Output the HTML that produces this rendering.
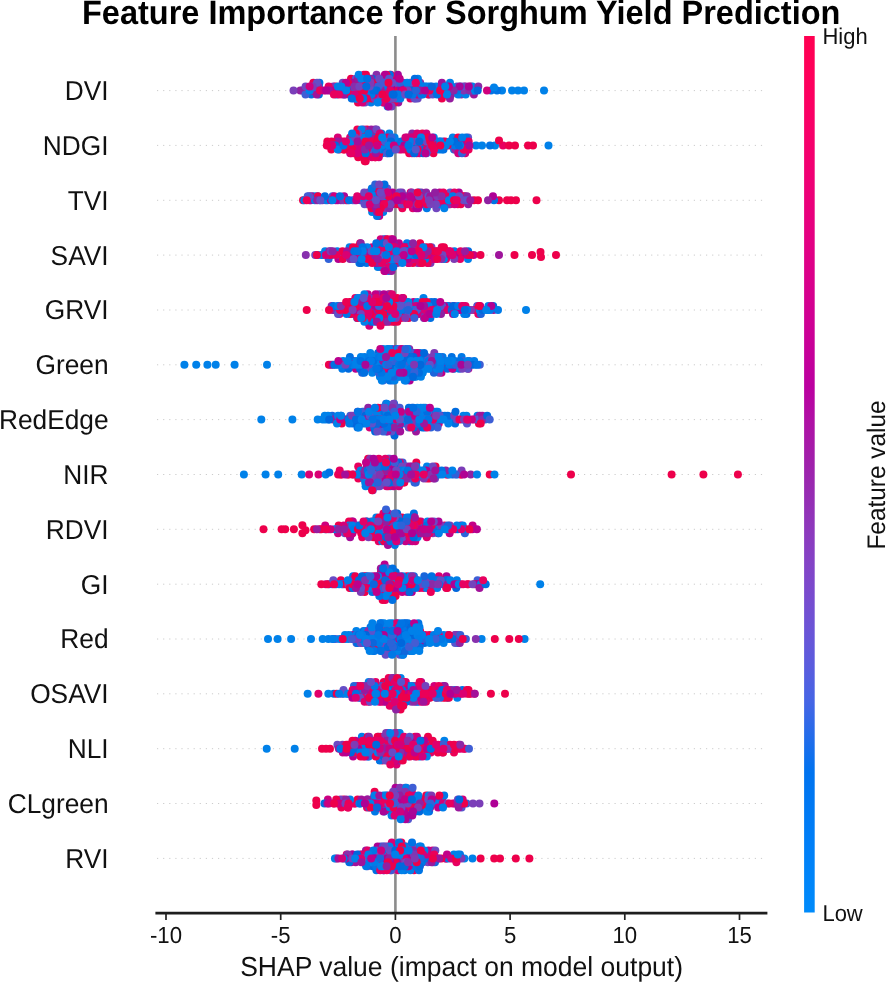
<!DOCTYPE html><html><head><meta charset="utf-8"><style>html,body{margin:0;padding:0;background:#fff;width:886px;height:982px;overflow:hidden}svg{display:block;will-change:transform}text{font-family:"Liberation Sans",sans-serif;text-rendering:geometricPrecision}</style></head><body>
<svg width="886" height="982" viewBox="0 0 886 982">
<defs><linearGradient id="cb" x1="0" y1="1" x2="0" y2="0">
<stop offset="0.00" stop-color="#008bfb"/>
<stop offset="0.04" stop-color="#0085f9"/>
<stop offset="0.08" stop-color="#007ff7"/>
<stop offset="0.12" stop-color="#0079f3"/>
<stop offset="0.16" stop-color="#0073ef"/>
<stop offset="0.20" stop-color="#236cea"/>
<stop offset="0.24" stop-color="#4565e5"/>
<stop offset="0.28" stop-color="#5a5dde"/>
<stop offset="0.32" stop-color="#6a55d7"/>
<stop offset="0.36" stop-color="#784ccf"/>
<stop offset="0.40" stop-color="#8443c6"/>
<stop offset="0.44" stop-color="#8e38bc"/>
<stop offset="0.48" stop-color="#972bb2"/>
<stop offset="0.52" stop-color="#a21eaa"/>
<stop offset="0.56" stop-color="#af11a5"/>
<stop offset="0.60" stop-color="#bb00a0"/>
<stop offset="0.64" stop-color="#c60099"/>
<stop offset="0.68" stop-color="#d00093"/>
<stop offset="0.72" stop-color="#d9008b"/>
<stop offset="0.76" stop-color="#e20084"/>
<stop offset="0.80" stop-color="#e9007c"/>
<stop offset="0.84" stop-color="#f00074"/>
<stop offset="0.88" stop-color="#f6006b"/>
<stop offset="0.92" stop-color="#fb0063"/>
<stop offset="0.96" stop-color="#ff005a"/>
<stop offset="1.00" stop-color="#ff0051"/>
</linearGradient></defs>
<line x1="157" y1="90.6" x2="763" y2="90.6" stroke="#cccccc" stroke-width="1" stroke-dasharray="1.2 4.9"/>
<line x1="157" y1="145.4" x2="763" y2="145.4" stroke="#cccccc" stroke-width="1" stroke-dasharray="1.2 4.9"/>
<line x1="157" y1="200.3" x2="763" y2="200.3" stroke="#cccccc" stroke-width="1" stroke-dasharray="1.2 4.9"/>
<line x1="157" y1="255.1" x2="763" y2="255.1" stroke="#cccccc" stroke-width="1" stroke-dasharray="1.2 4.9"/>
<line x1="157" y1="310.0" x2="763" y2="310.0" stroke="#cccccc" stroke-width="1" stroke-dasharray="1.2 4.9"/>
<line x1="157" y1="364.8" x2="763" y2="364.8" stroke="#cccccc" stroke-width="1" stroke-dasharray="1.2 4.9"/>
<line x1="157" y1="419.6" x2="763" y2="419.6" stroke="#cccccc" stroke-width="1" stroke-dasharray="1.2 4.9"/>
<line x1="157" y1="474.5" x2="763" y2="474.5" stroke="#cccccc" stroke-width="1" stroke-dasharray="1.2 4.9"/>
<line x1="157" y1="529.3" x2="763" y2="529.3" stroke="#cccccc" stroke-width="1" stroke-dasharray="1.2 4.9"/>
<line x1="157" y1="584.2" x2="763" y2="584.2" stroke="#cccccc" stroke-width="1" stroke-dasharray="1.2 4.9"/>
<line x1="157" y1="639.0" x2="763" y2="639.0" stroke="#cccccc" stroke-width="1" stroke-dasharray="1.2 4.9"/>
<line x1="157" y1="693.8" x2="763" y2="693.8" stroke="#cccccc" stroke-width="1" stroke-dasharray="1.2 4.9"/>
<line x1="157" y1="748.7" x2="763" y2="748.7" stroke="#cccccc" stroke-width="1" stroke-dasharray="1.2 4.9"/>
<line x1="157" y1="803.5" x2="763" y2="803.5" stroke="#cccccc" stroke-width="1" stroke-dasharray="1.2 4.9"/>
<line x1="157" y1="858.4" x2="763" y2="858.4" stroke="#cccccc" stroke-width="1" stroke-dasharray="1.2 4.9"/>
<line x1="395.4" y1="36" x2="395.4" y2="912" stroke="#8c8c8c" stroke-width="2.6"/>
<circle cx="456.9" cy="86.6" r="4" fill="#5855cd"/>
<circle cx="302.3" cy="90.6" r="4" fill="#1b65db"/>
<circle cx="473.9" cy="94.5" r="4" fill="#9c169c"/>
<circle cx="400.0" cy="94.5" r="4" fill="#ed004b"/>
<circle cx="436.1" cy="86.6" r="4" fill="#0080e9"/>
<circle cx="518.0" cy="90.6" r="4" fill="#0081e9"/>
<circle cx="379.7" cy="82.7" r="4" fill="#c40086"/>
<circle cx="381.1" cy="78.8" r="4" fill="#ed004b"/>
<circle cx="449.6" cy="94.5" r="4" fill="#006bde"/>
<circle cx="465.7" cy="90.6" r="4" fill="#0076e6"/>
<circle cx="370.8" cy="90.6" r="4" fill="#694bc4"/>
<circle cx="544.0" cy="90.6" r="4" fill="#0081e9"/>
<circle cx="335.4" cy="86.6" r="4" fill="#ed004b"/>
<circle cx="429.1" cy="94.5" r="4" fill="#654ec7"/>
<circle cx="362.0" cy="82.7" r="4" fill="#aa0496"/>
<circle cx="311.3" cy="94.5" r="4" fill="#006ee0"/>
<circle cx="304.6" cy="90.6" r="4" fill="#c40086"/>
<circle cx="470.5" cy="86.6" r="4" fill="#ed004b"/>
<circle cx="412.8" cy="86.6" r="4" fill="#674cc5"/>
<circle cx="410.4" cy="98.5" r="4" fill="#ea005a"/>
<circle cx="399.4" cy="82.7" r="4" fill="#006cdf"/>
<circle cx="428.4" cy="94.5" r="4" fill="#ec0057"/>
<circle cx="342.9" cy="86.6" r="4" fill="#8137b2"/>
<circle cx="502.0" cy="90.6" r="4" fill="#0081e9"/>
<circle cx="356.8" cy="86.6" r="4" fill="#7741bb"/>
<circle cx="360.5" cy="94.5" r="4" fill="#bd008c"/>
<circle cx="360.8" cy="82.7" r="4" fill="#df006c"/>
<circle cx="386.3" cy="90.6" r="4" fill="#db0071"/>
<circle cx="368.9" cy="98.5" r="4" fill="#ed004f"/>
<circle cx="357.0" cy="82.7" r="4" fill="#b30092"/>
<circle cx="368.6" cy="90.6" r="4" fill="#8f22a2"/>
<circle cx="394.3" cy="78.8" r="4" fill="#007ee8"/>
<circle cx="408.6" cy="86.6" r="4" fill="#8a2ca8"/>
<circle cx="369.4" cy="94.5" r="4" fill="#931fa0"/>
<circle cx="378.2" cy="98.5" r="4" fill="#0081e9"/>
<circle cx="336.4" cy="94.5" r="4" fill="#0071e3"/>
<circle cx="312.2" cy="90.6" r="4" fill="#e8005d"/>
<circle cx="472.3" cy="86.6" r="4" fill="#0081e9"/>
<circle cx="441.3" cy="94.5" r="4" fill="#0081e9"/>
<circle cx="371.0" cy="102.4" r="4" fill="#007de8"/>
<circle cx="349.9" cy="90.6" r="4" fill="#0074e4"/>
<circle cx="397.9" cy="74.8" r="4" fill="#a80798"/>
<circle cx="341.6" cy="90.6" r="4" fill="#991a9d"/>
<circle cx="378.3" cy="82.7" r="4" fill="#cf007d"/>
<circle cx="381.2" cy="90.6" r="4" fill="#3b60d6"/>
<circle cx="364.1" cy="78.8" r="4" fill="#d50078"/>
<circle cx="497.0" cy="90.6" r="4" fill="#0073e4"/>
<circle cx="383.0" cy="102.4" r="4" fill="#7841bb"/>
<circle cx="373.6" cy="82.7" r="4" fill="#007fe8"/>
<circle cx="347.7" cy="90.6" r="4" fill="#0081e9"/>
<circle cx="469.6" cy="90.6" r="4" fill="#435dd4"/>
<circle cx="383.4" cy="90.6" r="4" fill="#0081e9"/>
<circle cx="465.5" cy="86.6" r="4" fill="#9b189d"/>
<circle cx="422.7" cy="94.5" r="4" fill="#0075e5"/>
<circle cx="351.2" cy="86.6" r="4" fill="#ce007e"/>
<circle cx="333.3" cy="86.6" r="4" fill="#8236b1"/>
<circle cx="491.0" cy="90.6" r="4" fill="#0073e4"/>
<circle cx="381.3" cy="82.7" r="4" fill="#ec0056"/>
<circle cx="417.7" cy="90.6" r="4" fill="#d40078"/>
<circle cx="385.6" cy="78.8" r="4" fill="#ea0059"/>
<circle cx="366.0" cy="98.5" r="4" fill="#e8005d"/>
<circle cx="353.3" cy="90.6" r="4" fill="#e9005c"/>
<circle cx="314.8" cy="90.6" r="4" fill="#7d3cb6"/>
<circle cx="300.3" cy="90.6" r="4" fill="#9121a1"/>
<circle cx="363.6" cy="94.5" r="4" fill="#cc0080"/>
<circle cx="374.4" cy="90.6" r="4" fill="#ed004b"/>
<circle cx="308.1" cy="90.6" r="4" fill="#e0006b"/>
<circle cx="389.9" cy="102.4" r="4" fill="#0081e9"/>
<circle cx="321.1" cy="90.6" r="4" fill="#0081e9"/>
<circle cx="444.5" cy="90.6" r="4" fill="#7543bc"/>
<circle cx="414.4" cy="98.5" r="4" fill="#7c3db7"/>
<circle cx="377.2" cy="78.8" r="4" fill="#0070e1"/>
<circle cx="426.9" cy="86.6" r="4" fill="#006ddf"/>
<circle cx="387.6" cy="106.4" r="4" fill="#0081e9"/>
<circle cx="395.4" cy="90.6" r="4" fill="#a90497"/>
<circle cx="365.0" cy="102.4" r="4" fill="#674dc5"/>
<circle cx="402.6" cy="94.5" r="4" fill="#0081e9"/>
<circle cx="432.8" cy="90.6" r="4" fill="#8533ae"/>
<circle cx="359.3" cy="90.6" r="4" fill="#c10089"/>
<circle cx="487.0" cy="90.6" r="4" fill="#d0007d"/>
<circle cx="375.8" cy="86.6" r="4" fill="#007be8"/>
<circle cx="461.2" cy="94.5" r="4" fill="#8a2da9"/>
<circle cx="342.7" cy="82.7" r="4" fill="#7047c1"/>
<circle cx="344.5" cy="94.5" r="4" fill="#0081e9"/>
<circle cx="383.0" cy="98.5" r="4" fill="#ed004b"/>
<circle cx="413.3" cy="90.6" r="4" fill="#882eab"/>
<circle cx="376.5" cy="74.8" r="4" fill="#892ea9"/>
<circle cx="417.7" cy="98.5" r="4" fill="#6b4ac3"/>
<circle cx="354.7" cy="90.6" r="4" fill="#007de8"/>
<circle cx="451.2" cy="94.5" r="4" fill="#9121a1"/>
<circle cx="317.6" cy="90.6" r="4" fill="#0081e9"/>
<circle cx="368.4" cy="82.7" r="4" fill="#ed0053"/>
<circle cx="398.3" cy="102.4" r="4" fill="#a1139a"/>
<circle cx="358.0" cy="102.4" r="4" fill="#ed004b"/>
<circle cx="318.9" cy="94.5" r="4" fill="#006de0"/>
<circle cx="336.1" cy="90.6" r="4" fill="#0081e9"/>
<circle cx="389.1" cy="98.5" r="4" fill="#d2007b"/>
<circle cx="391.2" cy="102.4" r="4" fill="#0081e9"/>
<circle cx="441.9" cy="98.5" r="4" fill="#ed004b"/>
<circle cx="420.2" cy="82.7" r="4" fill="#882eab"/>
<circle cx="451.3" cy="86.6" r="4" fill="#007de8"/>
<circle cx="349.5" cy="94.5" r="4" fill="#df006c"/>
<circle cx="381.5" cy="86.6" r="4" fill="#5c53cb"/>
<circle cx="410.4" cy="94.5" r="4" fill="#0073e4"/>
<circle cx="405.2" cy="86.6" r="4" fill="#0072e3"/>
<circle cx="512.0" cy="90.6" r="4" fill="#0081e9"/>
<circle cx="367.3" cy="86.6" r="4" fill="#3461d7"/>
<circle cx="305.6" cy="86.6" r="4" fill="#7146bf"/>
<circle cx="393.0" cy="82.7" r="4" fill="#5c53cb"/>
<circle cx="392.8" cy="78.8" r="4" fill="#b8008e"/>
<circle cx="378.9" cy="94.5" r="4" fill="#9e159b"/>
<circle cx="418.6" cy="82.7" r="4" fill="#0081e9"/>
<circle cx="400.1" cy="86.6" r="4" fill="#7543bc"/>
<circle cx="347.7" cy="86.6" r="4" fill="#b00093"/>
<circle cx="394.1" cy="102.4" r="4" fill="#ed0054"/>
<circle cx="351.0" cy="78.8" r="4" fill="#ed004b"/>
<circle cx="461.4" cy="90.6" r="4" fill="#941e9f"/>
<circle cx="356.8" cy="98.5" r="4" fill="#7147c0"/>
<circle cx="414.9" cy="94.5" r="4" fill="#465cd3"/>
<circle cx="383.4" cy="98.5" r="4" fill="#0081e9"/>
<circle cx="473.3" cy="90.6" r="4" fill="#0081e9"/>
<circle cx="372.1" cy="78.8" r="4" fill="#0069dd"/>
<circle cx="441.3" cy="90.6" r="4" fill="#0081e9"/>
<circle cx="387.0" cy="102.4" r="4" fill="#5a54cc"/>
<circle cx="319.0" cy="86.6" r="4" fill="#3661d7"/>
<circle cx="305.5" cy="94.5" r="4" fill="#405ed5"/>
<circle cx="293.5" cy="90.6" r="4" fill="#7b3eb8"/>
<circle cx="315.6" cy="86.6" r="4" fill="#6f48c1"/>
<circle cx="366.6" cy="94.5" r="4" fill="#0081e9"/>
<circle cx="389.9" cy="94.5" r="4" fill="#e50064"/>
<circle cx="384.6" cy="86.6" r="4" fill="#961d9f"/>
<circle cx="458.8" cy="90.6" r="4" fill="#ea0059"/>
<circle cx="373.1" cy="82.7" r="4" fill="#ed004b"/>
<circle cx="446.1" cy="86.6" r="4" fill="#0e66db"/>
<circle cx="380.5" cy="98.5" r="4" fill="#007ee8"/>
<circle cx="349.6" cy="82.7" r="4" fill="#7147c0"/>
<circle cx="402.8" cy="86.6" r="4" fill="#0081e9"/>
<circle cx="415.6" cy="86.6" r="4" fill="#3761d7"/>
<circle cx="403.1" cy="82.7" r="4" fill="#8c2aa7"/>
<circle cx="316.7" cy="94.5" r="4" fill="#9d159b"/>
<circle cx="397.9" cy="98.5" r="4" fill="#d80074"/>
<circle cx="458.1" cy="94.5" r="4" fill="#0080e9"/>
<circle cx="386.1" cy="78.8" r="4" fill="#644ec7"/>
<circle cx="465.7" cy="94.5" r="4" fill="#0081e9"/>
<circle cx="393.5" cy="86.6" r="4" fill="#6d49c2"/>
<circle cx="377.9" cy="94.5" r="4" fill="#5e52cb"/>
<circle cx="399.7" cy="86.6" r="4" fill="#b40091"/>
<circle cx="384.2" cy="94.5" r="4" fill="#ed004b"/>
<circle cx="339.0" cy="90.6" r="4" fill="#0076e5"/>
<circle cx="355.9" cy="78.8" r="4" fill="#6350c8"/>
<circle cx="450.0" cy="82.7" r="4" fill="#0081e9"/>
<circle cx="371.9" cy="98.5" r="4" fill="#ed004b"/>
<circle cx="406.7" cy="90.6" r="4" fill="#e50064"/>
<circle cx="363.9" cy="74.8" r="4" fill="#eb0058"/>
<circle cx="347.0" cy="86.6" r="4" fill="#0071e2"/>
<circle cx="463.7" cy="90.6" r="4" fill="#8434b0"/>
<circle cx="384.0" cy="102.4" r="4" fill="#db0071"/>
<circle cx="385.6" cy="82.7" r="4" fill="#0076e5"/>
<circle cx="438.3" cy="90.6" r="4" fill="#0081e9"/>
<circle cx="356.4" cy="82.7" r="4" fill="#9121a1"/>
<circle cx="389.6" cy="86.6" r="4" fill="#961d9f"/>
<circle cx="390.8" cy="74.8" r="4" fill="#ed0055"/>
<circle cx="378.8" cy="86.6" r="4" fill="#6c49c2"/>
<circle cx="374.8" cy="98.5" r="4" fill="#7e3cb5"/>
<circle cx="357.4" cy="90.6" r="4" fill="#7146c0"/>
<circle cx="353.1" cy="82.7" r="4" fill="#a50e99"/>
<circle cx="396.5" cy="82.7" r="4" fill="#b7008f"/>
<circle cx="348.0" cy="82.7" r="4" fill="#ed004b"/>
<circle cx="415.4" cy="98.5" r="4" fill="#6151c9"/>
<circle cx="411.3" cy="86.6" r="4" fill="#0079e7"/>
<circle cx="379.0" cy="90.6" r="4" fill="#8f22a2"/>
<circle cx="451.3" cy="90.6" r="4" fill="#0067dc"/>
<circle cx="447.0" cy="90.6" r="4" fill="#db0071"/>
<circle cx="463.8" cy="86.6" r="4" fill="#7d3cb6"/>
<circle cx="343.4" cy="90.6" r="4" fill="#006fe1"/>
<circle cx="330.7" cy="90.6" r="4" fill="#ed004b"/>
<circle cx="372.5" cy="86.6" r="4" fill="#cb0081"/>
<circle cx="417.6" cy="94.5" r="4" fill="#ce007e"/>
<circle cx="390.6" cy="98.5" r="4" fill="#3860d7"/>
<circle cx="373.7" cy="94.5" r="4" fill="#db0071"/>
<circle cx="359.0" cy="94.5" r="4" fill="#ed004b"/>
<circle cx="377.7" cy="102.4" r="4" fill="#0081e9"/>
<circle cx="400.3" cy="98.5" r="4" fill="#0081e9"/>
<circle cx="342.3" cy="94.5" r="4" fill="#a21199"/>
<circle cx="353.9" cy="94.5" r="4" fill="#6a4bc4"/>
<circle cx="362.7" cy="78.8" r="4" fill="#ed004b"/>
<circle cx="361.9" cy="86.6" r="4" fill="#ed004b"/>
<circle cx="457.1" cy="90.6" r="4" fill="#0077e6"/>
<circle cx="388.0" cy="86.6" r="4" fill="#0079e7"/>
<circle cx="389.8" cy="74.8" r="4" fill="#0071e3"/>
<circle cx="421.2" cy="94.5" r="4" fill="#0076e6"/>
<circle cx="354.1" cy="98.5" r="4" fill="#0081e9"/>
<circle cx="441.9" cy="82.7" r="4" fill="#9f149b"/>
<circle cx="426.9" cy="90.6" r="4" fill="#435dd4"/>
<circle cx="386.5" cy="74.8" r="4" fill="#ed004b"/>
<circle cx="313.3" cy="82.7" r="4" fill="#ed0050"/>
<circle cx="362.5" cy="90.6" r="4" fill="#ed004b"/>
<circle cx="387.3" cy="94.5" r="4" fill="#e30067"/>
<circle cx="328.6" cy="86.6" r="4" fill="#e70061"/>
<circle cx="469.5" cy="90.6" r="4" fill="#8c29a6"/>
<circle cx="420.9" cy="86.6" r="4" fill="#0081e9"/>
<circle cx="417.9" cy="78.8" r="4" fill="#0081e9"/>
<circle cx="319.4" cy="82.7" r="4" fill="#0071e3"/>
<circle cx="396.9" cy="98.5" r="4" fill="#007ee8"/>
<circle cx="365.6" cy="94.5" r="4" fill="#892eaa"/>
<circle cx="424.7" cy="86.6" r="4" fill="#0081e9"/>
<circle cx="475.0" cy="90.6" r="4" fill="#0081e9"/>
<circle cx="460.7" cy="86.6" r="4" fill="#425dd4"/>
<circle cx="371.5" cy="94.5" r="4" fill="#007ae7"/>
<circle cx="364.1" cy="90.6" r="4" fill="#ed004b"/>
<circle cx="345.0" cy="94.5" r="4" fill="#a2129a"/>
<circle cx="459.7" cy="86.6" r="4" fill="#a90697"/>
<circle cx="423.5" cy="90.6" r="4" fill="#0081e9"/>
<circle cx="397.0" cy="86.6" r="4" fill="#664dc6"/>
<circle cx="398.1" cy="90.6" r="4" fill="#c20087"/>
<circle cx="356.9" cy="86.6" r="4" fill="#ed004d"/>
<circle cx="384.9" cy="74.8" r="4" fill="#b50090"/>
<circle cx="351.0" cy="94.5" r="4" fill="#ed004b"/>
<circle cx="413.4" cy="82.7" r="4" fill="#ed004b"/>
<circle cx="478.3" cy="86.6" r="4" fill="#8c27a6"/>
<circle cx="432.7" cy="94.5" r="4" fill="#5e52cb"/>
<circle cx="379.2" cy="78.8" r="4" fill="#6b4ac3"/>
<circle cx="448.4" cy="90.6" r="4" fill="#007fe8"/>
<circle cx="391.2" cy="90.6" r="4" fill="#e60063"/>
<circle cx="412.8" cy="94.5" r="4" fill="#0078e7"/>
<circle cx="433.7" cy="90.6" r="4" fill="#0076e5"/>
<circle cx="334.3" cy="90.6" r="4" fill="#c10088"/>
<circle cx="389.1" cy="78.8" r="4" fill="#5656ce"/>
<circle cx="337.9" cy="86.6" r="4" fill="#0080e9"/>
<circle cx="378.2" cy="86.6" r="4" fill="#3d5fd5"/>
<circle cx="417.6" cy="86.6" r="4" fill="#cd007f"/>
<circle cx="318.4" cy="86.6" r="4" fill="#8b2ba8"/>
<circle cx="410.1" cy="82.7" r="4" fill="#5b54cc"/>
<circle cx="366.8" cy="98.5" r="4" fill="#e9005b"/>
<circle cx="393.4" cy="90.6" r="4" fill="#ed004b"/>
<circle cx="317.0" cy="82.7" r="4" fill="#644fc7"/>
<circle cx="393.2" cy="98.5" r="4" fill="#7047c1"/>
<circle cx="429.9" cy="86.6" r="4" fill="#007de8"/>
<circle cx="370.5" cy="78.8" r="4" fill="#8e24a4"/>
<circle cx="376.7" cy="90.6" r="4" fill="#006bde"/>
<circle cx="391.1" cy="86.6" r="4" fill="#ac0196"/>
<circle cx="386.5" cy="98.5" r="4" fill="#ed0050"/>
<circle cx="392.1" cy="82.7" r="4" fill="#664dc6"/>
<circle cx="362.3" cy="102.4" r="4" fill="#d50078"/>
<circle cx="363.2" cy="98.5" r="4" fill="#0073e4"/>
<circle cx="437.1" cy="94.5" r="4" fill="#0071e2"/>
<circle cx="345.9" cy="82.7" r="4" fill="#be008b"/>
<circle cx="429.5" cy="90.6" r="4" fill="#ec0056"/>
<circle cx="346.2" cy="90.6" r="4" fill="#0081e9"/>
<circle cx="382.3" cy="94.5" r="4" fill="#ed004b"/>
<circle cx="356.2" cy="98.5" r="4" fill="#0081e9"/>
<circle cx="358.0" cy="78.8" r="4" fill="#981b9e"/>
<circle cx="468.8" cy="86.6" r="4" fill="#ac0195"/>
<circle cx="422.8" cy="86.6" r="4" fill="#007ee8"/>
<circle cx="358.7" cy="74.8" r="4" fill="#0081e9"/>
<circle cx="354.7" cy="94.5" r="4" fill="#d50078"/>
<circle cx="373.1" cy="90.6" r="4" fill="#006ee0"/>
<circle cx="369.7" cy="86.6" r="4" fill="#694bc4"/>
<circle cx="524.0" cy="90.6" r="4" fill="#0081e9"/>
<circle cx="354.4" cy="86.6" r="4" fill="#882eab"/>
<circle cx="453.7" cy="90.6" r="4" fill="#8e24a3"/>
<circle cx="366.0" cy="74.8" r="4" fill="#ed004b"/>
<circle cx="391.6" cy="106.4" r="4" fill="#7543bd"/>
<circle cx="410.5" cy="90.6" r="4" fill="#0069dd"/>
<circle cx="359.8" cy="98.5" r="4" fill="#ed004b"/>
<circle cx="364.9" cy="82.7" r="4" fill="#ec0056"/>
<circle cx="383.8" cy="82.7" r="4" fill="#445cd3"/>
<circle cx="361.4" cy="78.8" r="4" fill="#0081e9"/>
<circle cx="400.3" cy="82.7" r="4" fill="#3062d8"/>
<circle cx="420.4" cy="90.6" r="4" fill="#991b9e"/>
<circle cx="359.3" cy="86.6" r="4" fill="#7443bd"/>
<circle cx="370.5" cy="82.7" r="4" fill="#7e3cb5"/>
<circle cx="390.2" cy="90.6" r="4" fill="#e40064"/>
<circle cx="401.7" cy="90.6" r="4" fill="#af0094"/>
<circle cx="320.1" cy="90.6" r="4" fill="#eb0058"/>
<circle cx="323.9" cy="90.6" r="4" fill="#d3007a"/>
<circle cx="425.1" cy="90.6" r="4" fill="#b50090"/>
<circle cx="441.6" cy="86.6" r="4" fill="#9f149b"/>
<circle cx="444.7" cy="94.5" r="4" fill="#ed004b"/>
<circle cx="414.8" cy="78.8" r="4" fill="#006ee0"/>
<circle cx="309.6" cy="90.6" r="4" fill="#0081e9"/>
<circle cx="388.5" cy="106.4" r="4" fill="#ae0094"/>
<circle cx="341.3" cy="86.6" r="4" fill="#0081e9"/>
<circle cx="407.1" cy="82.7" r="4" fill="#0081e9"/>
<circle cx="312.5" cy="86.6" r="4" fill="#7c3cb7"/>
<circle cx="431.8" cy="86.6" r="4" fill="#0867db"/>
<circle cx="392.5" cy="94.5" r="4" fill="#1066db"/>
<circle cx="309.6" cy="86.6" r="4" fill="#cf007e"/>
<circle cx="407.6" cy="90.6" r="4" fill="#7e3cb6"/>
<circle cx="449.9" cy="98.5" r="4" fill="#961d9f"/>
<circle cx="403.0" cy="90.6" r="4" fill="#db0071"/>
<circle cx="416.0" cy="90.6" r="4" fill="#2364da"/>
<circle cx="328.8" cy="90.6" r="4" fill="#a1129a"/>
<circle cx="399.7" cy="78.8" r="4" fill="#c10088"/>
<circle cx="448.9" cy="86.6" r="4" fill="#bf008b"/>
<circle cx="477.7" cy="90.6" r="4" fill="#0467db"/>
<circle cx="415.8" cy="82.7" r="4" fill="#e70062"/>
<circle cx="446.9" cy="94.5" r="4" fill="#0081e9"/>
<circle cx="396.1" cy="94.5" r="4" fill="#0076e5"/>
<circle cx="388.5" cy="82.7" r="4" fill="#ed004b"/>
<circle cx="494.0" cy="87.6" r="4" fill="#0081e9"/>
<circle cx="398.1" cy="94.5" r="4" fill="#007ae7"/>
<circle cx="366.3" cy="86.6" r="4" fill="#006cdf"/>
<circle cx="440.1" cy="90.6" r="4" fill="#ed004b"/>
<circle cx="326.1" cy="90.6" r="4" fill="#b20092"/>
<circle cx="351.7" cy="98.5" r="4" fill="#0070e2"/>
<circle cx="405.2" cy="94.5" r="4" fill="#6a4bc4"/>
<circle cx="408.5" cy="94.5" r="4" fill="#006bde"/>
<circle cx="393.6" cy="94.5" r="4" fill="#0069dd"/>
<circle cx="338.9" cy="94.5" r="4" fill="#e50064"/>
<circle cx="367.1" cy="78.8" r="4" fill="#0071e3"/>
<circle cx="333.9" cy="94.5" r="4" fill="#e8005e"/>
<circle cx="445.2" cy="86.6" r="4" fill="#0081e9"/>
<circle cx="413.0" cy="145.4" r="4" fill="#0077e6"/>
<circle cx="360.0" cy="145.4" r="4" fill="#7d3cb6"/>
<circle cx="407.8" cy="141.5" r="4" fill="#0081e9"/>
<circle cx="452.9" cy="141.5" r="4" fill="#0081e9"/>
<circle cx="415.2" cy="137.5" r="4" fill="#0075e5"/>
<circle cx="422.4" cy="133.6" r="4" fill="#ed004b"/>
<circle cx="548.5" cy="145.4" r="4" fill="#0081e9"/>
<circle cx="363.0" cy="137.5" r="4" fill="#694bc4"/>
<circle cx="421.3" cy="149.4" r="4" fill="#e40064"/>
<circle cx="375.3" cy="137.5" r="4" fill="#ed004b"/>
<circle cx="356.4" cy="149.4" r="4" fill="#ed004d"/>
<circle cx="353.6" cy="153.3" r="4" fill="#ed0055"/>
<circle cx="384.9" cy="137.5" r="4" fill="#ed004b"/>
<circle cx="387.4" cy="149.4" r="4" fill="#a60b99"/>
<circle cx="368.3" cy="149.4" r="4" fill="#ed004b"/>
<circle cx="382.2" cy="153.3" r="4" fill="#0081e9"/>
<circle cx="443.0" cy="145.4" r="4" fill="#7741bb"/>
<circle cx="389.7" cy="149.4" r="4" fill="#0071e2"/>
<circle cx="346.8" cy="145.4" r="4" fill="#b40090"/>
<circle cx="338.3" cy="145.4" r="4" fill="#ed004f"/>
<circle cx="339.4" cy="149.4" r="4" fill="#ed004b"/>
<circle cx="362.8" cy="153.3" r="4" fill="#e80060"/>
<circle cx="412.2" cy="133.6" r="4" fill="#8e24a3"/>
<circle cx="468.1" cy="137.5" r="4" fill="#5c53cb"/>
<circle cx="403.6" cy="141.5" r="4" fill="#ed004b"/>
<circle cx="503.0" cy="145.4" r="4" fill="#e80060"/>
<circle cx="378.8" cy="157.3" r="4" fill="#d50077"/>
<circle cx="423.4" cy="141.5" r="4" fill="#d40078"/>
<circle cx="375.5" cy="133.6" r="4" fill="#ce007e"/>
<circle cx="412.4" cy="149.4" r="4" fill="#df006c"/>
<circle cx="430.8" cy="149.4" r="4" fill="#ed004b"/>
<circle cx="450.3" cy="145.4" r="4" fill="#0068dc"/>
<circle cx="396.4" cy="141.5" r="4" fill="#0081e9"/>
<circle cx="366.2" cy="157.3" r="4" fill="#ed0050"/>
<circle cx="423.4" cy="137.5" r="4" fill="#0081e9"/>
<circle cx="442.9" cy="141.5" r="4" fill="#2f62d8"/>
<circle cx="365.7" cy="161.2" r="4" fill="#ea0059"/>
<circle cx="417.2" cy="137.5" r="4" fill="#0a66db"/>
<circle cx="418.9" cy="137.5" r="4" fill="#ed004b"/>
<circle cx="350.1" cy="137.5" r="4" fill="#de006e"/>
<circle cx="461.4" cy="149.4" r="4" fill="#e20068"/>
<circle cx="387.1" cy="149.4" r="4" fill="#0073e4"/>
<circle cx="357.2" cy="137.5" r="4" fill="#ed004b"/>
<circle cx="375.1" cy="129.6" r="4" fill="#941e9f"/>
<circle cx="383.0" cy="149.4" r="4" fill="#0081e9"/>
<circle cx="362.2" cy="149.4" r="4" fill="#ec0056"/>
<circle cx="343.5" cy="141.5" r="4" fill="#ed004b"/>
<circle cx="392.7" cy="141.5" r="4" fill="#2e63d8"/>
<circle cx="439.3" cy="141.5" r="4" fill="#1b65db"/>
<circle cx="369.5" cy="153.3" r="4" fill="#ed004b"/>
<circle cx="419.5" cy="153.3" r="4" fill="#d90073"/>
<circle cx="385.7" cy="145.4" r="4" fill="#3960d6"/>
<circle cx="353.2" cy="141.5" r="4" fill="#ed004b"/>
<circle cx="457.8" cy="141.5" r="4" fill="#3c5fd6"/>
<circle cx="374.8" cy="141.5" r="4" fill="#db0070"/>
<circle cx="401.3" cy="141.5" r="4" fill="#0074e5"/>
<circle cx="429.1" cy="145.4" r="4" fill="#ec0056"/>
<circle cx="389.3" cy="133.6" r="4" fill="#0081e9"/>
<circle cx="433.5" cy="153.3" r="4" fill="#ed004b"/>
<circle cx="365.0" cy="145.4" r="4" fill="#e40065"/>
<circle cx="382.8" cy="145.4" r="4" fill="#c20088"/>
<circle cx="378.3" cy="145.4" r="4" fill="#c50085"/>
<circle cx="453.7" cy="145.4" r="4" fill="#455cd3"/>
<circle cx="375.3" cy="157.3" r="4" fill="#ed004c"/>
<circle cx="422.7" cy="141.5" r="4" fill="#d50078"/>
<circle cx="327.3" cy="141.5" r="4" fill="#ed004b"/>
<circle cx="454.0" cy="149.4" r="4" fill="#0081e9"/>
<circle cx="387.4" cy="141.5" r="4" fill="#0966db"/>
<circle cx="422.2" cy="145.4" r="4" fill="#cc0080"/>
<circle cx="533.0" cy="145.4" r="4" fill="#ed004b"/>
<circle cx="405.0" cy="149.4" r="4" fill="#ed004b"/>
<circle cx="396.5" cy="145.4" r="4" fill="#007fe8"/>
<circle cx="350.2" cy="153.3" r="4" fill="#c10088"/>
<circle cx="456.9" cy="149.4" r="4" fill="#8532ae"/>
<circle cx="439.0" cy="149.4" r="4" fill="#0081e9"/>
<circle cx="425.6" cy="145.4" r="4" fill="#0081e9"/>
<circle cx="359.5" cy="137.5" r="4" fill="#e0006b"/>
<circle cx="399.2" cy="145.4" r="4" fill="#435dd4"/>
<circle cx="361.9" cy="133.6" r="4" fill="#931fa0"/>
<circle cx="509.0" cy="145.4" r="4" fill="#ed004b"/>
<circle cx="397.6" cy="145.4" r="4" fill="#0072e4"/>
<circle cx="358.8" cy="141.5" r="4" fill="#0767db"/>
<circle cx="464.0" cy="145.4" r="4" fill="#ed0052"/>
<circle cx="495.0" cy="145.4" r="4" fill="#0081e9"/>
<circle cx="416.2" cy="145.4" r="4" fill="#0081e9"/>
<circle cx="407.4" cy="149.4" r="4" fill="#ed004b"/>
<circle cx="372.1" cy="133.6" r="4" fill="#0081e9"/>
<circle cx="403.4" cy="145.4" r="4" fill="#0081e9"/>
<circle cx="374.9" cy="149.4" r="4" fill="#e20068"/>
<circle cx="364.2" cy="157.3" r="4" fill="#b40091"/>
<circle cx="366.6" cy="153.3" r="4" fill="#7e3bb5"/>
<circle cx="351.8" cy="145.4" r="4" fill="#8c2aa7"/>
<circle cx="409.2" cy="153.3" r="4" fill="#ed004d"/>
<circle cx="528.0" cy="145.4" r="4" fill="#ed004b"/>
<circle cx="360.0" cy="153.3" r="4" fill="#d60077"/>
<circle cx="420.5" cy="149.4" r="4" fill="#b30092"/>
<circle cx="343.6" cy="149.4" r="4" fill="#ed004b"/>
<circle cx="368.0" cy="141.5" r="4" fill="#0081e9"/>
<circle cx="455.2" cy="149.4" r="4" fill="#8a2ca8"/>
<circle cx="374.1" cy="153.3" r="4" fill="#0081e9"/>
<circle cx="379.2" cy="153.3" r="4" fill="#ed004b"/>
<circle cx="371.9" cy="157.3" r="4" fill="#dc0070"/>
<circle cx="468.6" cy="149.4" r="4" fill="#ec0057"/>
<circle cx="340.9" cy="145.4" r="4" fill="#ed004b"/>
<circle cx="355.1" cy="149.4" r="4" fill="#991b9e"/>
<circle cx="340.7" cy="141.5" r="4" fill="#d40079"/>
<circle cx="368.3" cy="137.5" r="4" fill="#dc0070"/>
<circle cx="414.7" cy="141.5" r="4" fill="#e10069"/>
<circle cx="354.7" cy="145.4" r="4" fill="#ed004b"/>
<circle cx="426.4" cy="133.6" r="4" fill="#d2007a"/>
<circle cx="356.0" cy="141.5" r="4" fill="#e80060"/>
<circle cx="404.6" cy="141.5" r="4" fill="#0070e1"/>
<circle cx="367.0" cy="129.6" r="4" fill="#ed004b"/>
<circle cx="434.1" cy="141.5" r="4" fill="#da0072"/>
<circle cx="362.0" cy="141.5" r="4" fill="#e20068"/>
<circle cx="420.7" cy="145.4" r="4" fill="#7e3ab4"/>
<circle cx="426.4" cy="145.4" r="4" fill="#ed004b"/>
<circle cx="415.4" cy="145.4" r="4" fill="#0068dc"/>
<circle cx="423.9" cy="149.4" r="4" fill="#006ee0"/>
<circle cx="462.8" cy="141.5" r="4" fill="#aa0396"/>
<circle cx="382.4" cy="137.5" r="4" fill="#0081e9"/>
<circle cx="337.8" cy="137.5" r="4" fill="#d80074"/>
<circle cx="367.5" cy="145.4" r="4" fill="#ed004b"/>
<circle cx="363.6" cy="129.6" r="4" fill="#892eaa"/>
<circle cx="412.9" cy="137.5" r="4" fill="#e9005c"/>
<circle cx="381.6" cy="149.4" r="4" fill="#0072e3"/>
<circle cx="426.3" cy="137.5" r="4" fill="#ed004b"/>
<circle cx="363.8" cy="133.6" r="4" fill="#e40065"/>
<circle cx="466.1" cy="145.4" r="4" fill="#ec0056"/>
<circle cx="387.5" cy="137.5" r="4" fill="#e70061"/>
<circle cx="328.3" cy="145.4" r="4" fill="#8237b2"/>
<circle cx="433.8" cy="137.5" r="4" fill="#0081e9"/>
<circle cx="417.4" cy="141.5" r="4" fill="#0081e9"/>
<circle cx="412.0" cy="153.3" r="4" fill="#db0071"/>
<circle cx="349.9" cy="149.4" r="4" fill="#e40065"/>
<circle cx="371.3" cy="153.3" r="4" fill="#e20068"/>
<circle cx="372.5" cy="149.4" r="4" fill="#5656ce"/>
<circle cx="337.7" cy="141.5" r="4" fill="#9c179c"/>
<circle cx="465.9" cy="137.5" r="4" fill="#0073e4"/>
<circle cx="353.0" cy="137.5" r="4" fill="#eb0058"/>
<circle cx="461.6" cy="141.5" r="4" fill="#d0007c"/>
<circle cx="458.3" cy="153.3" r="4" fill="#d0007c"/>
<circle cx="374.9" cy="133.6" r="4" fill="#e20068"/>
<circle cx="394.6" cy="137.5" r="4" fill="#0081e9"/>
<circle cx="381.1" cy="141.5" r="4" fill="#0081e9"/>
<circle cx="410.3" cy="149.4" r="4" fill="#007be8"/>
<circle cx="382.0" cy="145.4" r="4" fill="#0081e9"/>
<circle cx="454.8" cy="145.4" r="4" fill="#0078e7"/>
<circle cx="465.2" cy="153.3" r="4" fill="#d70075"/>
<circle cx="345.8" cy="145.4" r="4" fill="#2b63d9"/>
<circle cx="371.2" cy="129.6" r="4" fill="#991a9e"/>
<circle cx="379.1" cy="141.5" r="4" fill="#ed0052"/>
<circle cx="372.2" cy="145.4" r="4" fill="#ce007e"/>
<circle cx="499.0" cy="140.4" r="4" fill="#ed004b"/>
<circle cx="417.2" cy="133.6" r="4" fill="#db0070"/>
<circle cx="383.4" cy="141.5" r="4" fill="#e30066"/>
<circle cx="348.5" cy="141.5" r="4" fill="#0081e9"/>
<circle cx="452.8" cy="137.5" r="4" fill="#0081e9"/>
<circle cx="490.0" cy="145.4" r="4" fill="#0073e4"/>
<circle cx="387.9" cy="153.3" r="4" fill="#0069dd"/>
<circle cx="375.2" cy="157.3" r="4" fill="#e8005e"/>
<circle cx="407.3" cy="137.5" r="4" fill="#d80074"/>
<circle cx="366.8" cy="149.4" r="4" fill="#ed004b"/>
<circle cx="391.4" cy="137.5" r="4" fill="#3262d8"/>
<circle cx="344.3" cy="149.4" r="4" fill="#ed004b"/>
<circle cx="374.1" cy="145.4" r="4" fill="#ed004b"/>
<circle cx="426.7" cy="149.4" r="4" fill="#df006c"/>
<circle cx="357.7" cy="145.4" r="4" fill="#db0071"/>
<circle cx="435.3" cy="145.4" r="4" fill="#ed004b"/>
<circle cx="363.0" cy="157.3" r="4" fill="#d70076"/>
<circle cx="349.2" cy="145.4" r="4" fill="#eb0057"/>
<circle cx="391.6" cy="145.4" r="4" fill="#0071e2"/>
<circle cx="359.8" cy="149.4" r="4" fill="#ce007e"/>
<circle cx="331.6" cy="141.5" r="4" fill="#ed004d"/>
<circle cx="443.5" cy="149.4" r="4" fill="#006fe1"/>
<circle cx="362.7" cy="145.4" r="4" fill="#d40079"/>
<circle cx="335.3" cy="145.4" r="4" fill="#006ade"/>
<circle cx="423.0" cy="153.3" r="4" fill="#0069dd"/>
<circle cx="387.0" cy="153.3" r="4" fill="#445cd3"/>
<circle cx="368.3" cy="141.5" r="4" fill="#ed004b"/>
<circle cx="367.5" cy="133.6" r="4" fill="#ed004b"/>
<circle cx="433.2" cy="145.4" r="4" fill="#e8005f"/>
<circle cx="466.7" cy="145.4" r="4" fill="#0081e9"/>
<circle cx="429.2" cy="149.4" r="4" fill="#892eaa"/>
<circle cx="426.5" cy="153.3" r="4" fill="#3f5ed5"/>
<circle cx="366.9" cy="137.5" r="4" fill="#d60077"/>
<circle cx="438.1" cy="145.4" r="4" fill="#cb0081"/>
<circle cx="445.1" cy="141.5" r="4" fill="#ec0056"/>
<circle cx="381.5" cy="133.6" r="4" fill="#0081e9"/>
<circle cx="425.5" cy="153.3" r="4" fill="#b9008d"/>
<circle cx="365.6" cy="153.3" r="4" fill="#0070e2"/>
<circle cx="441.9" cy="149.4" r="4" fill="#0075e5"/>
<circle cx="458.1" cy="137.5" r="4" fill="#ed004b"/>
<circle cx="385.1" cy="141.5" r="4" fill="#405ed4"/>
<circle cx="410.3" cy="137.5" r="4" fill="#d2007b"/>
<circle cx="358.2" cy="157.3" r="4" fill="#ed004b"/>
<circle cx="331.3" cy="149.4" r="4" fill="#ed004b"/>
<circle cx="417.7" cy="149.4" r="4" fill="#ed0052"/>
<circle cx="377.7" cy="149.4" r="4" fill="#007ee8"/>
<circle cx="447.5" cy="145.4" r="4" fill="#ed004b"/>
<circle cx="430.7" cy="141.5" r="4" fill="#0081e9"/>
<circle cx="426.6" cy="141.5" r="4" fill="#6a4bc3"/>
<circle cx="462.0" cy="153.3" r="4" fill="#3461d7"/>
<circle cx="429.2" cy="137.5" r="4" fill="#ed004b"/>
<circle cx="337.8" cy="149.4" r="4" fill="#0081e9"/>
<circle cx="373.4" cy="137.5" r="4" fill="#0072e3"/>
<circle cx="430.2" cy="141.5" r="4" fill="#ed004b"/>
<circle cx="370.7" cy="137.5" r="4" fill="#8f22a2"/>
<circle cx="465.0" cy="141.5" r="4" fill="#a50c99"/>
<circle cx="454.7" cy="141.5" r="4" fill="#006bde"/>
<circle cx="463.7" cy="149.4" r="4" fill="#ed004b"/>
<circle cx="357.3" cy="129.6" r="4" fill="#ed004f"/>
<circle cx="361.4" cy="129.6" r="4" fill="#0081e9"/>
<circle cx="404.2" cy="145.4" r="4" fill="#b30091"/>
<circle cx="352.3" cy="149.4" r="4" fill="#ed004b"/>
<circle cx="357.3" cy="153.3" r="4" fill="#d40079"/>
<circle cx="391.0" cy="141.5" r="4" fill="#0068dd"/>
<circle cx="449.9" cy="141.5" r="4" fill="#0081e9"/>
<circle cx="421.0" cy="137.5" r="4" fill="#0080e9"/>
<circle cx="412.0" cy="141.5" r="4" fill="#7c3db7"/>
<circle cx="393.4" cy="149.4" r="4" fill="#007ce8"/>
<circle cx="351.0" cy="141.5" r="4" fill="#0081e9"/>
<circle cx="416.7" cy="153.3" r="4" fill="#d1007b"/>
<circle cx="363.6" cy="137.5" r="4" fill="#007fe8"/>
<circle cx="434.1" cy="149.4" r="4" fill="#ea005a"/>
<circle cx="372.4" cy="141.5" r="4" fill="#eb0057"/>
<circle cx="376.5" cy="129.6" r="4" fill="#7147c0"/>
<circle cx="389.7" cy="153.3" r="4" fill="#0069dd"/>
<circle cx="358.0" cy="133.6" r="4" fill="#7147c0"/>
<circle cx="409.2" cy="145.4" r="4" fill="#0081e9"/>
<circle cx="440.3" cy="141.5" r="4" fill="#007ee8"/>
<circle cx="468.7" cy="141.5" r="4" fill="#e70061"/>
<circle cx="364.8" cy="161.2" r="4" fill="#ed004b"/>
<circle cx="445.7" cy="145.4" r="4" fill="#0081e9"/>
<circle cx="414.2" cy="153.3" r="4" fill="#0067dc"/>
<circle cx="432.2" cy="137.5" r="4" fill="#ba008d"/>
<circle cx="415.8" cy="149.4" r="4" fill="#5756cd"/>
<circle cx="388.5" cy="145.4" r="4" fill="#0081e9"/>
<circle cx="399.4" cy="149.4" r="4" fill="#e0006a"/>
<circle cx="401.7" cy="149.4" r="4" fill="#d90073"/>
<circle cx="379.9" cy="133.6" r="4" fill="#da0072"/>
<circle cx="355.8" cy="133.6" r="4" fill="#ed004f"/>
<circle cx="464.3" cy="149.4" r="4" fill="#ea005b"/>
<circle cx="409.7" cy="141.5" r="4" fill="#007ee8"/>
<circle cx="351.2" cy="153.3" r="4" fill="#e70062"/>
<circle cx="332.3" cy="145.4" r="4" fill="#8a2ca8"/>
<circle cx="368.5" cy="133.6" r="4" fill="#0075e5"/>
<circle cx="432.0" cy="145.4" r="4" fill="#ed0051"/>
<circle cx="377.0" cy="141.5" r="4" fill="#ed004b"/>
<circle cx="393.8" cy="145.4" r="4" fill="#cc0080"/>
<circle cx="375.8" cy="153.3" r="4" fill="#a1139a"/>
<circle cx="331.9" cy="145.4" r="4" fill="#db0070"/>
<circle cx="375.5" cy="149.4" r="4" fill="#2864d9"/>
<circle cx="364.9" cy="149.4" r="4" fill="#8e25a4"/>
<circle cx="378.0" cy="137.5" r="4" fill="#ed004b"/>
<circle cx="365.5" cy="141.5" r="4" fill="#ed004b"/>
<circle cx="326.8" cy="145.4" r="4" fill="#ed0051"/>
<circle cx="382.2" cy="137.5" r="4" fill="#0081e9"/>
<circle cx="482.0" cy="145.4" r="4" fill="#0081e9"/>
<circle cx="462.2" cy="137.5" r="4" fill="#007ee8"/>
<circle cx="355.2" cy="137.5" r="4" fill="#7642bc"/>
<circle cx="408.4" cy="145.4" r="4" fill="#0075e5"/>
<circle cx="343.4" cy="145.4" r="4" fill="#0072e4"/>
<circle cx="357.6" cy="141.5" r="4" fill="#a40f99"/>
<circle cx="377.2" cy="145.4" r="4" fill="#cf007d"/>
<circle cx="405.4" cy="137.5" r="4" fill="#d3007a"/>
<circle cx="515.0" cy="145.4" r="4" fill="#ed004b"/>
<circle cx="440.3" cy="145.4" r="4" fill="#ed004b"/>
<circle cx="346.0" cy="141.5" r="4" fill="#e0006b"/>
<circle cx="476.0" cy="145.4" r="4" fill="#0081e9"/>
<circle cx="395.8" cy="149.4" r="4" fill="#644ec7"/>
<circle cx="352.1" cy="133.6" r="4" fill="#007ae7"/>
<circle cx="469.4" cy="145.4" r="4" fill="#a50e99"/>
<circle cx="419.3" cy="141.5" r="4" fill="#0667db"/>
<circle cx="460.0" cy="145.4" r="4" fill="#0081e9"/>
<circle cx="369.0" cy="145.4" r="4" fill="#9d169c"/>
<circle cx="458.9" cy="145.4" r="4" fill="#006ee0"/>
<circle cx="309.5" cy="200.3" r="4" fill="#c20088"/>
<circle cx="388.5" cy="204.2" r="4" fill="#006de0"/>
<circle cx="337.9" cy="200.3" r="4" fill="#ac0095"/>
<circle cx="384.6" cy="200.3" r="4" fill="#ce007e"/>
<circle cx="399.6" cy="196.3" r="4" fill="#6b4ac3"/>
<circle cx="436.4" cy="208.2" r="4" fill="#7147c0"/>
<circle cx="412.9" cy="208.2" r="4" fill="#e0006b"/>
<circle cx="391.2" cy="200.3" r="4" fill="#0081e9"/>
<circle cx="423.8" cy="196.3" r="4" fill="#8533ae"/>
<circle cx="410.6" cy="192.4" r="4" fill="#db0071"/>
<circle cx="381.0" cy="204.2" r="4" fill="#0081e9"/>
<circle cx="374.7" cy="192.4" r="4" fill="#e20067"/>
<circle cx="383.2" cy="212.1" r="4" fill="#0081e9"/>
<circle cx="433.2" cy="200.3" r="4" fill="#007be8"/>
<circle cx="411.3" cy="196.3" r="4" fill="#6c49c2"/>
<circle cx="451.0" cy="200.3" r="4" fill="#d40078"/>
<circle cx="421.3" cy="192.4" r="4" fill="#8f21a2"/>
<circle cx="418.3" cy="208.2" r="4" fill="#a31099"/>
<circle cx="392.4" cy="204.2" r="4" fill="#b30091"/>
<circle cx="382.5" cy="200.3" r="4" fill="#e60062"/>
<circle cx="450.1" cy="204.2" r="4" fill="#e80060"/>
<circle cx="332.5" cy="196.3" r="4" fill="#455cd3"/>
<circle cx="374.4" cy="208.2" r="4" fill="#5d52cb"/>
<circle cx="536.5" cy="200.3" r="4" fill="#ed004b"/>
<circle cx="418.8" cy="192.4" r="4" fill="#007ee8"/>
<circle cx="375.5" cy="196.3" r="4" fill="#ae0094"/>
<circle cx="458.9" cy="192.4" r="4" fill="#b00093"/>
<circle cx="371.8" cy="196.3" r="4" fill="#ec0056"/>
<circle cx="402.3" cy="208.2" r="4" fill="#ed0055"/>
<circle cx="393.9" cy="196.3" r="4" fill="#be008b"/>
<circle cx="448.8" cy="204.2" r="4" fill="#8730ac"/>
<circle cx="384.2" cy="208.2" r="4" fill="#793fb9"/>
<circle cx="416.6" cy="196.3" r="4" fill="#ed004b"/>
<circle cx="499.0" cy="200.3" r="4" fill="#ed004b"/>
<circle cx="422.6" cy="200.3" r="4" fill="#ed004b"/>
<circle cx="439.2" cy="200.3" r="4" fill="#5955cd"/>
<circle cx="381.3" cy="200.3" r="4" fill="#dc006f"/>
<circle cx="412.8" cy="204.2" r="4" fill="#7e3ab4"/>
<circle cx="416.4" cy="208.2" r="4" fill="#b30092"/>
<circle cx="382.5" cy="188.4" r="4" fill="#be008b"/>
<circle cx="449.5" cy="196.3" r="4" fill="#8b2ba8"/>
<circle cx="460.8" cy="204.2" r="4" fill="#ed0053"/>
<circle cx="446.4" cy="200.3" r="4" fill="#de006e"/>
<circle cx="365.9" cy="200.3" r="4" fill="#a60a98"/>
<circle cx="372.1" cy="212.1" r="4" fill="#0081e9"/>
<circle cx="434.4" cy="196.3" r="4" fill="#8038b3"/>
<circle cx="340.9" cy="200.3" r="4" fill="#8d26a5"/>
<circle cx="449.3" cy="196.3" r="4" fill="#007be8"/>
<circle cx="408.3" cy="200.3" r="4" fill="#8335b0"/>
<circle cx="401.9" cy="192.4" r="4" fill="#8138b3"/>
<circle cx="379.0" cy="204.2" r="4" fill="#ed004b"/>
<circle cx="397.2" cy="196.3" r="4" fill="#0081e9"/>
<circle cx="368.2" cy="192.4" r="4" fill="#8a2da9"/>
<circle cx="386.9" cy="196.3" r="4" fill="#ed004b"/>
<circle cx="371.5" cy="208.2" r="4" fill="#ed004b"/>
<circle cx="370.6" cy="200.3" r="4" fill="#ed0054"/>
<circle cx="413.9" cy="196.3" r="4" fill="#ed004b"/>
<circle cx="425.9" cy="200.3" r="4" fill="#6d49c2"/>
<circle cx="416.7" cy="200.3" r="4" fill="#a90497"/>
<circle cx="360.3" cy="200.3" r="4" fill="#1765db"/>
<circle cx="354.8" cy="200.3" r="4" fill="#7146bf"/>
<circle cx="461.2" cy="200.3" r="4" fill="#a0149a"/>
<circle cx="387.2" cy="188.4" r="4" fill="#5a54cc"/>
<circle cx="397.5" cy="204.2" r="4" fill="#ed004b"/>
<circle cx="450.1" cy="192.4" r="4" fill="#5954cc"/>
<circle cx="444.1" cy="196.3" r="4" fill="#931fa0"/>
<circle cx="400.1" cy="200.3" r="4" fill="#0071e3"/>
<circle cx="378.4" cy="188.4" r="4" fill="#e8005f"/>
<circle cx="439.6" cy="204.2" r="4" fill="#0081e9"/>
<circle cx="373.1" cy="196.3" r="4" fill="#0081e9"/>
<circle cx="344.1" cy="196.3" r="4" fill="#a90597"/>
<circle cx="465.4" cy="200.3" r="4" fill="#ed0053"/>
<circle cx="375.6" cy="192.4" r="4" fill="#455cd3"/>
<circle cx="388.1" cy="200.3" r="4" fill="#db0071"/>
<circle cx="352.8" cy="200.3" r="4" fill="#5a54cc"/>
<circle cx="379.3" cy="216.1" r="4" fill="#bf008a"/>
<circle cx="384.7" cy="208.2" r="4" fill="#7e3bb5"/>
<circle cx="313.8" cy="196.3" r="4" fill="#0081e9"/>
<circle cx="430.8" cy="200.3" r="4" fill="#ed004b"/>
<circle cx="454.5" cy="196.3" r="4" fill="#a70898"/>
<circle cx="443.6" cy="204.2" r="4" fill="#8c27a6"/>
<circle cx="438.8" cy="196.3" r="4" fill="#5855cd"/>
<circle cx="367.1" cy="204.2" r="4" fill="#ed004d"/>
<circle cx="335.8" cy="200.3" r="4" fill="#ad0095"/>
<circle cx="386.8" cy="192.4" r="4" fill="#ed004b"/>
<circle cx="400.0" cy="204.2" r="4" fill="#ed004b"/>
<circle cx="458.0" cy="196.3" r="4" fill="#ea005b"/>
<circle cx="346.1" cy="200.3" r="4" fill="#8f22a2"/>
<circle cx="362.3" cy="200.3" r="4" fill="#634fc8"/>
<circle cx="408.7" cy="200.3" r="4" fill="#892eaa"/>
<circle cx="507.0" cy="200.3" r="4" fill="#ed004b"/>
<circle cx="384.7" cy="204.2" r="4" fill="#ed004b"/>
<circle cx="446.1" cy="196.3" r="4" fill="#ea005b"/>
<circle cx="389.8" cy="196.3" r="4" fill="#7e3cb6"/>
<circle cx="378.2" cy="200.3" r="4" fill="#b10093"/>
<circle cx="464.9" cy="196.3" r="4" fill="#8137b2"/>
<circle cx="372.1" cy="192.4" r="4" fill="#0081e9"/>
<circle cx="436.2" cy="200.3" r="4" fill="#a80797"/>
<circle cx="393.5" cy="200.3" r="4" fill="#3f5ed5"/>
<circle cx="343.4" cy="200.3" r="4" fill="#8138b2"/>
<circle cx="384.1" cy="196.3" r="4" fill="#007fe8"/>
<circle cx="422.1" cy="204.2" r="4" fill="#bb008c"/>
<circle cx="347.7" cy="200.3" r="4" fill="#e8005d"/>
<circle cx="468.2" cy="204.2" r="4" fill="#9120a0"/>
<circle cx="394.6" cy="200.3" r="4" fill="#b6008f"/>
<circle cx="392.6" cy="192.4" r="4" fill="#b50090"/>
<circle cx="414.1" cy="200.3" r="4" fill="#aa0396"/>
<circle cx="334.3" cy="196.3" r="4" fill="#d0007c"/>
<circle cx="426.8" cy="208.2" r="4" fill="#0079e7"/>
<circle cx="322.3" cy="200.3" r="4" fill="#a0149b"/>
<circle cx="384.5" cy="184.5" r="4" fill="#006fe1"/>
<circle cx="389.3" cy="208.2" r="4" fill="#8c2aa6"/>
<circle cx="411.2" cy="200.3" r="4" fill="#b7008f"/>
<circle cx="390.6" cy="204.2" r="4" fill="#7b3eb8"/>
<circle cx="378.5" cy="208.2" r="4" fill="#c40086"/>
<circle cx="439.7" cy="192.4" r="4" fill="#bb008c"/>
<circle cx="349.1" cy="200.3" r="4" fill="#0072e3"/>
<circle cx="356.3" cy="200.3" r="4" fill="#c30087"/>
<circle cx="463.5" cy="196.3" r="4" fill="#ed0054"/>
<circle cx="401.8" cy="204.2" r="4" fill="#6b4ac3"/>
<circle cx="303.0" cy="200.3" r="4" fill="#ed004b"/>
<circle cx="384.1" cy="204.2" r="4" fill="#ed0055"/>
<circle cx="474.0" cy="200.3" r="4" fill="#ed004b"/>
<circle cx="443.6" cy="200.3" r="4" fill="#e0006a"/>
<circle cx="417.2" cy="204.2" r="4" fill="#8730ac"/>
<circle cx="406.2" cy="200.3" r="4" fill="#006cdf"/>
<circle cx="516.0" cy="200.3" r="4" fill="#ed004b"/>
<circle cx="467.0" cy="196.3" r="4" fill="#8e25a4"/>
<circle cx="373.2" cy="200.3" r="4" fill="#5e52ca"/>
<circle cx="511.0" cy="200.3" r="4" fill="#ed004b"/>
<circle cx="367.7" cy="196.3" r="4" fill="#5656ce"/>
<circle cx="425.8" cy="196.3" r="4" fill="#0081e9"/>
<circle cx="377.0" cy="216.1" r="4" fill="#0077e6"/>
<circle cx="325.7" cy="200.3" r="4" fill="#3960d6"/>
<circle cx="310.9" cy="200.3" r="4" fill="#9b189c"/>
<circle cx="454.4" cy="192.4" r="4" fill="#e70061"/>
<circle cx="444.3" cy="208.2" r="4" fill="#0081e9"/>
<circle cx="420.8" cy="196.3" r="4" fill="#ed004b"/>
<circle cx="378.2" cy="196.3" r="4" fill="#007ae7"/>
<circle cx="376.9" cy="188.4" r="4" fill="#ed004b"/>
<circle cx="327.4" cy="200.3" r="4" fill="#0081e9"/>
<circle cx="478.0" cy="200.3" r="4" fill="#ed004b"/>
<circle cx="319.6" cy="200.3" r="4" fill="#0081e9"/>
<circle cx="379.6" cy="192.4" r="4" fill="#d80074"/>
<circle cx="383.0" cy="192.4" r="4" fill="#7245be"/>
<circle cx="311.3" cy="196.3" r="4" fill="#a80798"/>
<circle cx="454.7" cy="200.3" r="4" fill="#ed004b"/>
<circle cx="399.3" cy="192.4" r="4" fill="#6d49c2"/>
<circle cx="314.9" cy="200.3" r="4" fill="#007ce8"/>
<circle cx="377.1" cy="212.1" r="4" fill="#a1129a"/>
<circle cx="441.7" cy="200.3" r="4" fill="#eb0058"/>
<circle cx="402.0" cy="200.3" r="4" fill="#d2007b"/>
<circle cx="368.1" cy="200.3" r="4" fill="#007ee8"/>
<circle cx="372.6" cy="204.2" r="4" fill="#0081e9"/>
<circle cx="380.7" cy="208.2" r="4" fill="#ed004b"/>
<circle cx="373.8" cy="204.2" r="4" fill="#b6008f"/>
<circle cx="388.6" cy="196.3" r="4" fill="#ed004b"/>
<circle cx="364.8" cy="200.3" r="4" fill="#0081e9"/>
<circle cx="371.8" cy="188.4" r="4" fill="#0077e6"/>
<circle cx="364.6" cy="204.2" r="4" fill="#6250c8"/>
<circle cx="457.8" cy="204.2" r="4" fill="#ed004b"/>
<circle cx="454.6" cy="204.2" r="4" fill="#d2007b"/>
<circle cx="375.2" cy="184.5" r="4" fill="#2e63d8"/>
<circle cx="419.8" cy="200.3" r="4" fill="#ed004b"/>
<circle cx="387.5" cy="192.4" r="4" fill="#d3007a"/>
<circle cx="363.0" cy="196.3" r="4" fill="#d70076"/>
<circle cx="426.2" cy="192.4" r="4" fill="#8e24a3"/>
<circle cx="494.0" cy="200.3" r="4" fill="#0073e4"/>
<circle cx="426.7" cy="204.2" r="4" fill="#ed0052"/>
<circle cx="376.1" cy="208.2" r="4" fill="#9c179c"/>
<circle cx="452.8" cy="196.3" r="4" fill="#007ee8"/>
<circle cx="379.2" cy="184.5" r="4" fill="#7543bc"/>
<circle cx="309.3" cy="196.3" r="4" fill="#7146bf"/>
<circle cx="381.7" cy="196.3" r="4" fill="#7a3fb9"/>
<circle cx="357.2" cy="196.3" r="4" fill="#e10069"/>
<circle cx="317.3" cy="196.3" r="4" fill="#0081e9"/>
<circle cx="423.7" cy="200.3" r="4" fill="#e9005c"/>
<circle cx="379.1" cy="212.1" r="4" fill="#ed004b"/>
<circle cx="459.2" cy="196.3" r="4" fill="#644fc7"/>
<circle cx="428.5" cy="196.3" r="4" fill="#644fc7"/>
<circle cx="375.8" cy="204.2" r="4" fill="#8c28a6"/>
<circle cx="435.9" cy="204.2" r="4" fill="#7146bf"/>
<circle cx="318.0" cy="196.3" r="4" fill="#ed004b"/>
<circle cx="304.4" cy="200.3" r="4" fill="#007de8"/>
<circle cx="330.9" cy="200.3" r="4" fill="#c10089"/>
<circle cx="324.9" cy="196.3" r="4" fill="#006ade"/>
<circle cx="364.2" cy="192.4" r="4" fill="#7345be"/>
<circle cx="463.7" cy="200.3" r="4" fill="#6d49c2"/>
<circle cx="411.8" cy="192.4" r="4" fill="#8336b1"/>
<circle cx="307.7" cy="196.3" r="4" fill="#455cd3"/>
<circle cx="430.4" cy="204.2" r="4" fill="#7841ba"/>
<circle cx="332.4" cy="200.3" r="4" fill="#0081e9"/>
<circle cx="369.8" cy="204.2" r="4" fill="#d60077"/>
<circle cx="419.0" cy="196.3" r="4" fill="#7543bd"/>
<circle cx="339.9" cy="196.3" r="4" fill="#0071e2"/>
<circle cx="407.2" cy="204.2" r="4" fill="#ed0050"/>
<circle cx="493.0" cy="196.3" r="4" fill="#ae0095"/>
<circle cx="408.9" cy="204.2" r="4" fill="#e50064"/>
<circle cx="467.2" cy="200.3" r="4" fill="#5d53cb"/>
<circle cx="406.6" cy="196.3" r="4" fill="#8c27a6"/>
<circle cx="418.4" cy="204.2" r="4" fill="#ed004b"/>
<circle cx="402.1" cy="196.3" r="4" fill="#b10093"/>
<circle cx="317.1" cy="200.3" r="4" fill="#8f23a3"/>
<circle cx="430.3" cy="196.3" r="4" fill="#9e159b"/>
<circle cx="396.5" cy="196.3" r="4" fill="#ed004b"/>
<circle cx="470.3" cy="200.3" r="4" fill="#9c179c"/>
<circle cx="448.9" cy="200.3" r="4" fill="#0081e9"/>
<circle cx="320.3" cy="200.3" r="4" fill="#644fc8"/>
<circle cx="368.8" cy="196.3" r="4" fill="#e40064"/>
<circle cx="376.0" cy="200.3" r="4" fill="#6250c8"/>
<circle cx="443.3" cy="192.4" r="4" fill="#e9005d"/>
<circle cx="437.3" cy="196.3" r="4" fill="#8039b3"/>
<circle cx="441.5" cy="196.3" r="4" fill="#8b2ba7"/>
<circle cx="306.7" cy="200.3" r="4" fill="#ec0056"/>
<circle cx="397.4" cy="200.3" r="4" fill="#b30091"/>
<circle cx="417.6" cy="192.4" r="4" fill="#ed004b"/>
<circle cx="410.1" cy="196.3" r="4" fill="#bd008c"/>
<circle cx="380.6" cy="192.4" r="4" fill="#6d49c2"/>
<circle cx="488.0" cy="200.3" r="4" fill="#9021a1"/>
<circle cx="454.0" cy="200.3" r="4" fill="#ed004b"/>
<circle cx="428.9" cy="200.3" r="4" fill="#7c3db7"/>
<circle cx="456.7" cy="200.3" r="4" fill="#e80060"/>
<circle cx="435.0" cy="192.4" r="4" fill="#921fa0"/>
<circle cx="448.0" cy="255.1" r="4" fill="#ed004b"/>
<circle cx="381.4" cy="259.1" r="4" fill="#0081e9"/>
<circle cx="465.0" cy="255.1" r="4" fill="#bb008c"/>
<circle cx="420.1" cy="247.2" r="4" fill="#ed0054"/>
<circle cx="468.0" cy="259.1" r="4" fill="#0081e9"/>
<circle cx="435.9" cy="255.1" r="4" fill="#ed004c"/>
<circle cx="381.0" cy="243.3" r="4" fill="#644ec7"/>
<circle cx="409.4" cy="251.2" r="4" fill="#007ce8"/>
<circle cx="473.6" cy="255.1" r="4" fill="#cb0081"/>
<circle cx="436.6" cy="251.2" r="4" fill="#7840ba"/>
<circle cx="366.5" cy="263.0" r="4" fill="#0075e5"/>
<circle cx="428.6" cy="259.1" r="4" fill="#d50077"/>
<circle cx="394.5" cy="255.1" r="4" fill="#892ea9"/>
<circle cx="384.0" cy="239.3" r="4" fill="#0068dc"/>
<circle cx="338.4" cy="259.1" r="4" fill="#b50090"/>
<circle cx="315.2" cy="255.1" r="4" fill="#6e49c1"/>
<circle cx="429.4" cy="251.2" r="4" fill="#0069dd"/>
<circle cx="369.3" cy="259.1" r="4" fill="#b50090"/>
<circle cx="388.7" cy="270.9" r="4" fill="#0081e9"/>
<circle cx="368.0" cy="255.1" r="4" fill="#c60085"/>
<circle cx="371.2" cy="255.1" r="4" fill="#bf008a"/>
<circle cx="395.9" cy="259.1" r="4" fill="#db0071"/>
<circle cx="358.9" cy="247.2" r="4" fill="#3960d6"/>
<circle cx="383.9" cy="267.0" r="4" fill="#cc0080"/>
<circle cx="397.4" cy="263.0" r="4" fill="#8b2ba7"/>
<circle cx="380.3" cy="267.0" r="4" fill="#8c28a6"/>
<circle cx="417.7" cy="263.0" r="4" fill="#7c3db7"/>
<circle cx="349.7" cy="255.1" r="4" fill="#ed004b"/>
<circle cx="390.7" cy="247.2" r="4" fill="#b10093"/>
<circle cx="407.0" cy="243.3" r="4" fill="#007be8"/>
<circle cx="377.8" cy="267.0" r="4" fill="#0081e9"/>
<circle cx="514.5" cy="255.1" r="4" fill="#ed004b"/>
<circle cx="385.9" cy="247.2" r="4" fill="#0081e9"/>
<circle cx="338.7" cy="255.1" r="4" fill="#0081e9"/>
<circle cx="400.9" cy="251.2" r="4" fill="#b30091"/>
<circle cx="384.2" cy="263.0" r="4" fill="#3362d7"/>
<circle cx="397.7" cy="247.2" r="4" fill="#ed004b"/>
<circle cx="454.3" cy="251.2" r="4" fill="#0079e7"/>
<circle cx="541.0" cy="257.1" r="4" fill="#ed004b"/>
<circle cx="407.3" cy="247.2" r="4" fill="#b30091"/>
<circle cx="354.2" cy="259.1" r="4" fill="#a60b99"/>
<circle cx="372.2" cy="247.2" r="4" fill="#d1007b"/>
<circle cx="392.3" cy="251.2" r="4" fill="#ed004b"/>
<circle cx="328.1" cy="255.1" r="4" fill="#0081e9"/>
<circle cx="332.2" cy="255.1" r="4" fill="#8a2ca8"/>
<circle cx="378.8" cy="243.3" r="4" fill="#0081e9"/>
<circle cx="322.7" cy="255.1" r="4" fill="#ed004b"/>
<circle cx="363.3" cy="247.2" r="4" fill="#c0008a"/>
<circle cx="386.4" cy="267.0" r="4" fill="#007ee8"/>
<circle cx="463.2" cy="255.1" r="4" fill="#664dc6"/>
<circle cx="328.6" cy="259.1" r="4" fill="#3262d8"/>
<circle cx="363.3" cy="255.1" r="4" fill="#e70061"/>
<circle cx="393.4" cy="255.1" r="4" fill="#ed004b"/>
<circle cx="445.4" cy="255.1" r="4" fill="#cd007f"/>
<circle cx="387.9" cy="263.0" r="4" fill="#e70062"/>
<circle cx="380.7" cy="239.3" r="4" fill="#d30079"/>
<circle cx="337.2" cy="251.2" r="4" fill="#0080e9"/>
<circle cx="384.4" cy="270.9" r="4" fill="#db0071"/>
<circle cx="376.5" cy="263.0" r="4" fill="#aa0396"/>
<circle cx="393.6" cy="263.0" r="4" fill="#ed004b"/>
<circle cx="457.3" cy="255.1" r="4" fill="#d90074"/>
<circle cx="461.1" cy="255.1" r="4" fill="#a40f99"/>
<circle cx="350.2" cy="251.2" r="4" fill="#0081e9"/>
<circle cx="387.2" cy="255.1" r="4" fill="#0081e9"/>
<circle cx="325.1" cy="251.2" r="4" fill="#0081e9"/>
<circle cx="433.3" cy="255.1" r="4" fill="#ed004b"/>
<circle cx="387.2" cy="251.2" r="4" fill="#0074e5"/>
<circle cx="386.0" cy="239.3" r="4" fill="#8433af"/>
<circle cx="349.6" cy="247.2" r="4" fill="#0081e9"/>
<circle cx="532.0" cy="255.1" r="4" fill="#ed004b"/>
<circle cx="385.7" cy="263.0" r="4" fill="#0081e9"/>
<circle cx="431.5" cy="247.2" r="4" fill="#6a4bc3"/>
<circle cx="415.5" cy="247.2" r="4" fill="#e0006b"/>
<circle cx="391.5" cy="270.9" r="4" fill="#971c9e"/>
<circle cx="378.1" cy="263.0" r="4" fill="#941e9f"/>
<circle cx="467.3" cy="255.1" r="4" fill="#d30079"/>
<circle cx="317.7" cy="255.1" r="4" fill="#0079e7"/>
<circle cx="348.8" cy="255.1" r="4" fill="#ed004b"/>
<circle cx="351.9" cy="255.1" r="4" fill="#0076e6"/>
<circle cx="446.1" cy="259.1" r="4" fill="#eb0057"/>
<circle cx="342.3" cy="255.1" r="4" fill="#3c5fd6"/>
<circle cx="388.6" cy="259.1" r="4" fill="#ed004b"/>
<circle cx="340.9" cy="255.1" r="4" fill="#7a3fb9"/>
<circle cx="404.5" cy="255.1" r="4" fill="#8a2da9"/>
<circle cx="342.8" cy="259.1" r="4" fill="#ed004b"/>
<circle cx="358.8" cy="251.2" r="4" fill="#7840ba"/>
<circle cx="360.0" cy="259.1" r="4" fill="#6b4ac3"/>
<circle cx="383.2" cy="247.2" r="4" fill="#e50064"/>
<circle cx="352.1" cy="251.2" r="4" fill="#e8005e"/>
<circle cx="429.5" cy="255.1" r="4" fill="#d3007a"/>
<circle cx="460.1" cy="259.1" r="4" fill="#e70061"/>
<circle cx="398.9" cy="243.3" r="4" fill="#c10089"/>
<circle cx="420.1" cy="243.3" r="4" fill="#ed004b"/>
<circle cx="417.5" cy="259.1" r="4" fill="#ec0056"/>
<circle cx="384.7" cy="259.1" r="4" fill="#007fe8"/>
<circle cx="408.4" cy="263.0" r="4" fill="#d30079"/>
<circle cx="375.9" cy="255.1" r="4" fill="#d3007a"/>
<circle cx="412.8" cy="263.0" r="4" fill="#ed004b"/>
<circle cx="430.5" cy="263.0" r="4" fill="#8236b1"/>
<circle cx="404.0" cy="259.1" r="4" fill="#d50078"/>
<circle cx="373.8" cy="259.1" r="4" fill="#bf008a"/>
<circle cx="321.6" cy="255.1" r="4" fill="#0081e9"/>
<circle cx="356.6" cy="255.1" r="4" fill="#db0071"/>
<circle cx="424.3" cy="251.2" r="4" fill="#8730ac"/>
<circle cx="394.0" cy="243.3" r="4" fill="#9e159b"/>
<circle cx="499.0" cy="255.1" r="4" fill="#9f149b"/>
<circle cx="358.1" cy="259.1" r="4" fill="#3960d6"/>
<circle cx="361.4" cy="255.1" r="4" fill="#da0072"/>
<circle cx="360.1" cy="243.3" r="4" fill="#ec0056"/>
<circle cx="412.0" cy="247.2" r="4" fill="#e10069"/>
<circle cx="429.8" cy="247.2" r="4" fill="#ed004b"/>
<circle cx="416.2" cy="247.2" r="4" fill="#e60062"/>
<circle cx="390.3" cy="255.1" r="4" fill="#2c63d9"/>
<circle cx="392.0" cy="259.1" r="4" fill="#2e63d8"/>
<circle cx="413.0" cy="259.1" r="4" fill="#0075e5"/>
<circle cx="359.4" cy="263.0" r="4" fill="#0070e2"/>
<circle cx="400.6" cy="259.1" r="4" fill="#a0139a"/>
<circle cx="426.7" cy="259.1" r="4" fill="#0073e4"/>
<circle cx="441.7" cy="247.2" r="4" fill="#ed0055"/>
<circle cx="390.3" cy="267.0" r="4" fill="#0073e4"/>
<circle cx="394.4" cy="247.2" r="4" fill="#ed004b"/>
<circle cx="398.8" cy="251.2" r="4" fill="#007de8"/>
<circle cx="342.5" cy="251.2" r="4" fill="#ed004b"/>
<circle cx="390.2" cy="263.0" r="4" fill="#0081e9"/>
<circle cx="402.1" cy="259.1" r="4" fill="#ed0053"/>
<circle cx="403.1" cy="247.2" r="4" fill="#a1129a"/>
<circle cx="442.5" cy="251.2" r="4" fill="#2e63d8"/>
<circle cx="376.9" cy="247.2" r="4" fill="#0081e9"/>
<circle cx="439.6" cy="255.1" r="4" fill="#0081e9"/>
<circle cx="387.7" cy="243.3" r="4" fill="#c50086"/>
<circle cx="454.6" cy="255.1" r="4" fill="#b6008f"/>
<circle cx="432.4" cy="259.1" r="4" fill="#e10069"/>
<circle cx="415.2" cy="251.2" r="4" fill="#8632ad"/>
<circle cx="460.5" cy="251.2" r="4" fill="#e70061"/>
<circle cx="367.1" cy="255.1" r="4" fill="#d1007c"/>
<circle cx="389.0" cy="251.2" r="4" fill="#007fe8"/>
<circle cx="410.2" cy="255.1" r="4" fill="#ed004b"/>
<circle cx="373.6" cy="255.1" r="4" fill="#e8005f"/>
<circle cx="381.3" cy="251.2" r="4" fill="#ed004b"/>
<circle cx="430.7" cy="255.1" r="4" fill="#c30087"/>
<circle cx="383.5" cy="255.1" r="4" fill="#0081e9"/>
<circle cx="365.9" cy="251.2" r="4" fill="#931fa0"/>
<circle cx="409.2" cy="247.2" r="4" fill="#007be8"/>
<circle cx="329.3" cy="251.2" r="4" fill="#9b189c"/>
<circle cx="422.1" cy="247.2" r="4" fill="#db0071"/>
<circle cx="413.0" cy="243.3" r="4" fill="#8f22a2"/>
<circle cx="445.9" cy="251.2" r="4" fill="#6b4ac3"/>
<circle cx="350.0" cy="259.1" r="4" fill="#8f22a2"/>
<circle cx="468.2" cy="251.2" r="4" fill="#006de0"/>
<circle cx="419.9" cy="259.1" r="4" fill="#b50090"/>
<circle cx="428.0" cy="263.0" r="4" fill="#7146bf"/>
<circle cx="443.9" cy="259.1" r="4" fill="#0081e9"/>
<circle cx="394.4" cy="259.1" r="4" fill="#0081e9"/>
<circle cx="397.1" cy="255.1" r="4" fill="#8335b0"/>
<circle cx="369.6" cy="251.2" r="4" fill="#be008b"/>
<circle cx="330.2" cy="255.1" r="4" fill="#ed004b"/>
<circle cx="379.1" cy="247.2" r="4" fill="#e60063"/>
<circle cx="361.1" cy="263.0" r="4" fill="#0068dc"/>
<circle cx="347.2" cy="251.2" r="4" fill="#a21199"/>
<circle cx="367.2" cy="247.2" r="4" fill="#0081e9"/>
<circle cx="390.3" cy="251.2" r="4" fill="#e0006b"/>
<circle cx="404.5" cy="247.2" r="4" fill="#e70060"/>
<circle cx="450.4" cy="255.1" r="4" fill="#c50085"/>
<circle cx="364.1" cy="251.2" r="4" fill="#991b9e"/>
<circle cx="382.1" cy="247.2" r="4" fill="#e8005e"/>
<circle cx="400.5" cy="255.1" r="4" fill="#ed0051"/>
<circle cx="394.6" cy="247.2" r="4" fill="#d40079"/>
<circle cx="382.1" cy="263.0" r="4" fill="#e40064"/>
<circle cx="409.5" cy="259.1" r="4" fill="#ed004b"/>
<circle cx="442.4" cy="255.1" r="4" fill="#ed004b"/>
<circle cx="414.7" cy="259.1" r="4" fill="#d90073"/>
<circle cx="432.7" cy="251.2" r="4" fill="#cb0081"/>
<circle cx="420.9" cy="259.1" r="4" fill="#e0006a"/>
<circle cx="357.1" cy="247.2" r="4" fill="#ed004b"/>
<circle cx="412.0" cy="255.1" r="4" fill="#007fe8"/>
<circle cx="427.8" cy="263.0" r="4" fill="#eb0059"/>
<circle cx="383.8" cy="251.2" r="4" fill="#e30066"/>
<circle cx="556.0" cy="255.1" r="4" fill="#ed004b"/>
<circle cx="448.6" cy="251.2" r="4" fill="#e60063"/>
<circle cx="360.8" cy="243.3" r="4" fill="#8f23a3"/>
<circle cx="425.1" cy="259.1" r="4" fill="#007be8"/>
<circle cx="397.3" cy="259.1" r="4" fill="#7146c0"/>
<circle cx="469.9" cy="255.1" r="4" fill="#ed004b"/>
<circle cx="426.7" cy="255.1" r="4" fill="#ed004b"/>
<circle cx="387.5" cy="239.3" r="4" fill="#ed004b"/>
<circle cx="407.4" cy="251.2" r="4" fill="#006cdf"/>
<circle cx="353.0" cy="247.2" r="4" fill="#ed004b"/>
<circle cx="383.0" cy="243.3" r="4" fill="#006bde"/>
<circle cx="440.2" cy="251.2" r="4" fill="#e9005b"/>
<circle cx="408.8" cy="263.0" r="4" fill="#d60076"/>
<circle cx="355.4" cy="255.1" r="4" fill="#b6008f"/>
<circle cx="480.5" cy="255.1" r="4" fill="#ed004b"/>
<circle cx="371.6" cy="251.2" r="4" fill="#6151c9"/>
<circle cx="388.5" cy="267.0" r="4" fill="#df006c"/>
<circle cx="442.4" cy="255.1" r="4" fill="#7146bf"/>
<circle cx="414.9" cy="255.1" r="4" fill="#0076e6"/>
<circle cx="365.4" cy="259.1" r="4" fill="#0081e9"/>
<circle cx="386.8" cy="259.1" r="4" fill="#e70061"/>
<circle cx="454.2" cy="259.1" r="4" fill="#7e3bb4"/>
<circle cx="434.8" cy="251.2" r="4" fill="#ed004b"/>
<circle cx="376.8" cy="259.1" r="4" fill="#ed004b"/>
<circle cx="419.3" cy="255.1" r="4" fill="#e30067"/>
<circle cx="390.1" cy="243.3" r="4" fill="#e20068"/>
<circle cx="420.4" cy="263.0" r="4" fill="#dd006e"/>
<circle cx="336.4" cy="255.1" r="4" fill="#ea005a"/>
<circle cx="372.2" cy="259.1" r="4" fill="#9f149b"/>
<circle cx="376.3" cy="243.3" r="4" fill="#006fe1"/>
<circle cx="367.9" cy="259.1" r="4" fill="#ed004b"/>
<circle cx="378.5" cy="255.1" r="4" fill="#e50064"/>
<circle cx="385.1" cy="270.9" r="4" fill="#b8008e"/>
<circle cx="354.3" cy="251.2" r="4" fill="#0074e4"/>
<circle cx="393.3" cy="267.0" r="4" fill="#006cdf"/>
<circle cx="423.9" cy="255.1" r="4" fill="#931fa0"/>
<circle cx="452.5" cy="255.1" r="4" fill="#db0071"/>
<circle cx="325.9" cy="255.1" r="4" fill="#d80075"/>
<circle cx="386.9" cy="243.3" r="4" fill="#694bc4"/>
<circle cx="362.7" cy="247.2" r="4" fill="#0073e4"/>
<circle cx="380.6" cy="255.1" r="4" fill="#634fc8"/>
<circle cx="305.8" cy="255.1" r="4" fill="#8731ad"/>
<circle cx="417.0" cy="251.2" r="4" fill="#eb0058"/>
<circle cx="374.0" cy="251.2" r="4" fill="#0081e9"/>
<circle cx="386.2" cy="255.1" r="4" fill="#0076e5"/>
<circle cx="441.2" cy="259.1" r="4" fill="#8a2da9"/>
<circle cx="465.0" cy="251.2" r="4" fill="#991a9d"/>
<circle cx="391.4" cy="239.3" r="4" fill="#ea005a"/>
<circle cx="407.5" cy="259.1" r="4" fill="#ab0296"/>
<circle cx="360.7" cy="255.1" r="4" fill="#d2007a"/>
<circle cx="330.6" cy="251.2" r="4" fill="#7e3bb5"/>
<circle cx="422.5" cy="251.2" r="4" fill="#d70075"/>
<circle cx="426.2" cy="247.2" r="4" fill="#ed004b"/>
<circle cx="422.5" cy="263.0" r="4" fill="#ed004b"/>
<circle cx="408.2" cy="255.1" r="4" fill="#007ce8"/>
<circle cx="444.0" cy="247.2" r="4" fill="#ed004c"/>
<circle cx="416.3" cy="255.1" r="4" fill="#0068dc"/>
<circle cx="372.2" cy="263.0" r="4" fill="#ed004b"/>
<circle cx="434.9" cy="259.1" r="4" fill="#d1007b"/>
<circle cx="427.7" cy="251.2" r="4" fill="#961d9f"/>
<circle cx="423.3" cy="247.2" r="4" fill="#0081e9"/>
<circle cx="418.8" cy="251.2" r="4" fill="#ed0051"/>
<circle cx="332.8" cy="251.2" r="4" fill="#9121a1"/>
<circle cx="346.2" cy="255.1" r="4" fill="#d90073"/>
<circle cx="362.8" cy="251.2" r="4" fill="#0081e9"/>
<circle cx="402.4" cy="263.0" r="4" fill="#0081e9"/>
<circle cx="377.8" cy="259.1" r="4" fill="#9b179c"/>
<circle cx="405.0" cy="251.2" r="4" fill="#0081e9"/>
<circle cx="396.4" cy="251.2" r="4" fill="#007ae7"/>
<circle cx="450.2" cy="251.2" r="4" fill="#e0006a"/>
<circle cx="403.5" cy="251.2" r="4" fill="#644fc7"/>
<circle cx="388.9" cy="247.2" r="4" fill="#007de8"/>
<circle cx="361.6" cy="259.1" r="4" fill="#0081e9"/>
<circle cx="316.9" cy="255.1" r="4" fill="#ed004b"/>
<circle cx="377.6" cy="251.2" r="4" fill="#d80074"/>
<circle cx="421.3" cy="255.1" r="4" fill="#de006d"/>
<circle cx="403.8" cy="255.1" r="4" fill="#be008c"/>
<circle cx="376.3" cy="251.2" r="4" fill="#0081e9"/>
<circle cx="437.3" cy="259.1" r="4" fill="#ed004b"/>
<circle cx="437.9" cy="251.2" r="4" fill="#ed0051"/>
<circle cx="353.6" cy="259.1" r="4" fill="#5e52ca"/>
<circle cx="411.7" cy="251.2" r="4" fill="#bc008c"/>
<circle cx="540.5" cy="252.1" r="4" fill="#ed004b"/>
<circle cx="392.7" cy="239.3" r="4" fill="#b7008f"/>
<circle cx="357.7" cy="251.2" r="4" fill="#0076e6"/>
<circle cx="357.4" cy="302.1" r="4" fill="#ea005a"/>
<circle cx="370.7" cy="310.0" r="4" fill="#ed004b"/>
<circle cx="426.2" cy="313.9" r="4" fill="#0080e9"/>
<circle cx="448.9" cy="306.0" r="4" fill="#cd007f"/>
<circle cx="369.3" cy="325.8" r="4" fill="#d30079"/>
<circle cx="466.5" cy="313.9" r="4" fill="#0071e3"/>
<circle cx="442.1" cy="310.0" r="4" fill="#6d49c1"/>
<circle cx="384.2" cy="302.1" r="4" fill="#ed004b"/>
<circle cx="423.4" cy="313.9" r="4" fill="#db0071"/>
<circle cx="400.3" cy="313.9" r="4" fill="#ed0053"/>
<circle cx="444.3" cy="310.0" r="4" fill="#0081e9"/>
<circle cx="354.6" cy="310.0" r="4" fill="#5756cd"/>
<circle cx="378.7" cy="298.1" r="4" fill="#0081e9"/>
<circle cx="389.2" cy="298.1" r="4" fill="#e40065"/>
<circle cx="357.1" cy="317.9" r="4" fill="#0081e9"/>
<circle cx="402.6" cy="313.9" r="4" fill="#0070e2"/>
<circle cx="384.2" cy="310.0" r="4" fill="#b8008e"/>
<circle cx="392.1" cy="298.1" r="4" fill="#6d49c1"/>
<circle cx="357.5" cy="306.0" r="4" fill="#de006d"/>
<circle cx="353.2" cy="313.9" r="4" fill="#d1007c"/>
<circle cx="347.8" cy="310.0" r="4" fill="#ed004b"/>
<circle cx="392.7" cy="310.0" r="4" fill="#0081e9"/>
<circle cx="372.1" cy="310.0" r="4" fill="#0081e9"/>
<circle cx="476.6" cy="310.0" r="4" fill="#0076e6"/>
<circle cx="336.7" cy="310.0" r="4" fill="#006ee0"/>
<circle cx="413.1" cy="306.0" r="4" fill="#eb0058"/>
<circle cx="369.3" cy="302.1" r="4" fill="#6051c9"/>
<circle cx="418.6" cy="310.0" r="4" fill="#ed004b"/>
<circle cx="362.8" cy="313.9" r="4" fill="#ed004b"/>
<circle cx="393.3" cy="313.9" r="4" fill="#ea005a"/>
<circle cx="378.7" cy="313.9" r="4" fill="#8f22a2"/>
<circle cx="431.8" cy="310.0" r="4" fill="#d0007c"/>
<circle cx="419.5" cy="306.0" r="4" fill="#0081e9"/>
<circle cx="430.4" cy="317.9" r="4" fill="#0071e2"/>
<circle cx="447.8" cy="306.0" r="4" fill="#0081e9"/>
<circle cx="339.5" cy="313.9" r="4" fill="#d70076"/>
<circle cx="376.1" cy="313.9" r="4" fill="#9e159b"/>
<circle cx="422.7" cy="310.0" r="4" fill="#2d63d9"/>
<circle cx="380.7" cy="321.8" r="4" fill="#ed004b"/>
<circle cx="380.3" cy="298.1" r="4" fill="#0080e9"/>
<circle cx="350.7" cy="313.9" r="4" fill="#0079e7"/>
<circle cx="389.8" cy="321.8" r="4" fill="#ed004c"/>
<circle cx="385.4" cy="306.0" r="4" fill="#ed004b"/>
<circle cx="367.3" cy="321.8" r="4" fill="#cc0080"/>
<circle cx="436.3" cy="306.0" r="4" fill="#0081e9"/>
<circle cx="386.4" cy="310.0" r="4" fill="#ed004b"/>
<circle cx="435.1" cy="310.0" r="4" fill="#0081e9"/>
<circle cx="441.1" cy="310.0" r="4" fill="#006ade"/>
<circle cx="380.2" cy="306.0" r="4" fill="#0081e9"/>
<circle cx="383.6" cy="306.0" r="4" fill="#e10068"/>
<circle cx="397.0" cy="302.1" r="4" fill="#0081e9"/>
<circle cx="383.0" cy="321.8" r="4" fill="#ed004b"/>
<circle cx="334.1" cy="310.0" r="4" fill="#e50064"/>
<circle cx="371.1" cy="317.9" r="4" fill="#006bde"/>
<circle cx="477.2" cy="306.0" r="4" fill="#5855cd"/>
<circle cx="365.0" cy="310.0" r="4" fill="#ed0052"/>
<circle cx="407.5" cy="313.9" r="4" fill="#415dd4"/>
<circle cx="371.5" cy="321.8" r="4" fill="#006cdf"/>
<circle cx="400.5" cy="302.1" r="4" fill="#ed004b"/>
<circle cx="386.7" cy="317.9" r="4" fill="#ec0056"/>
<circle cx="407.3" cy="310.0" r="4" fill="#634fc8"/>
<circle cx="444.3" cy="306.0" r="4" fill="#ad0095"/>
<circle cx="332.6" cy="310.0" r="4" fill="#8d26a5"/>
<circle cx="393.6" cy="298.1" r="4" fill="#b7008f"/>
<circle cx="423.5" cy="298.1" r="4" fill="#0081e9"/>
<circle cx="402.5" cy="306.0" r="4" fill="#8236b1"/>
<circle cx="375.7" cy="310.0" r="4" fill="#0072e3"/>
<circle cx="405.3" cy="313.9" r="4" fill="#ed004b"/>
<circle cx="454.3" cy="306.0" r="4" fill="#a0139a"/>
<circle cx="474.1" cy="310.0" r="4" fill="#e60062"/>
<circle cx="394.9" cy="306.0" r="4" fill="#e50064"/>
<circle cx="373.7" cy="317.9" r="4" fill="#0081e9"/>
<circle cx="341.2" cy="310.0" r="4" fill="#ce007e"/>
<circle cx="406.5" cy="302.1" r="4" fill="#9f149b"/>
<circle cx="454.7" cy="310.0" r="4" fill="#5556ce"/>
<circle cx="367.8" cy="294.2" r="4" fill="#c40086"/>
<circle cx="382.1" cy="310.0" r="4" fill="#d50077"/>
<circle cx="420.0" cy="313.9" r="4" fill="#007ae7"/>
<circle cx="410.6" cy="306.0" r="4" fill="#3661d7"/>
<circle cx="468.7" cy="310.0" r="4" fill="#ab0196"/>
<circle cx="394.4" cy="321.8" r="4" fill="#6250c9"/>
<circle cx="442.2" cy="306.0" r="4" fill="#684cc5"/>
<circle cx="487.5" cy="310.0" r="4" fill="#0068dc"/>
<circle cx="394.1" cy="302.1" r="4" fill="#eb0058"/>
<circle cx="463.1" cy="306.0" r="4" fill="#e20068"/>
<circle cx="399.9" cy="310.0" r="4" fill="#d50077"/>
<circle cx="462.6" cy="310.0" r="4" fill="#ed004d"/>
<circle cx="338.0" cy="313.9" r="4" fill="#5d53cb"/>
<circle cx="395.0" cy="310.0" r="4" fill="#007ee8"/>
<circle cx="338.5" cy="306.0" r="4" fill="#a50e99"/>
<circle cx="478.3" cy="313.9" r="4" fill="#e40066"/>
<circle cx="464.2" cy="313.9" r="4" fill="#007de8"/>
<circle cx="401.0" cy="302.1" r="4" fill="#0081e9"/>
<circle cx="480.9" cy="313.9" r="4" fill="#1f64db"/>
<circle cx="350.1" cy="313.9" r="4" fill="#ed004d"/>
<circle cx="371.7" cy="306.0" r="4" fill="#ed004b"/>
<circle cx="363.8" cy="310.0" r="4" fill="#d1007b"/>
<circle cx="451.0" cy="310.0" r="4" fill="#0081e9"/>
<circle cx="359.8" cy="310.0" r="4" fill="#a60b99"/>
<circle cx="381.3" cy="313.9" r="4" fill="#a1139a"/>
<circle cx="471.0" cy="310.0" r="4" fill="#7f3ab3"/>
<circle cx="355.3" cy="298.1" r="4" fill="#e80060"/>
<circle cx="367.8" cy="317.9" r="4" fill="#ec0056"/>
<circle cx="359.0" cy="310.0" r="4" fill="#ea0059"/>
<circle cx="382.6" cy="302.1" r="4" fill="#5656ce"/>
<circle cx="429.0" cy="310.0" r="4" fill="#006ade"/>
<circle cx="390.4" cy="313.9" r="4" fill="#5855cd"/>
<circle cx="423.9" cy="317.9" r="4" fill="#7c3db7"/>
<circle cx="429.5" cy="306.0" r="4" fill="#0068dc"/>
<circle cx="349.1" cy="310.0" r="4" fill="#b50090"/>
<circle cx="370.3" cy="313.9" r="4" fill="#8435b0"/>
<circle cx="431.2" cy="302.1" r="4" fill="#0071e2"/>
<circle cx="346.6" cy="313.9" r="4" fill="#0076e6"/>
<circle cx="372.7" cy="313.9" r="4" fill="#ed004c"/>
<circle cx="384.0" cy="313.9" r="4" fill="#007ee8"/>
<circle cx="392.2" cy="302.1" r="4" fill="#ed004b"/>
<circle cx="331.6" cy="306.0" r="4" fill="#8d26a5"/>
<circle cx="357.7" cy="298.1" r="4" fill="#0081e9"/>
<circle cx="493.5" cy="310.0" r="4" fill="#9c169c"/>
<circle cx="374.0" cy="306.0" r="4" fill="#007be8"/>
<circle cx="333.6" cy="306.0" r="4" fill="#0074e5"/>
<circle cx="420.6" cy="310.0" r="4" fill="#8f21a2"/>
<circle cx="488.4" cy="306.0" r="4" fill="#0081e9"/>
<circle cx="379.1" cy="294.2" r="4" fill="#7c3cb7"/>
<circle cx="357.2" cy="310.0" r="4" fill="#d2007b"/>
<circle cx="413.5" cy="302.1" r="4" fill="#c0008a"/>
<circle cx="465.5" cy="306.0" r="4" fill="#df006c"/>
<circle cx="365.4" cy="313.9" r="4" fill="#ed0052"/>
<circle cx="372.4" cy="298.1" r="4" fill="#e8005d"/>
<circle cx="397.1" cy="298.1" r="4" fill="#ed004b"/>
<circle cx="493.2" cy="306.0" r="4" fill="#006add"/>
<circle cx="377.5" cy="310.0" r="4" fill="#971c9e"/>
<circle cx="417.4" cy="302.1" r="4" fill="#0081e9"/>
<circle cx="393.3" cy="321.8" r="4" fill="#ed004b"/>
<circle cx="426.8" cy="302.1" r="4" fill="#ed004b"/>
<circle cx="388.6" cy="294.2" r="4" fill="#e10069"/>
<circle cx="446.9" cy="310.0" r="4" fill="#dd006f"/>
<circle cx="407.8" cy="306.0" r="4" fill="#ed004b"/>
<circle cx="369.8" cy="302.1" r="4" fill="#ed004b"/>
<circle cx="356.5" cy="313.9" r="4" fill="#eb0059"/>
<circle cx="397.3" cy="321.8" r="4" fill="#ed004b"/>
<circle cx="382.6" cy="317.9" r="4" fill="#ce007e"/>
<circle cx="394.0" cy="317.9" r="4" fill="#ae0094"/>
<circle cx="457.8" cy="310.0" r="4" fill="#0081e9"/>
<circle cx="384.4" cy="298.1" r="4" fill="#ed004b"/>
<circle cx="366.2" cy="306.0" r="4" fill="#007ce8"/>
<circle cx="360.2" cy="306.0" r="4" fill="#d60076"/>
<circle cx="396.0" cy="306.0" r="4" fill="#0081e9"/>
<circle cx="364.4" cy="321.8" r="4" fill="#0081e9"/>
<circle cx="386.8" cy="313.9" r="4" fill="#006add"/>
<circle cx="349.0" cy="306.0" r="4" fill="#e70061"/>
<circle cx="440.6" cy="306.0" r="4" fill="#5954cc"/>
<circle cx="355.7" cy="306.0" r="4" fill="#ed004b"/>
<circle cx="405.1" cy="310.0" r="4" fill="#0072e3"/>
<circle cx="368.5" cy="313.9" r="4" fill="#dc0070"/>
<circle cx="401.4" cy="317.9" r="4" fill="#e8005f"/>
<circle cx="404.1" cy="306.0" r="4" fill="#3561d7"/>
<circle cx="480.1" cy="310.0" r="4" fill="#0081e9"/>
<circle cx="416.1" cy="306.0" r="4" fill="#d1007c"/>
<circle cx="451.7" cy="310.0" r="4" fill="#0c66db"/>
<circle cx="358.1" cy="302.1" r="4" fill="#ed004b"/>
<circle cx="375.3" cy="317.9" r="4" fill="#ed004b"/>
<circle cx="390.0" cy="294.2" r="4" fill="#8730ac"/>
<circle cx="374.6" cy="321.8" r="4" fill="#0079e7"/>
<circle cx="343.5" cy="306.0" r="4" fill="#951e9f"/>
<circle cx="412.5" cy="310.0" r="4" fill="#cb0080"/>
<circle cx="453.1" cy="306.0" r="4" fill="#0167dc"/>
<circle cx="453.0" cy="313.9" r="4" fill="#a50c99"/>
<circle cx="384.0" cy="317.9" r="4" fill="#99199d"/>
<circle cx="398.0" cy="313.9" r="4" fill="#3d5fd5"/>
<circle cx="422.7" cy="302.1" r="4" fill="#ed004b"/>
<circle cx="416.5" cy="313.9" r="4" fill="#ed004b"/>
<circle cx="389.6" cy="306.0" r="4" fill="#e40065"/>
<circle cx="417.6" cy="313.9" r="4" fill="#d0007d"/>
<circle cx="376.9" cy="317.9" r="4" fill="#e70062"/>
<circle cx="379.2" cy="310.0" r="4" fill="#ed004b"/>
<circle cx="375.6" cy="294.2" r="4" fill="#c10089"/>
<circle cx="403.9" cy="302.1" r="4" fill="#6350c8"/>
<circle cx="357.6" cy="313.9" r="4" fill="#b50090"/>
<circle cx="369.4" cy="298.1" r="4" fill="#7b3eb8"/>
<circle cx="354.7" cy="306.0" r="4" fill="#ed004c"/>
<circle cx="374.7" cy="306.0" r="4" fill="#b9008e"/>
<circle cx="425.5" cy="306.0" r="4" fill="#d80074"/>
<circle cx="411.3" cy="313.9" r="4" fill="#2364da"/>
<circle cx="432.7" cy="306.0" r="4" fill="#d0007c"/>
<circle cx="479.6" cy="310.0" r="4" fill="#0081e9"/>
<circle cx="431.9" cy="313.9" r="4" fill="#8434af"/>
<circle cx="498.0" cy="310.0" r="4" fill="#007be8"/>
<circle cx="345.7" cy="306.0" r="4" fill="#ed004f"/>
<circle cx="397.8" cy="310.0" r="4" fill="#df006b"/>
<circle cx="383.9" cy="294.2" r="4" fill="#b20092"/>
<circle cx="379.0" cy="306.0" r="4" fill="#3960d6"/>
<circle cx="434.8" cy="302.1" r="4" fill="#0267dc"/>
<circle cx="351.2" cy="302.1" r="4" fill="#991a9d"/>
<circle cx="376.1" cy="298.1" r="4" fill="#e0006b"/>
<circle cx="424.9" cy="317.9" r="4" fill="#c10088"/>
<circle cx="413.5" cy="310.0" r="4" fill="#007de8"/>
<circle cx="387.5" cy="302.1" r="4" fill="#db0071"/>
<circle cx="459.4" cy="310.0" r="4" fill="#ae0094"/>
<circle cx="428.5" cy="306.0" r="4" fill="#0081e9"/>
<circle cx="368.2" cy="310.0" r="4" fill="#e20068"/>
<circle cx="526.0" cy="310.0" r="4" fill="#0081e9"/>
<circle cx="395.8" cy="317.9" r="4" fill="#7940ba"/>
<circle cx="490.0" cy="310.0" r="4" fill="#007be8"/>
<circle cx="425.0" cy="310.0" r="4" fill="#d80075"/>
<circle cx="400.9" cy="310.0" r="4" fill="#0079e7"/>
<circle cx="467.0" cy="310.0" r="4" fill="#007be8"/>
<circle cx="383.2" cy="313.9" r="4" fill="#ed004b"/>
<circle cx="363.9" cy="306.0" r="4" fill="#ed0055"/>
<circle cx="390.6" cy="317.9" r="4" fill="#ec0056"/>
<circle cx="390.6" cy="310.0" r="4" fill="#dd006f"/>
<circle cx="385.3" cy="321.8" r="4" fill="#e8005d"/>
<circle cx="458.2" cy="306.0" r="4" fill="#007be8"/>
<circle cx="345.2" cy="310.0" r="4" fill="#ed004b"/>
<circle cx="400.0" cy="306.0" r="4" fill="#5e52ca"/>
<circle cx="482.5" cy="310.0" r="4" fill="#0467db"/>
<circle cx="403.2" cy="298.1" r="4" fill="#ed004b"/>
<circle cx="408.6" cy="317.9" r="4" fill="#ed0050"/>
<circle cx="454.8" cy="313.9" r="4" fill="#0081e9"/>
<circle cx="379.3" cy="317.9" r="4" fill="#0081e9"/>
<circle cx="351.5" cy="306.0" r="4" fill="#e0006b"/>
<circle cx="408.3" cy="302.1" r="4" fill="#0081e9"/>
<circle cx="381.4" cy="302.1" r="4" fill="#c50086"/>
<circle cx="431.6" cy="310.0" r="4" fill="#e60063"/>
<circle cx="387.3" cy="321.8" r="4" fill="#8d25a4"/>
<circle cx="480.2" cy="306.0" r="4" fill="#bd008c"/>
<circle cx="306.7" cy="310.0" r="4" fill="#ed004b"/>
<circle cx="362.7" cy="317.9" r="4" fill="#ed004b"/>
<circle cx="462.2" cy="306.0" r="4" fill="#e0006b"/>
<circle cx="393.3" cy="306.0" r="4" fill="#ed004e"/>
<circle cx="360.1" cy="298.1" r="4" fill="#0081e9"/>
<circle cx="440.3" cy="302.1" r="4" fill="#bd008c"/>
<circle cx="416.8" cy="310.0" r="4" fill="#5456ce"/>
<circle cx="340.0" cy="310.0" r="4" fill="#ed0055"/>
<circle cx="428.8" cy="313.9" r="4" fill="#c10089"/>
<circle cx="408.7" cy="313.9" r="4" fill="#654dc6"/>
<circle cx="364.2" cy="302.1" r="4" fill="#ce007e"/>
<circle cx="391.9" cy="317.9" r="4" fill="#0081e9"/>
<circle cx="430.3" cy="313.9" r="4" fill="#b50090"/>
<circle cx="360.8" cy="313.9" r="4" fill="#7642bc"/>
<circle cx="414.0" cy="313.9" r="4" fill="#ed004b"/>
<circle cx="378.4" cy="302.1" r="4" fill="#ed004b"/>
<circle cx="367.4" cy="298.1" r="4" fill="#dc006f"/>
<circle cx="357.5" cy="317.9" r="4" fill="#ec0056"/>
<circle cx="389.1" cy="302.1" r="4" fill="#0081e9"/>
<circle cx="491.3" cy="306.0" r="4" fill="#b20092"/>
<circle cx="349.9" cy="302.1" r="4" fill="#ed004b"/>
<circle cx="395.2" cy="313.9" r="4" fill="#d80074"/>
<circle cx="338.1" cy="306.0" r="4" fill="#007fe8"/>
<circle cx="402.3" cy="298.1" r="4" fill="#cf007d"/>
<circle cx="362.2" cy="302.1" r="4" fill="#9a189d"/>
<circle cx="376.9" cy="321.8" r="4" fill="#9a189d"/>
<circle cx="380.5" cy="325.8" r="4" fill="#e9005b"/>
<circle cx="424.1" cy="306.0" r="4" fill="#a2119a"/>
<circle cx="414.4" cy="317.9" r="4" fill="#3761d7"/>
<circle cx="340.9" cy="306.0" r="4" fill="#8731ad"/>
<circle cx="383.6" cy="298.1" r="4" fill="#e20068"/>
<circle cx="354.4" cy="302.1" r="4" fill="#0081e9"/>
<circle cx="405.3" cy="317.9" r="4" fill="#7f39b3"/>
<circle cx="364.4" cy="294.2" r="4" fill="#0081e9"/>
<circle cx="391.9" cy="294.2" r="4" fill="#de006d"/>
<circle cx="375.6" cy="302.1" r="4" fill="#ed004b"/>
<circle cx="441.0" cy="313.9" r="4" fill="#9021a1"/>
<circle cx="367.3" cy="306.0" r="4" fill="#0076e6"/>
<circle cx="387.1" cy="306.0" r="4" fill="#ed004b"/>
<circle cx="464.8" cy="310.0" r="4" fill="#006ee0"/>
<circle cx="486.3" cy="310.0" r="4" fill="#0081e9"/>
<circle cx="408.5" cy="306.0" r="4" fill="#5d53cb"/>
<circle cx="363.7" cy="298.1" r="4" fill="#5855cd"/>
<circle cx="420.4" cy="306.0" r="4" fill="#b00093"/>
<circle cx="386.3" cy="298.1" r="4" fill="#a60998"/>
<circle cx="436.3" cy="313.9" r="4" fill="#007de8"/>
<circle cx="479.0" cy="306.0" r="4" fill="#ed004b"/>
<circle cx="361.3" cy="317.9" r="4" fill="#0081e9"/>
<circle cx="372.2" cy="302.1" r="4" fill="#e0006a"/>
<circle cx="352.6" cy="310.0" r="4" fill="#7a3fb9"/>
<circle cx="346.1" cy="302.1" r="4" fill="#ed0052"/>
<circle cx="329.0" cy="310.0" r="4" fill="#ed004b"/>
<circle cx="408.1" cy="310.0" r="4" fill="#2164da"/>
<circle cx="437.1" cy="310.0" r="4" fill="#0081e9"/>
<circle cx="371.0" cy="356.9" r="4" fill="#007be8"/>
<circle cx="468.7" cy="364.8" r="4" fill="#0081e9"/>
<circle cx="352.4" cy="364.8" r="4" fill="#a31199"/>
<circle cx="427.2" cy="364.8" r="4" fill="#007be8"/>
<circle cx="455.0" cy="360.9" r="4" fill="#0081e9"/>
<circle cx="362.7" cy="368.8" r="4" fill="#0081e9"/>
<circle cx="385.0" cy="372.7" r="4" fill="#007de8"/>
<circle cx="343.1" cy="360.9" r="4" fill="#0080e9"/>
<circle cx="403.7" cy="376.7" r="4" fill="#7e3ab4"/>
<circle cx="423.4" cy="356.9" r="4" fill="#6d49c1"/>
<circle cx="411.0" cy="368.8" r="4" fill="#0073e4"/>
<circle cx="392.7" cy="356.9" r="4" fill="#0081e9"/>
<circle cx="388.4" cy="356.9" r="4" fill="#0567db"/>
<circle cx="395.1" cy="368.8" r="4" fill="#0081e9"/>
<circle cx="408.1" cy="356.9" r="4" fill="#0081e9"/>
<circle cx="367.8" cy="368.8" r="4" fill="#0080e9"/>
<circle cx="342.1" cy="364.8" r="4" fill="#c40086"/>
<circle cx="435.1" cy="360.9" r="4" fill="#0081e9"/>
<circle cx="461.6" cy="356.9" r="4" fill="#0079e7"/>
<circle cx="429.0" cy="364.8" r="4" fill="#007be8"/>
<circle cx="420.2" cy="353.0" r="4" fill="#0081e9"/>
<circle cx="456.9" cy="364.8" r="4" fill="#007ce8"/>
<circle cx="384.0" cy="372.7" r="4" fill="#8b2ca8"/>
<circle cx="402.2" cy="368.8" r="4" fill="#007ee8"/>
<circle cx="417.2" cy="364.8" r="4" fill="#007de8"/>
<circle cx="374.0" cy="364.8" r="4" fill="#b40090"/>
<circle cx="409.0" cy="360.9" r="4" fill="#0081e9"/>
<circle cx="417.2" cy="368.8" r="4" fill="#0081e9"/>
<circle cx="442.5" cy="360.9" r="4" fill="#0081e9"/>
<circle cx="433.4" cy="360.9" r="4" fill="#0081e9"/>
<circle cx="381.3" cy="364.8" r="4" fill="#5a54cc"/>
<circle cx="395.2" cy="372.7" r="4" fill="#0079e7"/>
<circle cx="407.1" cy="368.8" r="4" fill="#0081e9"/>
<circle cx="418.5" cy="353.0" r="4" fill="#0081e9"/>
<circle cx="443.6" cy="364.8" r="4" fill="#1865db"/>
<circle cx="376.5" cy="364.8" r="4" fill="#0081e9"/>
<circle cx="359.7" cy="360.9" r="4" fill="#0081e9"/>
<circle cx="406.5" cy="364.8" r="4" fill="#0081e9"/>
<circle cx="382.1" cy="376.7" r="4" fill="#006fe1"/>
<circle cx="423.9" cy="360.9" r="4" fill="#ab0296"/>
<circle cx="402.9" cy="372.7" r="4" fill="#445dd4"/>
<circle cx="392.1" cy="349.0" r="4" fill="#2064da"/>
<circle cx="372.2" cy="372.7" r="4" fill="#0081e9"/>
<circle cx="396.2" cy="364.8" r="4" fill="#2964d9"/>
<circle cx="362.5" cy="368.8" r="4" fill="#0079e7"/>
<circle cx="234.6" cy="364.8" r="4" fill="#0081e9"/>
<circle cx="390.5" cy="372.7" r="4" fill="#007de8"/>
<circle cx="398.5" cy="360.9" r="4" fill="#0068dc"/>
<circle cx="403.9" cy="364.8" r="4" fill="#694bc4"/>
<circle cx="366.7" cy="360.9" r="4" fill="#0081e9"/>
<circle cx="389.3" cy="364.8" r="4" fill="#0081e9"/>
<circle cx="396.0" cy="349.0" r="4" fill="#9e149b"/>
<circle cx="417.9" cy="368.8" r="4" fill="#0081e9"/>
<circle cx="436.9" cy="364.8" r="4" fill="#0081e9"/>
<circle cx="459.2" cy="368.8" r="4" fill="#0078e6"/>
<circle cx="196.2" cy="364.8" r="4" fill="#0081e9"/>
<circle cx="391.6" cy="364.8" r="4" fill="#3262d8"/>
<circle cx="349.9" cy="364.8" r="4" fill="#2164da"/>
<circle cx="385.8" cy="376.7" r="4" fill="#2f62d8"/>
<circle cx="387.4" cy="349.0" r="4" fill="#0078e7"/>
<circle cx="448.6" cy="364.8" r="4" fill="#007ee8"/>
<circle cx="379.9" cy="376.7" r="4" fill="#0081e9"/>
<circle cx="433.1" cy="368.8" r="4" fill="#0081e9"/>
<circle cx="348.7" cy="360.9" r="4" fill="#0071e3"/>
<circle cx="415.9" cy="356.9" r="4" fill="#006fe1"/>
<circle cx="386.6" cy="353.0" r="4" fill="#3b5fd6"/>
<circle cx="414.9" cy="353.0" r="4" fill="#8c28a6"/>
<circle cx="442.0" cy="368.8" r="4" fill="#0081e9"/>
<circle cx="415.6" cy="376.7" r="4" fill="#006cdf"/>
<circle cx="434.3" cy="353.0" r="4" fill="#7f3ab4"/>
<circle cx="389.4" cy="353.0" r="4" fill="#007ce8"/>
<circle cx="412.0" cy="353.0" r="4" fill="#006ee0"/>
<circle cx="469.5" cy="360.9" r="4" fill="#3a60d6"/>
<circle cx="396.8" cy="372.7" r="4" fill="#0075e5"/>
<circle cx="468.4" cy="368.8" r="4" fill="#bd008c"/>
<circle cx="403.9" cy="356.9" r="4" fill="#0081e9"/>
<circle cx="355.8" cy="368.8" r="4" fill="#b7008e"/>
<circle cx="441.5" cy="372.7" r="4" fill="#c10088"/>
<circle cx="370.3" cy="353.0" r="4" fill="#0081e9"/>
<circle cx="423.5" cy="364.8" r="4" fill="#0069dd"/>
<circle cx="330.8" cy="364.8" r="4" fill="#0081e9"/>
<circle cx="435.8" cy="356.9" r="4" fill="#0081e9"/>
<circle cx="364.4" cy="364.8" r="4" fill="#0073e4"/>
<circle cx="439.0" cy="368.8" r="4" fill="#3e5fd5"/>
<circle cx="207.4" cy="364.8" r="4" fill="#0081e9"/>
<circle cx="467.6" cy="368.8" r="4" fill="#5d52cb"/>
<circle cx="409.3" cy="349.0" r="4" fill="#8a2da9"/>
<circle cx="342.3" cy="368.8" r="4" fill="#0079e7"/>
<circle cx="378.2" cy="360.9" r="4" fill="#0081e9"/>
<circle cx="438.9" cy="360.9" r="4" fill="#3262d8"/>
<circle cx="401.1" cy="360.9" r="4" fill="#0081e9"/>
<circle cx="404.6" cy="360.9" r="4" fill="#0070e2"/>
<circle cx="408.0" cy="360.9" r="4" fill="#0070e2"/>
<circle cx="370.5" cy="364.8" r="4" fill="#0081e9"/>
<circle cx="399.9" cy="360.9" r="4" fill="#2c63d9"/>
<circle cx="424.9" cy="368.8" r="4" fill="#007ce8"/>
<circle cx="378.1" cy="353.0" r="4" fill="#0069dd"/>
<circle cx="410.7" cy="356.9" r="4" fill="#0075e5"/>
<circle cx="430.4" cy="368.8" r="4" fill="#0068dc"/>
<circle cx="363.4" cy="360.9" r="4" fill="#0071e3"/>
<circle cx="409.7" cy="380.6" r="4" fill="#ae0094"/>
<circle cx="397.5" cy="349.0" r="4" fill="#0081e9"/>
<circle cx="386.4" cy="368.8" r="4" fill="#8236b1"/>
<circle cx="420.9" cy="376.7" r="4" fill="#0081e9"/>
<circle cx="421.2" cy="368.8" r="4" fill="#b00093"/>
<circle cx="395.7" cy="364.8" r="4" fill="#0068dc"/>
<circle cx="420.1" cy="364.8" r="4" fill="#0069dd"/>
<circle cx="359.6" cy="364.8" r="4" fill="#007ae7"/>
<circle cx="328.9" cy="364.8" r="4" fill="#ed004b"/>
<circle cx="374.7" cy="360.9" r="4" fill="#0081e9"/>
<circle cx="414.5" cy="360.9" r="4" fill="#ed004b"/>
<circle cx="414.1" cy="376.7" r="4" fill="#0081e9"/>
<circle cx="338.8" cy="364.8" r="4" fill="#0081e9"/>
<circle cx="371.1" cy="368.8" r="4" fill="#0081e9"/>
<circle cx="388.8" cy="372.7" r="4" fill="#0081e9"/>
<circle cx="464.3" cy="364.8" r="4" fill="#455cd3"/>
<circle cx="365.5" cy="368.8" r="4" fill="#7245bf"/>
<circle cx="348.5" cy="368.8" r="4" fill="#006bde"/>
<circle cx="425.0" cy="360.9" r="4" fill="#3461d7"/>
<circle cx="403.2" cy="376.7" r="4" fill="#ba008d"/>
<circle cx="426.7" cy="356.9" r="4" fill="#6051ca"/>
<circle cx="474.2" cy="360.9" r="4" fill="#007ce8"/>
<circle cx="390.7" cy="376.7" r="4" fill="#8f23a3"/>
<circle cx="409.4" cy="364.8" r="4" fill="#3a60d6"/>
<circle cx="412.7" cy="364.8" r="4" fill="#3d5fd5"/>
<circle cx="402.4" cy="356.9" r="4" fill="#0767db"/>
<circle cx="404.4" cy="368.8" r="4" fill="#007ee8"/>
<circle cx="406.1" cy="380.6" r="4" fill="#006ade"/>
<circle cx="382.0" cy="356.9" r="4" fill="#0076e6"/>
<circle cx="408.8" cy="376.7" r="4" fill="#0081e9"/>
<circle cx="451.7" cy="356.9" r="4" fill="#0071e2"/>
<circle cx="399.0" cy="353.0" r="4" fill="#007ae7"/>
<circle cx="389.1" cy="368.8" r="4" fill="#0078e6"/>
<circle cx="381.2" cy="353.0" r="4" fill="#0081e9"/>
<circle cx="393.9" cy="360.9" r="4" fill="#5456ce"/>
<circle cx="418.3" cy="356.9" r="4" fill="#7344be"/>
<circle cx="376.4" cy="356.9" r="4" fill="#0081e9"/>
<circle cx="410.5" cy="353.0" r="4" fill="#455cd3"/>
<circle cx="392.1" cy="380.6" r="4" fill="#3860d6"/>
<circle cx="379.7" cy="368.8" r="4" fill="#d30079"/>
<circle cx="425.5" cy="368.8" r="4" fill="#0081e9"/>
<circle cx="400.3" cy="349.0" r="4" fill="#6a4bc3"/>
<circle cx="439.0" cy="372.7" r="4" fill="#7d3cb6"/>
<circle cx="385.5" cy="360.9" r="4" fill="#0078e6"/>
<circle cx="420.7" cy="356.9" r="4" fill="#0073e4"/>
<circle cx="353.4" cy="360.9" r="4" fill="#b9008d"/>
<circle cx="428.8" cy="360.9" r="4" fill="#0078e6"/>
<circle cx="417.5" cy="353.0" r="4" fill="#c50085"/>
<circle cx="336.5" cy="364.8" r="4" fill="#0077e6"/>
<circle cx="458.6" cy="364.8" r="4" fill="#0081e9"/>
<circle cx="383.1" cy="380.6" r="4" fill="#2e63d9"/>
<circle cx="463.0" cy="360.9" r="4" fill="#3760d7"/>
<circle cx="386.9" cy="353.0" r="4" fill="#2d63d9"/>
<circle cx="364.6" cy="356.9" r="4" fill="#007ce8"/>
<circle cx="378.7" cy="372.7" r="4" fill="#2e63d8"/>
<circle cx="403.3" cy="353.0" r="4" fill="#0074e5"/>
<circle cx="401.9" cy="349.0" r="4" fill="#c50085"/>
<circle cx="379.8" cy="360.9" r="4" fill="#006fe1"/>
<circle cx="382.3" cy="364.8" r="4" fill="#0081e9"/>
<circle cx="396.1" cy="356.9" r="4" fill="#0078e6"/>
<circle cx="400.1" cy="356.9" r="4" fill="#0081e9"/>
<circle cx="446.6" cy="364.8" r="4" fill="#bd008c"/>
<circle cx="387.7" cy="360.9" r="4" fill="#0081e9"/>
<circle cx="416.9" cy="372.7" r="4" fill="#0079e7"/>
<circle cx="438.2" cy="364.8" r="4" fill="#0081e9"/>
<circle cx="396.2" cy="353.0" r="4" fill="#0081e9"/>
<circle cx="444.4" cy="360.9" r="4" fill="#0073e4"/>
<circle cx="411.6" cy="372.7" r="4" fill="#0081e9"/>
<circle cx="389.7" cy="380.6" r="4" fill="#0074e5"/>
<circle cx="392.6" cy="368.8" r="4" fill="#0068dd"/>
<circle cx="349.9" cy="356.9" r="4" fill="#0070e2"/>
<circle cx="387.7" cy="368.8" r="4" fill="#aa0497"/>
<circle cx="407.9" cy="353.0" r="4" fill="#2f62d8"/>
<circle cx="433.9" cy="372.7" r="4" fill="#1b65db"/>
<circle cx="398.1" cy="376.7" r="4" fill="#7245be"/>
<circle cx="394.8" cy="376.7" r="4" fill="#0081e9"/>
<circle cx="413.5" cy="356.9" r="4" fill="#0067dc"/>
<circle cx="400.9" cy="368.8" r="4" fill="#674cc5"/>
<circle cx="432.4" cy="356.9" r="4" fill="#7b3eb8"/>
<circle cx="447.5" cy="368.8" r="4" fill="#006ddf"/>
<circle cx="394.6" cy="380.6" r="4" fill="#0080e9"/>
<circle cx="381.9" cy="353.0" r="4" fill="#0081e9"/>
<circle cx="475.3" cy="364.8" r="4" fill="#0081e9"/>
<circle cx="399.6" cy="376.7" r="4" fill="#0081e9"/>
<circle cx="398.4" cy="353.0" r="4" fill="#ed004d"/>
<circle cx="362.1" cy="372.7" r="4" fill="#1b65db"/>
<circle cx="454.0" cy="368.8" r="4" fill="#0081e9"/>
<circle cx="392.7" cy="360.9" r="4" fill="#3162d8"/>
<circle cx="389.7" cy="360.9" r="4" fill="#3960d6"/>
<circle cx="332.7" cy="364.8" r="4" fill="#b6008f"/>
<circle cx="393.5" cy="376.7" r="4" fill="#1965db"/>
<circle cx="383.5" cy="368.8" r="4" fill="#e60063"/>
<circle cx="378.4" cy="364.8" r="4" fill="#0081e9"/>
<circle cx="389.1" cy="349.0" r="4" fill="#0081e9"/>
<circle cx="397.6" cy="368.8" r="4" fill="#0081e9"/>
<circle cx="479.8" cy="364.8" r="4" fill="#405ed4"/>
<circle cx="422.4" cy="372.7" r="4" fill="#0079e7"/>
<circle cx="334.4" cy="364.8" r="4" fill="#0070e1"/>
<circle cx="353.2" cy="364.8" r="4" fill="#007ee8"/>
<circle cx="422.7" cy="372.7" r="4" fill="#0081e9"/>
<circle cx="467.6" cy="360.9" r="4" fill="#0081e9"/>
<circle cx="462.2" cy="368.8" r="4" fill="#7643bc"/>
<circle cx="373.3" cy="360.9" r="4" fill="#006fe1"/>
<circle cx="399.1" cy="364.8" r="4" fill="#0076e5"/>
<circle cx="360.0" cy="368.8" r="4" fill="#0068dc"/>
<circle cx="373.7" cy="368.8" r="4" fill="#007ee8"/>
<circle cx="410.5" cy="368.8" r="4" fill="#0077e6"/>
<circle cx="415.8" cy="360.9" r="4" fill="#0081e9"/>
<circle cx="420.7" cy="360.9" r="4" fill="#0078e6"/>
<circle cx="338.4" cy="360.9" r="4" fill="#b9008e"/>
<circle cx="379.0" cy="356.9" r="4" fill="#0076e6"/>
<circle cx="452.4" cy="368.8" r="4" fill="#c10089"/>
<circle cx="390.8" cy="356.9" r="4" fill="#0081e9"/>
<circle cx="368.9" cy="364.8" r="4" fill="#6e49c1"/>
<circle cx="360.4" cy="364.8" r="4" fill="#007ee8"/>
<circle cx="356.4" cy="360.9" r="4" fill="#0081e9"/>
<circle cx="436.9" cy="368.8" r="4" fill="#0081e9"/>
<circle cx="392.2" cy="353.0" r="4" fill="#eb0058"/>
<circle cx="368.9" cy="360.9" r="4" fill="#0071e3"/>
<circle cx="383.2" cy="360.9" r="4" fill="#9a199d"/>
<circle cx="419.0" cy="372.7" r="4" fill="#006ee0"/>
<circle cx="434.5" cy="364.8" r="4" fill="#1f64da"/>
<circle cx="356.9" cy="364.8" r="4" fill="#0081e9"/>
<circle cx="347.6" cy="364.8" r="4" fill="#0075e5"/>
<circle cx="453.6" cy="364.8" r="4" fill="#0072e4"/>
<circle cx="345.4" cy="364.8" r="4" fill="#7841ba"/>
<circle cx="383.0" cy="349.0" r="4" fill="#0081e9"/>
<circle cx="408.0" cy="376.7" r="4" fill="#0081e9"/>
<circle cx="404.7" cy="380.6" r="4" fill="#0081e9"/>
<circle cx="387.6" cy="376.7" r="4" fill="#0081e9"/>
<circle cx="440.4" cy="364.8" r="4" fill="#007de8"/>
<circle cx="381.4" cy="372.7" r="4" fill="#0075e5"/>
<circle cx="409.4" cy="356.9" r="4" fill="#006cdf"/>
<circle cx="360.9" cy="356.9" r="4" fill="#0081e9"/>
<circle cx="406.8" cy="372.7" r="4" fill="#0081e9"/>
<circle cx="408.6" cy="372.7" r="4" fill="#0072e3"/>
<circle cx="404.7" cy="353.0" r="4" fill="#7344be"/>
<circle cx="431.9" cy="360.9" r="4" fill="#9f149b"/>
<circle cx="439.6" cy="368.8" r="4" fill="#007de8"/>
<circle cx="364.2" cy="372.7" r="4" fill="#006fe1"/>
<circle cx="381.8" cy="380.6" r="4" fill="#0081e9"/>
<circle cx="407.5" cy="349.0" r="4" fill="#0081e9"/>
<circle cx="414.4" cy="368.8" r="4" fill="#007ce8"/>
<circle cx="449.5" cy="364.8" r="4" fill="#007ae7"/>
<circle cx="401.5" cy="364.8" r="4" fill="#0071e3"/>
<circle cx="215.7" cy="364.8" r="4" fill="#0081e9"/>
<circle cx="459.7" cy="360.9" r="4" fill="#0071e3"/>
<circle cx="360.5" cy="360.9" r="4" fill="#0071e3"/>
<circle cx="414.3" cy="372.7" r="4" fill="#3561d7"/>
<circle cx="410.9" cy="360.9" r="4" fill="#0081e9"/>
<circle cx="398.6" cy="356.9" r="4" fill="#0081e9"/>
<circle cx="381.2" cy="356.9" r="4" fill="#007be8"/>
<circle cx="419.5" cy="360.9" r="4" fill="#0081e9"/>
<circle cx="403.5" cy="372.7" r="4" fill="#aa0496"/>
<circle cx="267.0" cy="364.8" r="4" fill="#0081e9"/>
<circle cx="391.6" cy="372.7" r="4" fill="#0081e9"/>
<circle cx="472.4" cy="364.8" r="4" fill="#006add"/>
<circle cx="420.5" cy="364.8" r="4" fill="#0068dc"/>
<circle cx="442.6" cy="356.9" r="4" fill="#007ae7"/>
<circle cx="371.0" cy="360.9" r="4" fill="#007be8"/>
<circle cx="424.1" cy="353.0" r="4" fill="#0067dc"/>
<circle cx="456.1" cy="364.8" r="4" fill="#2f62d8"/>
<circle cx="477.3" cy="364.8" r="4" fill="#0075e5"/>
<circle cx="386.0" cy="364.8" r="4" fill="#007de8"/>
<circle cx="439.7" cy="356.9" r="4" fill="#2e63d9"/>
<circle cx="451.7" cy="360.9" r="4" fill="#0081e9"/>
<circle cx="440.5" cy="360.9" r="4" fill="#0081e9"/>
<circle cx="347.6" cy="360.9" r="4" fill="#007de8"/>
<circle cx="413.0" cy="376.7" r="4" fill="#0069dd"/>
<circle cx="399.9" cy="372.7" r="4" fill="#a60a98"/>
<circle cx="461.4" cy="364.8" r="4" fill="#a90697"/>
<circle cx="429.8" cy="364.8" r="4" fill="#5d53cb"/>
<circle cx="414.1" cy="364.8" r="4" fill="#8237b2"/>
<circle cx="405.5" cy="349.0" r="4" fill="#2664da"/>
<circle cx="184.4" cy="364.8" r="4" fill="#0081e9"/>
<circle cx="380.3" cy="349.0" r="4" fill="#c40086"/>
<circle cx="428.6" cy="368.8" r="4" fill="#0081e9"/>
<circle cx="379.0" cy="368.8" r="4" fill="#006bde"/>
<circle cx="376.4" cy="368.8" r="4" fill="#0073e4"/>
<circle cx="386.0" cy="356.9" r="4" fill="#9e159b"/>
<circle cx="467.8" cy="364.8" r="4" fill="#7c3db7"/>
<circle cx="365.4" cy="364.8" r="4" fill="#a80797"/>
<circle cx="447.9" cy="360.9" r="4" fill="#007ee8"/>
<circle cx="438.6" cy="356.9" r="4" fill="#0081e9"/>
<circle cx="388.4" cy="364.8" r="4" fill="#2964d9"/>
<circle cx="421.9" cy="423.6" r="4" fill="#8c28a6"/>
<circle cx="438.8" cy="423.6" r="4" fill="#da0072"/>
<circle cx="416.6" cy="415.7" r="4" fill="#0081e9"/>
<circle cx="381.6" cy="407.8" r="4" fill="#0081e9"/>
<circle cx="397.2" cy="411.7" r="4" fill="#2664da"/>
<circle cx="442.1" cy="415.7" r="4" fill="#aa0496"/>
<circle cx="420.3" cy="419.6" r="4" fill="#1166db"/>
<circle cx="409.7" cy="415.7" r="4" fill="#2864d9"/>
<circle cx="369.5" cy="423.6" r="4" fill="#0081e9"/>
<circle cx="413.9" cy="419.6" r="4" fill="#0081e9"/>
<circle cx="479.6" cy="419.6" r="4" fill="#0081e9"/>
<circle cx="417.4" cy="419.6" r="4" fill="#0072e3"/>
<circle cx="391.5" cy="427.5" r="4" fill="#0081e9"/>
<circle cx="393.6" cy="423.6" r="4" fill="#b9008e"/>
<circle cx="404.9" cy="423.6" r="4" fill="#644fc7"/>
<circle cx="388.2" cy="407.8" r="4" fill="#006bde"/>
<circle cx="421.8" cy="415.7" r="4" fill="#ed004b"/>
<circle cx="430.5" cy="419.6" r="4" fill="#0081e9"/>
<circle cx="373.3" cy="423.6" r="4" fill="#0075e5"/>
<circle cx="383.8" cy="427.5" r="4" fill="#0068dc"/>
<circle cx="416.3" cy="427.5" r="4" fill="#0081e9"/>
<circle cx="357.5" cy="427.5" r="4" fill="#006fe1"/>
<circle cx="405.7" cy="415.7" r="4" fill="#0070e1"/>
<circle cx="411.3" cy="419.6" r="4" fill="#2d63d9"/>
<circle cx="482.9" cy="419.6" r="4" fill="#ba008d"/>
<circle cx="335.7" cy="419.6" r="4" fill="#8a2da9"/>
<circle cx="402.0" cy="419.6" r="4" fill="#0075e5"/>
<circle cx="392.2" cy="415.7" r="4" fill="#3561d7"/>
<circle cx="383.6" cy="415.7" r="4" fill="#a90597"/>
<circle cx="416.0" cy="431.5" r="4" fill="#9c179c"/>
<circle cx="358.4" cy="423.6" r="4" fill="#0f66db"/>
<circle cx="478.9" cy="423.6" r="4" fill="#ed004b"/>
<circle cx="426.6" cy="415.7" r="4" fill="#0081e9"/>
<circle cx="362.5" cy="411.7" r="4" fill="#0071e3"/>
<circle cx="411.9" cy="415.7" r="4" fill="#007ee8"/>
<circle cx="369.7" cy="427.5" r="4" fill="#d70075"/>
<circle cx="427.5" cy="415.7" r="4" fill="#0081e9"/>
<circle cx="410.1" cy="419.6" r="4" fill="#8e25a4"/>
<circle cx="430.3" cy="415.7" r="4" fill="#0081e9"/>
<circle cx="380.2" cy="419.6" r="4" fill="#2664da"/>
<circle cx="376.2" cy="415.7" r="4" fill="#941e9f"/>
<circle cx="437.5" cy="415.7" r="4" fill="#0081e9"/>
<circle cx="395.0" cy="431.5" r="4" fill="#0074e5"/>
<circle cx="324.8" cy="415.7" r="4" fill="#0081e9"/>
<circle cx="377.2" cy="427.5" r="4" fill="#0081e9"/>
<circle cx="386.0" cy="403.8" r="4" fill="#2964d9"/>
<circle cx="386.2" cy="431.5" r="4" fill="#007ee8"/>
<circle cx="436.4" cy="423.6" r="4" fill="#b20092"/>
<circle cx="423.1" cy="411.7" r="4" fill="#0067dc"/>
<circle cx="412.0" cy="407.8" r="4" fill="#3960d6"/>
<circle cx="414.6" cy="423.6" r="4" fill="#0076e5"/>
<circle cx="394.1" cy="403.8" r="4" fill="#0081e9"/>
<circle cx="432.6" cy="415.7" r="4" fill="#007ee8"/>
<circle cx="363.7" cy="423.6" r="4" fill="#006de0"/>
<circle cx="399.1" cy="427.5" r="4" fill="#0069dd"/>
<circle cx="477.5" cy="415.7" r="4" fill="#0076e6"/>
<circle cx="434.0" cy="411.7" r="4" fill="#006fe1"/>
<circle cx="386.7" cy="403.8" r="4" fill="#0081e9"/>
<circle cx="360.6" cy="423.6" r="4" fill="#006ade"/>
<circle cx="432.9" cy="423.6" r="4" fill="#8a2da9"/>
<circle cx="341.1" cy="415.7" r="4" fill="#006de0"/>
<circle cx="424.2" cy="415.7" r="4" fill="#6d49c2"/>
<circle cx="374.3" cy="427.5" r="4" fill="#0073e4"/>
<circle cx="408.0" cy="423.6" r="4" fill="#0081e9"/>
<circle cx="467.0" cy="423.6" r="4" fill="#5656ce"/>
<circle cx="377.2" cy="415.7" r="4" fill="#7c3cb6"/>
<circle cx="413.5" cy="427.5" r="4" fill="#006de0"/>
<circle cx="380.8" cy="427.5" r="4" fill="#7d3cb6"/>
<circle cx="362.9" cy="419.6" r="4" fill="#0070e2"/>
<circle cx="389.7" cy="415.7" r="4" fill="#892eaa"/>
<circle cx="437.6" cy="411.7" r="4" fill="#0081e9"/>
<circle cx="367.4" cy="419.6" r="4" fill="#9f149b"/>
<circle cx="474.0" cy="419.6" r="4" fill="#b9008e"/>
<circle cx="414.2" cy="411.7" r="4" fill="#7048c1"/>
<circle cx="351.1" cy="419.6" r="4" fill="#0080e9"/>
<circle cx="350.3" cy="415.7" r="4" fill="#3c5fd5"/>
<circle cx="438.3" cy="419.6" r="4" fill="#007de8"/>
<circle cx="431.8" cy="411.7" r="4" fill="#a70898"/>
<circle cx="345.2" cy="419.6" r="4" fill="#0081e9"/>
<circle cx="369.8" cy="415.7" r="4" fill="#8c2aa6"/>
<circle cx="322.7" cy="419.6" r="4" fill="#0081e9"/>
<circle cx="453.6" cy="415.7" r="4" fill="#007de8"/>
<circle cx="426.7" cy="423.6" r="4" fill="#7a3eb8"/>
<circle cx="452.1" cy="419.6" r="4" fill="#0081e9"/>
<circle cx="395.5" cy="419.6" r="4" fill="#a2119a"/>
<circle cx="397.6" cy="407.8" r="4" fill="#0081e9"/>
<circle cx="380.5" cy="415.7" r="4" fill="#ed004b"/>
<circle cx="425.4" cy="407.8" r="4" fill="#3561d7"/>
<circle cx="389.4" cy="423.6" r="4" fill="#c10088"/>
<circle cx="398.5" cy="415.7" r="4" fill="#c20088"/>
<circle cx="382.6" cy="411.7" r="4" fill="#0081e9"/>
<circle cx="394.7" cy="407.8" r="4" fill="#c20088"/>
<circle cx="447.9" cy="419.6" r="4" fill="#006ee0"/>
<circle cx="431.4" cy="423.6" r="4" fill="#7940ba"/>
<circle cx="396.7" cy="423.6" r="4" fill="#0071e2"/>
<circle cx="424.2" cy="419.6" r="4" fill="#0075e5"/>
<circle cx="394.5" cy="435.4" r="4" fill="#0068dc"/>
<circle cx="391.4" cy="431.5" r="4" fill="#5e52ca"/>
<circle cx="397.0" cy="427.5" r="4" fill="#007fe8"/>
<circle cx="375.1" cy="431.5" r="4" fill="#0069dd"/>
<circle cx="376.6" cy="423.6" r="4" fill="#2364da"/>
<circle cx="261.3" cy="419.6" r="4" fill="#0081e9"/>
<circle cx="372.3" cy="415.7" r="4" fill="#0081e9"/>
<circle cx="420.8" cy="407.8" r="4" fill="#0081e9"/>
<circle cx="391.7" cy="419.6" r="4" fill="#b00093"/>
<circle cx="421.4" cy="411.7" r="4" fill="#0081e9"/>
<circle cx="400.0" cy="415.7" r="4" fill="#b00093"/>
<circle cx="338.2" cy="419.6" r="4" fill="#0081e9"/>
<circle cx="332.2" cy="415.7" r="4" fill="#1466db"/>
<circle cx="390.8" cy="407.8" r="4" fill="#0081e9"/>
<circle cx="328.6" cy="419.6" r="4" fill="#0081e9"/>
<circle cx="428.1" cy="411.7" r="4" fill="#5556ce"/>
<circle cx="333.0" cy="419.6" r="4" fill="#8e23a3"/>
<circle cx="359.6" cy="415.7" r="4" fill="#006cdf"/>
<circle cx="341.0" cy="419.6" r="4" fill="#0071e3"/>
<circle cx="400.1" cy="423.6" r="4" fill="#9d169c"/>
<circle cx="468.3" cy="419.6" r="4" fill="#ed0053"/>
<circle cx="436.6" cy="419.6" r="4" fill="#007ee8"/>
<circle cx="444.9" cy="415.7" r="4" fill="#006fe1"/>
<circle cx="479.8" cy="415.7" r="4" fill="#941e9f"/>
<circle cx="390.9" cy="411.7" r="4" fill="#6f48c1"/>
<circle cx="352.6" cy="423.6" r="4" fill="#0073e4"/>
<circle cx="384.6" cy="419.6" r="4" fill="#0081e9"/>
<circle cx="427.2" cy="411.7" r="4" fill="#006fe1"/>
<circle cx="346.4" cy="419.6" r="4" fill="#b8008e"/>
<circle cx="387.3" cy="431.5" r="4" fill="#a1139a"/>
<circle cx="477.2" cy="419.6" r="4" fill="#5656ce"/>
<circle cx="399.6" cy="407.8" r="4" fill="#435dd4"/>
<circle cx="373.8" cy="411.7" r="4" fill="#8f22a2"/>
<circle cx="364.0" cy="415.7" r="4" fill="#0081e9"/>
<circle cx="348.5" cy="419.6" r="4" fill="#0075e5"/>
<circle cx="375.2" cy="427.5" r="4" fill="#0072e4"/>
<circle cx="317.7" cy="419.6" r="4" fill="#0081e9"/>
<circle cx="406.1" cy="415.7" r="4" fill="#7840ba"/>
<circle cx="466.5" cy="415.7" r="4" fill="#0081e9"/>
<circle cx="403.2" cy="415.7" r="4" fill="#7840ba"/>
<circle cx="385.1" cy="427.5" r="4" fill="#006bde"/>
<circle cx="360.3" cy="415.7" r="4" fill="#8e24a3"/>
<circle cx="423.4" cy="407.8" r="4" fill="#0081e9"/>
<circle cx="386.4" cy="415.7" r="4" fill="#0075e5"/>
<circle cx="436.2" cy="411.7" r="4" fill="#007be8"/>
<circle cx="485.1" cy="419.6" r="4" fill="#3362d8"/>
<circle cx="390.7" cy="427.5" r="4" fill="#3361d7"/>
<circle cx="405.2" cy="419.6" r="4" fill="#0081e9"/>
<circle cx="380.9" cy="411.7" r="4" fill="#684cc5"/>
<circle cx="426.3" cy="419.6" r="4" fill="#007ee8"/>
<circle cx="463.4" cy="415.7" r="4" fill="#0081e9"/>
<circle cx="411.6" cy="411.7" r="4" fill="#0077e6"/>
<circle cx="449.6" cy="419.6" r="4" fill="#0081e9"/>
<circle cx="357.7" cy="411.7" r="4" fill="#7048c1"/>
<circle cx="384.6" cy="423.6" r="4" fill="#9121a1"/>
<circle cx="374.8" cy="411.7" r="4" fill="#0081e9"/>
<circle cx="471.8" cy="419.6" r="4" fill="#cb0080"/>
<circle cx="407.9" cy="411.7" r="4" fill="#0081e9"/>
<circle cx="482.3" cy="415.7" r="4" fill="#a0149a"/>
<circle cx="357.7" cy="415.7" r="4" fill="#0081e9"/>
<circle cx="364.0" cy="411.7" r="4" fill="#3b60d6"/>
<circle cx="394.4" cy="423.6" r="4" fill="#007fe8"/>
<circle cx="355.2" cy="419.6" r="4" fill="#0081e9"/>
<circle cx="325.5" cy="419.6" r="4" fill="#0081e9"/>
<circle cx="439.7" cy="415.7" r="4" fill="#5656ce"/>
<circle cx="365.5" cy="415.7" r="4" fill="#006ade"/>
<circle cx="378.7" cy="411.7" r="4" fill="#0081e9"/>
<circle cx="433.1" cy="419.6" r="4" fill="#e50064"/>
<circle cx="383.4" cy="407.8" r="4" fill="#3960d6"/>
<circle cx="411.2" cy="423.6" r="4" fill="#8631ad"/>
<circle cx="437.6" cy="427.5" r="4" fill="#3e5ed5"/>
<circle cx="446.4" cy="419.6" r="4" fill="#006bde"/>
<circle cx="447.7" cy="415.7" r="4" fill="#006ee0"/>
<circle cx="393.6" cy="411.7" r="4" fill="#971c9e"/>
<circle cx="422.4" cy="427.5" r="4" fill="#0067dc"/>
<circle cx="400.9" cy="411.7" r="4" fill="#c50085"/>
<circle cx="384.4" cy="411.7" r="4" fill="#0072e3"/>
<circle cx="430.9" cy="427.5" r="4" fill="#2a63d9"/>
<circle cx="441.5" cy="419.6" r="4" fill="#0081e9"/>
<circle cx="341.8" cy="423.6" r="4" fill="#ed004b"/>
<circle cx="375.8" cy="419.6" r="4" fill="#0071e3"/>
<circle cx="368.2" cy="407.8" r="4" fill="#8f23a3"/>
<circle cx="482.2" cy="419.6" r="4" fill="#8b2ba8"/>
<circle cx="393.6" cy="403.8" r="4" fill="#7543bd"/>
<circle cx="400.2" cy="431.5" r="4" fill="#a2119a"/>
<circle cx="436.0" cy="415.7" r="4" fill="#7b3eb8"/>
<circle cx="383.1" cy="431.5" r="4" fill="#3d5fd5"/>
<circle cx="386.7" cy="411.7" r="4" fill="#0081e9"/>
<circle cx="369.9" cy="419.6" r="4" fill="#006ade"/>
<circle cx="409.1" cy="423.6" r="4" fill="#0073e4"/>
<circle cx="408.7" cy="427.5" r="4" fill="#6e49c1"/>
<circle cx="480.7" cy="423.6" r="4" fill="#ed004b"/>
<circle cx="381.1" cy="423.6" r="4" fill="#ab0296"/>
<circle cx="416.6" cy="423.6" r="4" fill="#8533af"/>
<circle cx="417.4" cy="407.8" r="4" fill="#0081e9"/>
<circle cx="454.8" cy="419.6" r="4" fill="#0081e9"/>
<circle cx="378.9" cy="419.6" r="4" fill="#0079e7"/>
<circle cx="419.7" cy="415.7" r="4" fill="#007fe8"/>
<circle cx="365.1" cy="419.6" r="4" fill="#b50090"/>
<circle cx="429.9" cy="407.8" r="4" fill="#b9008e"/>
<circle cx="392.3" cy="407.8" r="4" fill="#892eaa"/>
<circle cx="388.7" cy="423.6" r="4" fill="#0069dd"/>
<circle cx="355.8" cy="423.6" r="4" fill="#0367dc"/>
<circle cx="415.0" cy="415.7" r="4" fill="#c30087"/>
<circle cx="455.1" cy="423.6" r="4" fill="#006fe1"/>
<circle cx="416.5" cy="411.7" r="4" fill="#2a64d9"/>
<circle cx="358.8" cy="427.5" r="4" fill="#0081e9"/>
<circle cx="394.5" cy="427.5" r="4" fill="#931fa0"/>
<circle cx="377.3" cy="431.5" r="4" fill="#694bc4"/>
<circle cx="349.4" cy="423.6" r="4" fill="#007ae7"/>
<circle cx="419.5" cy="423.6" r="4" fill="#0074e4"/>
<circle cx="407.7" cy="419.6" r="4" fill="#0e66db"/>
<circle cx="408.9" cy="407.8" r="4" fill="#006cdf"/>
<circle cx="369.7" cy="415.7" r="4" fill="#5556ce"/>
<circle cx="462.1" cy="419.6" r="4" fill="#007ae7"/>
<circle cx="338.0" cy="415.7" r="4" fill="#0081e9"/>
<circle cx="359.0" cy="419.6" r="4" fill="#007ae7"/>
<circle cx="387.2" cy="427.5" r="4" fill="#0074e4"/>
<circle cx="396.3" cy="419.6" r="4" fill="#d2007a"/>
<circle cx="427.4" cy="423.6" r="4" fill="#007ce8"/>
<circle cx="443.5" cy="419.6" r="4" fill="#0081e9"/>
<circle cx="377.3" cy="423.6" r="4" fill="#0e66db"/>
<circle cx="369.0" cy="411.7" r="4" fill="#0081e9"/>
<circle cx="378.0" cy="407.8" r="4" fill="#ed0054"/>
<circle cx="371.9" cy="423.6" r="4" fill="#5e52ca"/>
<circle cx="352.1" cy="415.7" r="4" fill="#7e3cb5"/>
<circle cx="384.1" cy="423.6" r="4" fill="#006bdf"/>
<circle cx="328.0" cy="415.7" r="4" fill="#0081e9"/>
<circle cx="356.0" cy="419.6" r="4" fill="#006de0"/>
<circle cx="454.2" cy="415.7" r="4" fill="#7642bc"/>
<circle cx="386.7" cy="419.6" r="4" fill="#8533af"/>
<circle cx="424.8" cy="427.5" r="4" fill="#006cdf"/>
<circle cx="357.9" cy="411.7" r="4" fill="#0074e4"/>
<circle cx="487.2" cy="415.7" r="4" fill="#006cdf"/>
<circle cx="427.2" cy="427.5" r="4" fill="#ec0056"/>
<circle cx="329.2" cy="419.6" r="4" fill="#0068dc"/>
<circle cx="399.8" cy="419.6" r="4" fill="#644fc7"/>
<circle cx="456.9" cy="419.6" r="4" fill="#7147c0"/>
<circle cx="372.6" cy="419.6" r="4" fill="#0074e4"/>
<circle cx="459.4" cy="419.6" r="4" fill="#ec0056"/>
<circle cx="361.7" cy="419.6" r="4" fill="#0081e9"/>
<circle cx="366.4" cy="423.6" r="4" fill="#0081e9"/>
<circle cx="448.3" cy="423.6" r="4" fill="#0081e9"/>
<circle cx="409.0" cy="411.7" r="4" fill="#c00089"/>
<circle cx="464.0" cy="419.6" r="4" fill="#8039b3"/>
<circle cx="337.0" cy="423.6" r="4" fill="#0081e9"/>
<circle cx="340.2" cy="419.6" r="4" fill="#c10089"/>
<circle cx="387.7" cy="415.7" r="4" fill="#006ddf"/>
<circle cx="489.7" cy="419.6" r="4" fill="#3d5fd5"/>
<circle cx="292.4" cy="419.6" r="4" fill="#0081e9"/>
<circle cx="455.5" cy="411.7" r="4" fill="#006bde"/>
<circle cx="383.7" cy="419.6" r="4" fill="#007fe8"/>
<circle cx="467.1" cy="419.6" r="4" fill="#e0006a"/>
<circle cx="340.9" cy="415.7" r="4" fill="#0081e9"/>
<circle cx="411.2" cy="427.5" r="4" fill="#e70060"/>
<circle cx="428.4" cy="419.6" r="4" fill="#0074e4"/>
<circle cx="413.3" cy="407.8" r="4" fill="#006fe1"/>
<circle cx="424.0" cy="423.6" r="4" fill="#9c179c"/>
<circle cx="394.1" cy="411.7" r="4" fill="#3761d7"/>
<circle cx="395.2" cy="415.7" r="4" fill="#0081e9"/>
<circle cx="374.9" cy="407.8" r="4" fill="#007be8"/>
<circle cx="389.3" cy="419.6" r="4" fill="#0081e9"/>
<circle cx="384.6" cy="407.8" r="4" fill="#674dc5"/>
<circle cx="419.3" cy="419.6" r="4" fill="#007de8"/>
<circle cx="416.3" cy="462.6" r="4" fill="#ed004b"/>
<circle cx="452.4" cy="474.5" r="4" fill="#0068dc"/>
<circle cx="447.7" cy="474.5" r="4" fill="#8039b3"/>
<circle cx="408.9" cy="470.5" r="4" fill="#0081e9"/>
<circle cx="405.1" cy="466.6" r="4" fill="#6051c9"/>
<circle cx="388.1" cy="458.7" r="4" fill="#007ee8"/>
<circle cx="446.5" cy="474.5" r="4" fill="#eb0058"/>
<circle cx="396.9" cy="466.6" r="4" fill="#c0008a"/>
<circle cx="318.5" cy="474.5" r="4" fill="#d90073"/>
<circle cx="381.1" cy="470.5" r="4" fill="#006de0"/>
<circle cx="353.5" cy="474.5" r="4" fill="#8e24a4"/>
<circle cx="417.1" cy="478.4" r="4" fill="#8038b3"/>
<circle cx="432.8" cy="470.5" r="4" fill="#006ee0"/>
<circle cx="403.9" cy="478.4" r="4" fill="#7a3fb9"/>
<circle cx="381.9" cy="470.5" r="4" fill="#8434af"/>
<circle cx="379.4" cy="482.4" r="4" fill="#0074e4"/>
<circle cx="374.6" cy="470.5" r="4" fill="#941e9f"/>
<circle cx="377.3" cy="466.6" r="4" fill="#0667db"/>
<circle cx="391.7" cy="462.6" r="4" fill="#cf007d"/>
<circle cx="385.8" cy="474.5" r="4" fill="#694bc4"/>
<circle cx="359.7" cy="470.5" r="4" fill="#a31099"/>
<circle cx="395.3" cy="478.4" r="4" fill="#aa0497"/>
<circle cx="376.8" cy="482.4" r="4" fill="#ed004b"/>
<circle cx="411.7" cy="466.6" r="4" fill="#8b2ba7"/>
<circle cx="419.0" cy="474.5" r="4" fill="#971c9e"/>
<circle cx="402.6" cy="462.6" r="4" fill="#445cd3"/>
<circle cx="415.8" cy="482.4" r="4" fill="#2964d9"/>
<circle cx="372.7" cy="462.6" r="4" fill="#ba008d"/>
<circle cx="375.8" cy="478.4" r="4" fill="#684cc5"/>
<circle cx="426.2" cy="474.5" r="4" fill="#006ade"/>
<circle cx="399.4" cy="478.4" r="4" fill="#415ed4"/>
<circle cx="358.3" cy="478.4" r="4" fill="#ed0054"/>
<circle cx="429.3" cy="478.4" r="4" fill="#ed004b"/>
<circle cx="489.7" cy="474.5" r="4" fill="#ed004b"/>
<circle cx="338.1" cy="474.5" r="4" fill="#ec0056"/>
<circle cx="358.2" cy="466.6" r="4" fill="#e8005d"/>
<circle cx="461.2" cy="474.5" r="4" fill="#d60076"/>
<circle cx="428.3" cy="470.5" r="4" fill="#006bdf"/>
<circle cx="390.8" cy="462.6" r="4" fill="#b6008f"/>
<circle cx="449.1" cy="474.5" r="4" fill="#0081e9"/>
<circle cx="366.8" cy="470.5" r="4" fill="#0081e9"/>
<circle cx="369.3" cy="478.4" r="4" fill="#6350c8"/>
<circle cx="393.1" cy="482.4" r="4" fill="#0081e9"/>
<circle cx="371.5" cy="478.4" r="4" fill="#ed0050"/>
<circle cx="380.5" cy="466.6" r="4" fill="#0081e9"/>
<circle cx="401.0" cy="466.6" r="4" fill="#7147c0"/>
<circle cx="341.6" cy="474.5" r="4" fill="#ed004b"/>
<circle cx="389.7" cy="458.7" r="4" fill="#7e3bb5"/>
<circle cx="409.3" cy="478.4" r="4" fill="#0081e9"/>
<circle cx="426.8" cy="478.4" r="4" fill="#ed004b"/>
<circle cx="411.4" cy="470.5" r="4" fill="#007ae7"/>
<circle cx="399.2" cy="470.5" r="4" fill="#0081e9"/>
<circle cx="390.3" cy="486.3" r="4" fill="#0079e7"/>
<circle cx="423.9" cy="478.4" r="4" fill="#8137b2"/>
<circle cx="382.9" cy="478.4" r="4" fill="#0081e9"/>
<circle cx="378.3" cy="474.5" r="4" fill="#8335b0"/>
<circle cx="359.6" cy="474.5" r="4" fill="#007de8"/>
<circle cx="278.2" cy="474.5" r="4" fill="#0081e9"/>
<circle cx="412.6" cy="478.4" r="4" fill="#5556ce"/>
<circle cx="363.9" cy="478.4" r="4" fill="#007be8"/>
<circle cx="365.1" cy="478.4" r="4" fill="#7f39b3"/>
<circle cx="378.5" cy="478.4" r="4" fill="#8c2aa7"/>
<circle cx="394.8" cy="466.6" r="4" fill="#0081e9"/>
<circle cx="372.1" cy="462.6" r="4" fill="#d90073"/>
<circle cx="365.2" cy="482.4" r="4" fill="#0081e9"/>
<circle cx="374.2" cy="486.3" r="4" fill="#ed004b"/>
<circle cx="387.9" cy="466.6" r="4" fill="#006bdf"/>
<circle cx="414.5" cy="482.4" r="4" fill="#3062d8"/>
<circle cx="393.5" cy="486.3" r="4" fill="#c40086"/>
<circle cx="457.3" cy="474.5" r="4" fill="#0081e9"/>
<circle cx="671.6" cy="474.5" r="4" fill="#ed004b"/>
<circle cx="415.2" cy="478.4" r="4" fill="#ea005a"/>
<circle cx="360.7" cy="470.5" r="4" fill="#0080e9"/>
<circle cx="360.4" cy="474.5" r="4" fill="#8c29a6"/>
<circle cx="369.1" cy="462.6" r="4" fill="#006ade"/>
<circle cx="398.9" cy="486.3" r="4" fill="#d80074"/>
<circle cx="399.8" cy="462.6" r="4" fill="#e20068"/>
<circle cx="391.6" cy="466.6" r="4" fill="#007ee8"/>
<circle cx="388.1" cy="478.4" r="4" fill="#654ec6"/>
<circle cx="340.8" cy="474.5" r="4" fill="#ed004d"/>
<circle cx="347.6" cy="474.5" r="4" fill="#ed0052"/>
<circle cx="373.2" cy="482.4" r="4" fill="#961c9f"/>
<circle cx="375.8" cy="474.5" r="4" fill="#b10093"/>
<circle cx="435.1" cy="478.4" r="4" fill="#7940ba"/>
<circle cx="325.7" cy="474.5" r="4" fill="#0081e9"/>
<circle cx="397.4" cy="470.5" r="4" fill="#7444bd"/>
<circle cx="398.3" cy="462.6" r="4" fill="#0069dd"/>
<circle cx="388.4" cy="474.5" r="4" fill="#0068dc"/>
<circle cx="370.1" cy="474.5" r="4" fill="#3661d7"/>
<circle cx="390.4" cy="470.5" r="4" fill="#d0007c"/>
<circle cx="377.9" cy="470.5" r="4" fill="#0075e5"/>
<circle cx="357.0" cy="474.5" r="4" fill="#0081e9"/>
<circle cx="461.0" cy="474.5" r="4" fill="#ed004b"/>
<circle cx="461.6" cy="470.5" r="4" fill="#7c3db7"/>
<circle cx="435.8" cy="474.5" r="4" fill="#5e52ca"/>
<circle cx="348.5" cy="474.5" r="4" fill="#ed004b"/>
<circle cx="402.0" cy="466.6" r="4" fill="#7147c0"/>
<circle cx="372.3" cy="470.5" r="4" fill="#b40091"/>
<circle cx="409.4" cy="474.5" r="4" fill="#0081e9"/>
<circle cx="420.9" cy="474.5" r="4" fill="#0081e9"/>
<circle cx="373.7" cy="474.5" r="4" fill="#684cc4"/>
<circle cx="339.7" cy="470.5" r="4" fill="#e80060"/>
<circle cx="385.3" cy="458.7" r="4" fill="#e0006a"/>
<circle cx="408.2" cy="474.5" r="4" fill="#0081e9"/>
<circle cx="383.9" cy="474.5" r="4" fill="#8336b1"/>
<circle cx="388.1" cy="486.3" r="4" fill="#ec0056"/>
<circle cx="375.1" cy="486.3" r="4" fill="#8335b0"/>
<circle cx="407.0" cy="466.6" r="4" fill="#7344be"/>
<circle cx="417.5" cy="470.5" r="4" fill="#931fa0"/>
<circle cx="395.1" cy="482.4" r="4" fill="#7245be"/>
<circle cx="352.3" cy="474.5" r="4" fill="#ed004b"/>
<circle cx="435.5" cy="466.6" r="4" fill="#ed004b"/>
<circle cx="390.8" cy="466.6" r="4" fill="#c0008a"/>
<circle cx="301.7" cy="474.5" r="4" fill="#0081e9"/>
<circle cx="455.5" cy="474.5" r="4" fill="#3361d7"/>
<circle cx="401.2" cy="474.5" r="4" fill="#0081e9"/>
<circle cx="414.4" cy="470.5" r="4" fill="#a1129a"/>
<circle cx="396.5" cy="478.4" r="4" fill="#0080e9"/>
<circle cx="383.4" cy="462.6" r="4" fill="#6c49c2"/>
<circle cx="386.5" cy="486.3" r="4" fill="#d80074"/>
<circle cx="373.7" cy="478.4" r="4" fill="#7e3bb4"/>
<circle cx="381.5" cy="462.6" r="4" fill="#b00093"/>
<circle cx="345.1" cy="474.5" r="4" fill="#a30f99"/>
<circle cx="386.1" cy="470.5" r="4" fill="#ed004b"/>
<circle cx="402.9" cy="478.4" r="4" fill="#e9005b"/>
<circle cx="365.1" cy="474.5" r="4" fill="#ed004b"/>
<circle cx="368.2" cy="466.6" r="4" fill="#0071e3"/>
<circle cx="265.6" cy="474.5" r="4" fill="#0081e9"/>
<circle cx="387.9" cy="462.6" r="4" fill="#0069dd"/>
<circle cx="401.5" cy="470.5" r="4" fill="#007ae7"/>
<circle cx="383.6" cy="482.4" r="4" fill="#6151c9"/>
<circle cx="394.7" cy="462.6" r="4" fill="#3f5ed5"/>
<circle cx="377.6" cy="486.3" r="4" fill="#405ed4"/>
<circle cx="397.8" cy="474.5" r="4" fill="#8038b3"/>
<circle cx="369.8" cy="486.3" r="4" fill="#0081e9"/>
<circle cx="437.1" cy="474.5" r="4" fill="#0081e9"/>
<circle cx="403.1" cy="482.4" r="4" fill="#ed0051"/>
<circle cx="427.0" cy="466.6" r="4" fill="#0081e9"/>
<circle cx="391.7" cy="470.5" r="4" fill="#ac0095"/>
<circle cx="372.5" cy="466.6" r="4" fill="#0081e9"/>
<circle cx="470.7" cy="474.5" r="4" fill="#9021a1"/>
<circle cx="432.3" cy="474.5" r="4" fill="#8730ac"/>
<circle cx="405.2" cy="470.5" r="4" fill="#0081e9"/>
<circle cx="243.9" cy="474.5" r="4" fill="#0081e9"/>
<circle cx="477.0" cy="474.5" r="4" fill="#0081e9"/>
<circle cx="432.8" cy="466.6" r="4" fill="#6d49c2"/>
<circle cx="393.1" cy="478.4" r="4" fill="#0070e1"/>
<circle cx="439.6" cy="474.5" r="4" fill="#007ae7"/>
<circle cx="445.8" cy="470.5" r="4" fill="#8f23a3"/>
<circle cx="405.3" cy="474.5" r="4" fill="#8e24a3"/>
<circle cx="409.8" cy="466.6" r="4" fill="#a1139a"/>
<circle cx="368.1" cy="458.7" r="4" fill="#ed004b"/>
<circle cx="366.9" cy="466.6" r="4" fill="#ba008d"/>
<circle cx="369.9" cy="482.4" r="4" fill="#bc008c"/>
<circle cx="407.8" cy="470.5" r="4" fill="#0073e4"/>
<circle cx="419.8" cy="470.5" r="4" fill="#0081e9"/>
<circle cx="372.8" cy="490.3" r="4" fill="#7b3eb8"/>
<circle cx="424.1" cy="470.5" r="4" fill="#5456ce"/>
<circle cx="364.7" cy="474.5" r="4" fill="#9a189d"/>
<circle cx="494.5" cy="474.5" r="4" fill="#0081e9"/>
<circle cx="389.1" cy="474.5" r="4" fill="#445dd3"/>
<circle cx="379.7" cy="486.3" r="4" fill="#7146bf"/>
<circle cx="379.3" cy="462.6" r="4" fill="#006bde"/>
<circle cx="365.0" cy="470.5" r="4" fill="#8c27a6"/>
<circle cx="378.8" cy="458.7" r="4" fill="#e60062"/>
<circle cx="383.2" cy="466.6" r="4" fill="#006fe1"/>
<circle cx="365.6" cy="486.3" r="4" fill="#0081e9"/>
<circle cx="376.6" cy="466.6" r="4" fill="#2d63d9"/>
<circle cx="379.6" cy="478.4" r="4" fill="#8434b0"/>
<circle cx="387.1" cy="470.5" r="4" fill="#971c9e"/>
<circle cx="385.7" cy="478.4" r="4" fill="#b50090"/>
<circle cx="385.2" cy="466.6" r="4" fill="#006cdf"/>
<circle cx="464.1" cy="474.5" r="4" fill="#b10093"/>
<circle cx="370.1" cy="458.7" r="4" fill="#8533af"/>
<circle cx="371.0" cy="486.3" r="4" fill="#0081e9"/>
<circle cx="390.7" cy="482.4" r="4" fill="#1d65db"/>
<circle cx="404.3" cy="482.4" r="4" fill="#ed004b"/>
<circle cx="399.5" cy="474.5" r="4" fill="#0081e9"/>
<circle cx="416.3" cy="466.6" r="4" fill="#0081e9"/>
<circle cx="428.1" cy="474.5" r="4" fill="#5656ce"/>
<circle cx="373.5" cy="458.7" r="4" fill="#ab0396"/>
<circle cx="413.6" cy="474.5" r="4" fill="#8138b2"/>
<circle cx="309.1" cy="474.5" r="4" fill="#d90073"/>
<circle cx="389.7" cy="478.4" r="4" fill="#e9005d"/>
<circle cx="388.7" cy="482.4" r="4" fill="#006cdf"/>
<circle cx="368.9" cy="482.4" r="4" fill="#9d169c"/>
<circle cx="396.8" cy="482.4" r="4" fill="#8236b1"/>
<circle cx="426.3" cy="470.5" r="4" fill="#b30091"/>
<circle cx="441.6" cy="470.5" r="4" fill="#0071e2"/>
<circle cx="367.8" cy="470.5" r="4" fill="#0073e4"/>
<circle cx="396.2" cy="470.5" r="4" fill="#6c49c2"/>
<circle cx="386.6" cy="482.4" r="4" fill="#6151c9"/>
<circle cx="370.0" cy="466.6" r="4" fill="#3a60d6"/>
<circle cx="374.9" cy="462.6" r="4" fill="#a80797"/>
<circle cx="431.2" cy="474.5" r="4" fill="#8434af"/>
<circle cx="372.1" cy="490.3" r="4" fill="#ed004b"/>
<circle cx="703.4" cy="474.5" r="4" fill="#ed004b"/>
<circle cx="452.3" cy="470.5" r="4" fill="#0081e9"/>
<circle cx="368.7" cy="474.5" r="4" fill="#0081e9"/>
<circle cx="422.6" cy="470.5" r="4" fill="#0081e9"/>
<circle cx="329.3" cy="472.5" r="4" fill="#0073e4"/>
<circle cx="571.0" cy="474.5" r="4" fill="#ed004b"/>
<circle cx="406.6" cy="478.4" r="4" fill="#8c28a6"/>
<circle cx="415.9" cy="474.5" r="4" fill="#e10069"/>
<circle cx="415.0" cy="466.6" r="4" fill="#8138b2"/>
<circle cx="435.3" cy="470.5" r="4" fill="#a40f99"/>
<circle cx="393.8" cy="458.7" r="4" fill="#ab0196"/>
<circle cx="366.0" cy="462.6" r="4" fill="#c10089"/>
<circle cx="737.9" cy="474.5" r="4" fill="#ed004b"/>
<circle cx="386.0" cy="462.6" r="4" fill="#eb0057"/>
<circle cx="442.4" cy="474.5" r="4" fill="#0081e9"/>
<circle cx="391.7" cy="474.5" r="4" fill="#d3007a"/>
<circle cx="423.7" cy="474.5" r="4" fill="#e80060"/>
<circle cx="379.9" cy="474.5" r="4" fill="#8533ae"/>
<circle cx="433.6" cy="478.4" r="4" fill="#991a9d"/>
<circle cx="411.1" cy="474.5" r="4" fill="#a40f99"/>
<circle cx="377.6" cy="482.4" r="4" fill="#2864d9"/>
<circle cx="395.8" cy="474.5" r="4" fill="#bd008c"/>
<circle cx="371.2" cy="470.5" r="4" fill="#3c5fd6"/>
<circle cx="400.3" cy="482.4" r="4" fill="#0081e9"/>
<circle cx="421.9" cy="525.4" r="4" fill="#ab0296"/>
<circle cx="408.5" cy="525.4" r="4" fill="#ed004b"/>
<circle cx="441.6" cy="529.3" r="4" fill="#7e3cb5"/>
<circle cx="393.2" cy="541.2" r="4" fill="#9f149b"/>
<circle cx="371.6" cy="525.4" r="4" fill="#7146bf"/>
<circle cx="437.4" cy="525.4" r="4" fill="#d2007b"/>
<circle cx="367.0" cy="525.4" r="4" fill="#9b189c"/>
<circle cx="436.9" cy="529.3" r="4" fill="#971c9e"/>
<circle cx="460.8" cy="525.4" r="4" fill="#b30091"/>
<circle cx="400.2" cy="537.2" r="4" fill="#435dd4"/>
<circle cx="373.5" cy="537.2" r="4" fill="#ed004b"/>
<circle cx="351.9" cy="521.4" r="4" fill="#931fa0"/>
<circle cx="364.2" cy="533.3" r="4" fill="#664dc6"/>
<circle cx="397.0" cy="533.3" r="4" fill="#8039b3"/>
<circle cx="384.0" cy="525.4" r="4" fill="#8b2ba7"/>
<circle cx="392.7" cy="525.4" r="4" fill="#5656ce"/>
<circle cx="444.6" cy="525.4" r="4" fill="#e9005c"/>
<circle cx="411.6" cy="521.4" r="4" fill="#007ce8"/>
<circle cx="391.1" cy="521.4" r="4" fill="#af0094"/>
<circle cx="375.0" cy="533.3" r="4" fill="#007ae7"/>
<circle cx="338.7" cy="525.4" r="4" fill="#ed004b"/>
<circle cx="347.1" cy="525.4" r="4" fill="#5b54cc"/>
<circle cx="397.8" cy="517.5" r="4" fill="#ae0094"/>
<circle cx="325.3" cy="529.3" r="4" fill="#006ade"/>
<circle cx="417.8" cy="529.3" r="4" fill="#7444bd"/>
<circle cx="385.7" cy="517.5" r="4" fill="#ed004b"/>
<circle cx="462.8" cy="525.4" r="4" fill="#0081e9"/>
<circle cx="362.4" cy="529.3" r="4" fill="#ce007e"/>
<circle cx="352.9" cy="521.4" r="4" fill="#c20088"/>
<circle cx="465.6" cy="529.3" r="4" fill="#e40065"/>
<circle cx="392.3" cy="541.2" r="4" fill="#d30079"/>
<circle cx="376.3" cy="517.5" r="4" fill="#0081e9"/>
<circle cx="302.4" cy="533.3" r="4" fill="#ed004b"/>
<circle cx="421.5" cy="525.4" r="4" fill="#b9008d"/>
<circle cx="362.2" cy="537.2" r="4" fill="#e80060"/>
<circle cx="472.3" cy="529.3" r="4" fill="#ab0196"/>
<circle cx="328.6" cy="529.3" r="4" fill="#7841ba"/>
<circle cx="388.6" cy="513.5" r="4" fill="#8c28a6"/>
<circle cx="349.0" cy="521.4" r="4" fill="#ed0052"/>
<circle cx="377.5" cy="533.3" r="4" fill="#b10093"/>
<circle cx="361.2" cy="533.3" r="4" fill="#ed004b"/>
<circle cx="404.1" cy="521.4" r="4" fill="#b00093"/>
<circle cx="350.1" cy="537.2" r="4" fill="#a60c99"/>
<circle cx="389.5" cy="517.5" r="4" fill="#0081e9"/>
<circle cx="406.7" cy="525.4" r="4" fill="#0081e9"/>
<circle cx="378.7" cy="541.2" r="4" fill="#e8005d"/>
<circle cx="439.4" cy="529.3" r="4" fill="#0069dd"/>
<circle cx="338.0" cy="533.3" r="4" fill="#ca0081"/>
<circle cx="368.1" cy="533.3" r="4" fill="#ce007e"/>
<circle cx="404.8" cy="537.2" r="4" fill="#3461d7"/>
<circle cx="349.4" cy="529.3" r="4" fill="#d60077"/>
<circle cx="440.9" cy="525.4" r="4" fill="#7c3cb7"/>
<circle cx="380.5" cy="521.4" r="4" fill="#aa0396"/>
<circle cx="415.3" cy="541.2" r="4" fill="#d40078"/>
<circle cx="336.9" cy="529.3" r="4" fill="#7840ba"/>
<circle cx="352.1" cy="533.3" r="4" fill="#ed004b"/>
<circle cx="409.6" cy="541.2" r="4" fill="#0077e6"/>
<circle cx="394.8" cy="545.1" r="4" fill="#0078e6"/>
<circle cx="369.1" cy="533.3" r="4" fill="#b10093"/>
<circle cx="319.7" cy="529.3" r="4" fill="#dd006e"/>
<circle cx="470.4" cy="529.3" r="4" fill="#db0071"/>
<circle cx="346.9" cy="529.3" r="4" fill="#8434b0"/>
<circle cx="472.6" cy="525.4" r="4" fill="#c40086"/>
<circle cx="434.3" cy="529.3" r="4" fill="#0081e9"/>
<circle cx="382.3" cy="517.5" r="4" fill="#b40090"/>
<circle cx="381.6" cy="525.4" r="4" fill="#ed0051"/>
<circle cx="349.0" cy="525.4" r="4" fill="#0081e9"/>
<circle cx="343.8" cy="525.4" r="4" fill="#d40078"/>
<circle cx="403.2" cy="533.3" r="4" fill="#da0072"/>
<circle cx="449.6" cy="533.3" r="4" fill="#c30087"/>
<circle cx="388.3" cy="521.4" r="4" fill="#a70898"/>
<circle cx="412.3" cy="541.2" r="4" fill="#cb0081"/>
<circle cx="426.8" cy="537.2" r="4" fill="#dd006e"/>
<circle cx="397.2" cy="513.5" r="4" fill="#0267dc"/>
<circle cx="464.9" cy="533.3" r="4" fill="#2e63d9"/>
<circle cx="455.6" cy="529.3" r="4" fill="#af0094"/>
<circle cx="383.4" cy="537.2" r="4" fill="#7e3cb5"/>
<circle cx="371.6" cy="529.3" r="4" fill="#e40065"/>
<circle cx="375.1" cy="529.3" r="4" fill="#b10093"/>
<circle cx="360.6" cy="525.4" r="4" fill="#8532ae"/>
<circle cx="449.3" cy="529.3" r="4" fill="#8631ad"/>
<circle cx="463.0" cy="529.3" r="4" fill="#0077e6"/>
<circle cx="416.5" cy="529.3" r="4" fill="#8533ae"/>
<circle cx="341.3" cy="529.3" r="4" fill="#ed004b"/>
<circle cx="386.6" cy="525.4" r="4" fill="#e1006a"/>
<circle cx="374.7" cy="525.4" r="4" fill="#ed004b"/>
<circle cx="430.8" cy="525.4" r="4" fill="#dc006f"/>
<circle cx="381.2" cy="533.3" r="4" fill="#991b9e"/>
<circle cx="383.4" cy="513.5" r="4" fill="#e50064"/>
<circle cx="385.4" cy="537.2" r="4" fill="#e20067"/>
<circle cx="390.2" cy="529.3" r="4" fill="#3761d7"/>
<circle cx="414.0" cy="521.4" r="4" fill="#ed0051"/>
<circle cx="379.2" cy="517.5" r="4" fill="#ed004b"/>
<circle cx="382.2" cy="541.2" r="4" fill="#0081e9"/>
<circle cx="417.5" cy="537.2" r="4" fill="#0081e9"/>
<circle cx="415.1" cy="533.3" r="4" fill="#ed004b"/>
<circle cx="382.1" cy="521.4" r="4" fill="#ed004b"/>
<circle cx="390.2" cy="533.3" r="4" fill="#ed004b"/>
<circle cx="397.5" cy="521.4" r="4" fill="#ad0095"/>
<circle cx="410.2" cy="529.3" r="4" fill="#ec0056"/>
<circle cx="413.9" cy="513.5" r="4" fill="#0072e4"/>
<circle cx="476.9" cy="529.3" r="4" fill="#b8008e"/>
<circle cx="401.4" cy="529.3" r="4" fill="#b30091"/>
<circle cx="386.1" cy="513.5" r="4" fill="#ba008d"/>
<circle cx="414.3" cy="517.5" r="4" fill="#ea005a"/>
<circle cx="393.0" cy="529.3" r="4" fill="#0081e9"/>
<circle cx="350.5" cy="529.3" r="4" fill="#8c2aa6"/>
<circle cx="402.0" cy="517.5" r="4" fill="#ed004b"/>
<circle cx="398.3" cy="517.5" r="4" fill="#3b60d6"/>
<circle cx="384.1" cy="541.2" r="4" fill="#ed004b"/>
<circle cx="432.8" cy="533.3" r="4" fill="#7e3cb5"/>
<circle cx="446.5" cy="529.3" r="4" fill="#007ce8"/>
<circle cx="408.4" cy="529.3" r="4" fill="#6c49c2"/>
<circle cx="457.9" cy="529.3" r="4" fill="#0069dd"/>
<circle cx="420.9" cy="521.4" r="4" fill="#cd007f"/>
<circle cx="417.9" cy="525.4" r="4" fill="#007ee8"/>
<circle cx="461.5" cy="529.3" r="4" fill="#dd006f"/>
<circle cx="334.6" cy="529.3" r="4" fill="#0081e9"/>
<circle cx="438.0" cy="533.3" r="4" fill="#a80697"/>
<circle cx="366.5" cy="521.4" r="4" fill="#d50078"/>
<circle cx="388.7" cy="525.4" r="4" fill="#006fe1"/>
<circle cx="281.6" cy="529.3" r="4" fill="#ed004b"/>
<circle cx="380.7" cy="537.2" r="4" fill="#0073e4"/>
<circle cx="325.2" cy="525.4" r="4" fill="#cf007d"/>
<circle cx="371.9" cy="533.3" r="4" fill="#ec0056"/>
<circle cx="415.8" cy="537.2" r="4" fill="#0081e9"/>
<circle cx="302.4" cy="525.3" r="4" fill="#ed004b"/>
<circle cx="384.2" cy="533.3" r="4" fill="#0069dd"/>
<circle cx="427.5" cy="521.4" r="4" fill="#0081e9"/>
<circle cx="399.3" cy="521.4" r="4" fill="#ed004b"/>
<circle cx="409.2" cy="517.5" r="4" fill="#0071e3"/>
<circle cx="356.1" cy="529.3" r="4" fill="#cf007d"/>
<circle cx="371.2" cy="521.4" r="4" fill="#7741bb"/>
<circle cx="356.8" cy="525.4" r="4" fill="#7e3bb5"/>
<circle cx="414.9" cy="521.4" r="4" fill="#3761d7"/>
<circle cx="381.8" cy="529.3" r="4" fill="#892eaa"/>
<circle cx="374.6" cy="521.4" r="4" fill="#ed004b"/>
<circle cx="469.3" cy="529.3" r="4" fill="#ed004b"/>
<circle cx="380.9" cy="529.3" r="4" fill="#684cc5"/>
<circle cx="384.7" cy="529.3" r="4" fill="#694bc4"/>
<circle cx="359.5" cy="529.3" r="4" fill="#e10069"/>
<circle cx="428.0" cy="529.3" r="4" fill="#0081e9"/>
<circle cx="365.8" cy="525.4" r="4" fill="#007fe8"/>
<circle cx="347.5" cy="533.3" r="4" fill="#ed004b"/>
<circle cx="285.2" cy="529.3" r="4" fill="#ed004b"/>
<circle cx="364.3" cy="529.3" r="4" fill="#9021a1"/>
<circle cx="351.8" cy="525.4" r="4" fill="#cf007d"/>
<circle cx="376.6" cy="529.3" r="4" fill="#ed004d"/>
<circle cx="367.7" cy="529.3" r="4" fill="#8137b2"/>
<circle cx="352.5" cy="533.3" r="4" fill="#c40086"/>
<circle cx="398.2" cy="529.3" r="4" fill="#a40e99"/>
<circle cx="405.2" cy="537.2" r="4" fill="#0081e9"/>
<circle cx="418.5" cy="533.3" r="4" fill="#ed0051"/>
<circle cx="387.0" cy="521.4" r="4" fill="#ed004b"/>
<circle cx="429.6" cy="533.3" r="4" fill="#e40065"/>
<circle cx="392.8" cy="537.2" r="4" fill="#ed004b"/>
<circle cx="385.5" cy="521.4" r="4" fill="#941e9f"/>
<circle cx="405.6" cy="533.3" r="4" fill="#0081e9"/>
<circle cx="412.2" cy="529.3" r="4" fill="#0073e4"/>
<circle cx="378.8" cy="533.3" r="4" fill="#0077e6"/>
<circle cx="385.8" cy="541.2" r="4" fill="#ed004b"/>
<circle cx="394.9" cy="533.3" r="4" fill="#e60063"/>
<circle cx="338.5" cy="529.3" r="4" fill="#8e24a3"/>
<circle cx="387.9" cy="545.1" r="4" fill="#a40e99"/>
<circle cx="432.9" cy="529.3" r="4" fill="#1665db"/>
<circle cx="378.2" cy="537.2" r="4" fill="#db0070"/>
<circle cx="344.9" cy="533.3" r="4" fill="#664dc6"/>
<circle cx="420.3" cy="529.3" r="4" fill="#bc008c"/>
<circle cx="402.7" cy="525.4" r="4" fill="#0078e7"/>
<circle cx="398.3" cy="525.4" r="4" fill="#da0072"/>
<circle cx="305.5" cy="530.3" r="4" fill="#ed004b"/>
<circle cx="394.4" cy="521.4" r="4" fill="#ed004b"/>
<circle cx="293.9" cy="529.3" r="4" fill="#ed004b"/>
<circle cx="421.4" cy="533.3" r="4" fill="#e0006a"/>
<circle cx="418.4" cy="521.4" r="4" fill="#ed004b"/>
<circle cx="352.2" cy="525.4" r="4" fill="#0081e9"/>
<circle cx="387.6" cy="533.3" r="4" fill="#ed004b"/>
<circle cx="425.0" cy="529.3" r="4" fill="#d30079"/>
<circle cx="456.9" cy="525.4" r="4" fill="#007ce8"/>
<circle cx="409.3" cy="521.4" r="4" fill="#ed004b"/>
<circle cx="438.5" cy="521.4" r="4" fill="#ae0094"/>
<circle cx="395.7" cy="529.3" r="4" fill="#a90597"/>
<circle cx="449.9" cy="525.4" r="4" fill="#8138b3"/>
<circle cx="405.4" cy="541.2" r="4" fill="#c50085"/>
<circle cx="402.4" cy="537.2" r="4" fill="#664dc6"/>
<circle cx="414.6" cy="525.4" r="4" fill="#db0071"/>
<circle cx="373.2" cy="521.4" r="4" fill="#0081e9"/>
<circle cx="451.5" cy="529.3" r="4" fill="#e40064"/>
<circle cx="394.4" cy="525.4" r="4" fill="#882fab"/>
<circle cx="453.2" cy="529.3" r="4" fill="#e60062"/>
<circle cx="409.5" cy="537.2" r="4" fill="#c40086"/>
<circle cx="414.0" cy="533.3" r="4" fill="#a40f99"/>
<circle cx="392.0" cy="529.3" r="4" fill="#ed0052"/>
<circle cx="431.5" cy="525.4" r="4" fill="#ed004b"/>
<circle cx="404.6" cy="529.3" r="4" fill="#db0071"/>
<circle cx="406.9" cy="517.5" r="4" fill="#007ae7"/>
<circle cx="263.5" cy="529.3" r="4" fill="#ed004b"/>
<circle cx="400.6" cy="521.4" r="4" fill="#0069dd"/>
<circle cx="422.0" cy="533.3" r="4" fill="#a0139a"/>
<circle cx="361.9" cy="525.4" r="4" fill="#e60063"/>
<circle cx="414.9" cy="517.5" r="4" fill="#9f149b"/>
<circle cx="412.7" cy="525.4" r="4" fill="#ed0054"/>
<circle cx="386.4" cy="537.2" r="4" fill="#0068dc"/>
<circle cx="314.1" cy="529.3" r="4" fill="#ed004b"/>
<circle cx="353.9" cy="529.3" r="4" fill="#007be8"/>
<circle cx="378.2" cy="525.4" r="4" fill="#ed004b"/>
<circle cx="427.0" cy="525.4" r="4" fill="#0071e2"/>
<circle cx="357.9" cy="529.3" r="4" fill="#ed004c"/>
<circle cx="379.5" cy="525.4" r="4" fill="#d50078"/>
<circle cx="427.3" cy="533.3" r="4" fill="#991a9d"/>
<circle cx="410.4" cy="525.4" r="4" fill="#db0071"/>
<circle cx="399.2" cy="533.3" r="4" fill="#a60998"/>
<circle cx="321.2" cy="529.3" r="4" fill="#ed004b"/>
<circle cx="399.2" cy="541.2" r="4" fill="#3c5fd5"/>
<circle cx="396.8" cy="525.4" r="4" fill="#0081e9"/>
<circle cx="368.5" cy="537.2" r="4" fill="#7d3cb6"/>
<circle cx="394.9" cy="517.5" r="4" fill="#674dc5"/>
<circle cx="392.8" cy="517.5" r="4" fill="#dd006e"/>
<circle cx="447.8" cy="525.4" r="4" fill="#2064da"/>
<circle cx="390.5" cy="541.2" r="4" fill="#0072e3"/>
<circle cx="366.6" cy="521.4" r="4" fill="#0767db"/>
<circle cx="387.5" cy="517.5" r="4" fill="#0081e9"/>
<circle cx="410.0" cy="537.2" r="4" fill="#db0071"/>
<circle cx="392.1" cy="533.3" r="4" fill="#ed004b"/>
<circle cx="388.5" cy="537.2" r="4" fill="#941e9f"/>
<circle cx="394.8" cy="513.5" r="4" fill="#3761d7"/>
<circle cx="330.7" cy="529.3" r="4" fill="#d2007a"/>
<circle cx="370.4" cy="525.4" r="4" fill="#d80074"/>
<circle cx="359.4" cy="525.4" r="4" fill="#0071e2"/>
<circle cx="396.4" cy="537.2" r="4" fill="#991a9d"/>
<circle cx="347.1" cy="533.3" r="4" fill="#e40066"/>
<circle cx="401.8" cy="533.3" r="4" fill="#a80798"/>
<circle cx="396.3" cy="541.2" r="4" fill="#d50077"/>
<circle cx="387.0" cy="529.3" r="4" fill="#c10089"/>
<circle cx="408.6" cy="533.3" r="4" fill="#ed004d"/>
<circle cx="326.3" cy="529.3" r="4" fill="#ed0051"/>
<circle cx="406.6" cy="521.4" r="4" fill="#2064da"/>
<circle cx="386.0" cy="509.6" r="4" fill="#3661d7"/>
<circle cx="406.7" cy="529.3" r="4" fill="#7543bc"/>
<circle cx="370.9" cy="529.3" r="4" fill="#007fe8"/>
<circle cx="413.7" cy="537.2" r="4" fill="#006cdf"/>
<circle cx="433.8" cy="521.4" r="4" fill="#6d49c2"/>
<circle cx="394.8" cy="537.2" r="4" fill="#b50090"/>
<circle cx="363.5" cy="521.4" r="4" fill="#e30066"/>
<circle cx="344.0" cy="529.3" r="4" fill="#931fa0"/>
<circle cx="412.0" cy="533.3" r="4" fill="#b00093"/>
<circle cx="365.3" cy="533.3" r="4" fill="#0081e9"/>
<circle cx="378.2" cy="521.4" r="4" fill="#7444bd"/>
<circle cx="429.3" cy="529.3" r="4" fill="#c30087"/>
<circle cx="431.2" cy="521.4" r="4" fill="#b40091"/>
<circle cx="401.4" cy="525.4" r="4" fill="#2e63d9"/>
<circle cx="438.8" cy="533.3" r="4" fill="#0081e9"/>
<circle cx="423.9" cy="529.3" r="4" fill="#c50085"/>
<circle cx="444.7" cy="529.3" r="4" fill="#0081e9"/>
<circle cx="316.9" cy="529.3" r="4" fill="#991b9e"/>
<circle cx="373.5" cy="580.2" r="4" fill="#ed004e"/>
<circle cx="407.1" cy="580.2" r="4" fill="#654dc6"/>
<circle cx="355.6" cy="580.2" r="4" fill="#cd007f"/>
<circle cx="325.7" cy="584.2" r="4" fill="#c10089"/>
<circle cx="443.1" cy="584.2" r="4" fill="#0081e9"/>
<circle cx="396.5" cy="580.2" r="4" fill="#cf007d"/>
<circle cx="395.7" cy="572.3" r="4" fill="#0069dd"/>
<circle cx="456.8" cy="580.2" r="4" fill="#007fe8"/>
<circle cx="395.1" cy="592.1" r="4" fill="#e70061"/>
<circle cx="388.7" cy="596.0" r="4" fill="#6150c9"/>
<circle cx="364.2" cy="588.1" r="4" fill="#df006c"/>
<circle cx="467.4" cy="584.2" r="4" fill="#e70061"/>
<circle cx="402.8" cy="584.2" r="4" fill="#0071e3"/>
<circle cx="367.5" cy="584.2" r="4" fill="#c40086"/>
<circle cx="411.8" cy="592.1" r="4" fill="#b50090"/>
<circle cx="417.1" cy="580.2" r="4" fill="#ca0081"/>
<circle cx="384.8" cy="592.1" r="4" fill="#eb0057"/>
<circle cx="414.0" cy="576.3" r="4" fill="#2664da"/>
<circle cx="411.6" cy="588.1" r="4" fill="#6250c9"/>
<circle cx="398.4" cy="588.1" r="4" fill="#006add"/>
<circle cx="431.7" cy="580.2" r="4" fill="#6151c9"/>
<circle cx="393.1" cy="592.1" r="4" fill="#e8005e"/>
<circle cx="438.9" cy="576.3" r="4" fill="#dc006f"/>
<circle cx="380.9" cy="572.3" r="4" fill="#ed004b"/>
<circle cx="426.9" cy="580.2" r="4" fill="#0267dc"/>
<circle cx="433.6" cy="580.2" r="4" fill="#ed004b"/>
<circle cx="429.9" cy="588.1" r="4" fill="#e9005b"/>
<circle cx="390.0" cy="592.1" r="4" fill="#007de8"/>
<circle cx="362.4" cy="584.2" r="4" fill="#7245be"/>
<circle cx="340.9" cy="580.2" r="4" fill="#ed004b"/>
<circle cx="351.3" cy="584.2" r="4" fill="#ed004b"/>
<circle cx="364.7" cy="592.1" r="4" fill="#ed004b"/>
<circle cx="403.6" cy="588.1" r="4" fill="#a60b99"/>
<circle cx="450.0" cy="584.2" r="4" fill="#bc008c"/>
<circle cx="446.5" cy="576.3" r="4" fill="#a90597"/>
<circle cx="370.8" cy="588.1" r="4" fill="#0074e5"/>
<circle cx="407.0" cy="576.3" r="4" fill="#ed004b"/>
<circle cx="382.1" cy="580.2" r="4" fill="#0081e9"/>
<circle cx="382.3" cy="576.3" r="4" fill="#5d53cb"/>
<circle cx="377.5" cy="584.2" r="4" fill="#0076e5"/>
<circle cx="350.9" cy="588.1" r="4" fill="#6151c9"/>
<circle cx="395.6" cy="576.3" r="4" fill="#ed004f"/>
<circle cx="389.2" cy="580.2" r="4" fill="#0081e9"/>
<circle cx="390.5" cy="576.3" r="4" fill="#ed004b"/>
<circle cx="412.7" cy="584.2" r="4" fill="#e20068"/>
<circle cx="387.0" cy="596.0" r="4" fill="#991b9e"/>
<circle cx="403.1" cy="584.2" r="4" fill="#b7008f"/>
<circle cx="361.4" cy="584.2" r="4" fill="#d50078"/>
<circle cx="423.5" cy="588.1" r="4" fill="#e8005f"/>
<circle cx="428.3" cy="588.1" r="4" fill="#7245be"/>
<circle cx="391.3" cy="588.1" r="4" fill="#991a9e"/>
<circle cx="341.9" cy="584.2" r="4" fill="#0073e4"/>
<circle cx="477.5" cy="580.2" r="4" fill="#3f5ed5"/>
<circle cx="477.6" cy="584.2" r="4" fill="#a80797"/>
<circle cx="372.3" cy="592.1" r="4" fill="#0073e4"/>
<circle cx="343.4" cy="584.2" r="4" fill="#455cd3"/>
<circle cx="379.5" cy="584.2" r="4" fill="#bf008a"/>
<circle cx="416.4" cy="584.2" r="4" fill="#0072e4"/>
<circle cx="396.0" cy="588.1" r="4" fill="#ed004b"/>
<circle cx="409.2" cy="580.2" r="4" fill="#e9005c"/>
<circle cx="445.7" cy="584.2" r="4" fill="#d3007a"/>
<circle cx="408.0" cy="584.2" r="4" fill="#b40090"/>
<circle cx="385.2" cy="600.0" r="4" fill="#e70062"/>
<circle cx="408.3" cy="588.1" r="4" fill="#ed004b"/>
<circle cx="482.8" cy="584.2" r="4" fill="#e70062"/>
<circle cx="407.2" cy="584.2" r="4" fill="#ce007e"/>
<circle cx="382.5" cy="592.1" r="4" fill="#db0070"/>
<circle cx="468.2" cy="584.2" r="4" fill="#ed0054"/>
<circle cx="376.5" cy="580.2" r="4" fill="#e0006b"/>
<circle cx="384.6" cy="564.4" r="4" fill="#ba008d"/>
<circle cx="456.2" cy="588.1" r="4" fill="#0167dc"/>
<circle cx="433.4" cy="588.1" r="4" fill="#b8008e"/>
<circle cx="443.6" cy="580.2" r="4" fill="#ed004b"/>
<circle cx="362.6" cy="580.2" r="4" fill="#e60063"/>
<circle cx="447.1" cy="580.2" r="4" fill="#0079e7"/>
<circle cx="386.6" cy="572.3" r="4" fill="#ed004b"/>
<circle cx="357.4" cy="584.2" r="4" fill="#6b4ac3"/>
<circle cx="332.2" cy="584.2" r="4" fill="#7b3db7"/>
<circle cx="385.4" cy="568.4" r="4" fill="#0081e9"/>
<circle cx="431.1" cy="584.2" r="4" fill="#007ae7"/>
<circle cx="385.2" cy="572.3" r="4" fill="#006cdf"/>
<circle cx="474.4" cy="584.2" r="4" fill="#ed004b"/>
<circle cx="376.4" cy="584.2" r="4" fill="#007ce8"/>
<circle cx="379.4" cy="580.2" r="4" fill="#e50064"/>
<circle cx="407.4" cy="592.1" r="4" fill="#ac0195"/>
<circle cx="437.2" cy="588.1" r="4" fill="#0081e9"/>
<circle cx="370.2" cy="584.2" r="4" fill="#0078e7"/>
<circle cx="388.0" cy="576.3" r="4" fill="#cd007f"/>
<circle cx="405.9" cy="588.1" r="4" fill="#bb008c"/>
<circle cx="391.5" cy="580.2" r="4" fill="#ed004b"/>
<circle cx="329.1" cy="584.2" r="4" fill="#0069dd"/>
<circle cx="477.0" cy="584.2" r="4" fill="#af0094"/>
<circle cx="446.0" cy="580.2" r="4" fill="#0070e2"/>
<circle cx="391.7" cy="572.3" r="4" fill="#ed004b"/>
<circle cx="345.5" cy="584.2" r="4" fill="#ed004b"/>
<circle cx="426.3" cy="588.1" r="4" fill="#0081e9"/>
<circle cx="353.0" cy="580.2" r="4" fill="#5755cd"/>
<circle cx="447.6" cy="584.2" r="4" fill="#a0149a"/>
<circle cx="424.2" cy="580.2" r="4" fill="#5d52cb"/>
<circle cx="480.9" cy="584.2" r="4" fill="#0081e9"/>
<circle cx="435.0" cy="584.2" r="4" fill="#5955cd"/>
<circle cx="428.9" cy="584.2" r="4" fill="#ce007e"/>
<circle cx="371.4" cy="580.2" r="4" fill="#0081e9"/>
<circle cx="359.3" cy="588.1" r="4" fill="#ed004b"/>
<circle cx="453.3" cy="584.2" r="4" fill="#7642bc"/>
<circle cx="410.1" cy="576.3" r="4" fill="#0081e9"/>
<circle cx="437.0" cy="580.2" r="4" fill="#0075e5"/>
<circle cx="450.3" cy="580.2" r="4" fill="#007fe8"/>
<circle cx="382.6" cy="600.0" r="4" fill="#ed004c"/>
<circle cx="392.4" cy="596.0" r="4" fill="#ed004b"/>
<circle cx="429.3" cy="580.2" r="4" fill="#7642bc"/>
<circle cx="386.9" cy="584.2" r="4" fill="#ce007e"/>
<circle cx="418.6" cy="584.2" r="4" fill="#ed0054"/>
<circle cx="388.5" cy="580.2" r="4" fill="#0081e9"/>
<circle cx="336.0" cy="584.2" r="4" fill="#0071e3"/>
<circle cx="381.3" cy="592.1" r="4" fill="#8e24a3"/>
<circle cx="402.2" cy="592.1" r="4" fill="#c40086"/>
<circle cx="372.7" cy="588.1" r="4" fill="#415dd4"/>
<circle cx="413.3" cy="588.1" r="4" fill="#ed004b"/>
<circle cx="397.4" cy="584.2" r="4" fill="#0081e9"/>
<circle cx="380.4" cy="588.1" r="4" fill="#0080e9"/>
<circle cx="540.2" cy="584.2" r="4" fill="#0081e9"/>
<circle cx="367.7" cy="588.1" r="4" fill="#0081e9"/>
<circle cx="424.3" cy="576.3" r="4" fill="#1865db"/>
<circle cx="383.4" cy="596.0" r="4" fill="#da0072"/>
<circle cx="387.7" cy="568.4" r="4" fill="#694bc4"/>
<circle cx="366.4" cy="584.2" r="4" fill="#ce007e"/>
<circle cx="386.0" cy="576.3" r="4" fill="#c50086"/>
<circle cx="364.8" cy="588.1" r="4" fill="#ec0056"/>
<circle cx="353.0" cy="576.3" r="4" fill="#0076e6"/>
<circle cx="460.8" cy="584.2" r="4" fill="#e50064"/>
<circle cx="366.2" cy="576.3" r="4" fill="#dc006f"/>
<circle cx="423.1" cy="584.2" r="4" fill="#8b2ca8"/>
<circle cx="404.5" cy="580.2" r="4" fill="#007ee8"/>
<circle cx="360.8" cy="592.1" r="4" fill="#7d3cb6"/>
<circle cx="327.7" cy="584.2" r="4" fill="#ed004b"/>
<circle cx="431.6" cy="576.3" r="4" fill="#0071e3"/>
<circle cx="472.5" cy="584.2" r="4" fill="#7543bc"/>
<circle cx="412.0" cy="576.3" r="4" fill="#8a2ca8"/>
<circle cx="446.2" cy="588.1" r="4" fill="#e20068"/>
<circle cx="378.6" cy="588.1" r="4" fill="#8236b1"/>
<circle cx="339.1" cy="584.2" r="4" fill="#0081e9"/>
<circle cx="440.6" cy="580.2" r="4" fill="#6250c8"/>
<circle cx="457.7" cy="584.2" r="4" fill="#da0072"/>
<circle cx="348.3" cy="584.2" r="4" fill="#793fb9"/>
<circle cx="479.5" cy="588.1" r="4" fill="#a2129a"/>
<circle cx="395.6" cy="596.0" r="4" fill="#ed004b"/>
<circle cx="382.5" cy="584.2" r="4" fill="#ed004b"/>
<circle cx="392.4" cy="600.0" r="4" fill="#0070e2"/>
<circle cx="409.5" cy="592.1" r="4" fill="#0467db"/>
<circle cx="401.0" cy="580.2" r="4" fill="#007fe8"/>
<circle cx="351.0" cy="580.2" r="4" fill="#882fab"/>
<circle cx="419.6" cy="588.1" r="4" fill="#e30067"/>
<circle cx="485.7" cy="584.2" r="4" fill="#006fe1"/>
<circle cx="394.6" cy="584.2" r="4" fill="#ed004b"/>
<circle cx="402.8" cy="576.3" r="4" fill="#0079e7"/>
<circle cx="376.0" cy="588.1" r="4" fill="#ed004b"/>
<circle cx="379.5" cy="576.3" r="4" fill="#ea005a"/>
<circle cx="394.8" cy="580.2" r="4" fill="#0081e9"/>
<circle cx="364.3" cy="576.3" r="4" fill="#ed004b"/>
<circle cx="368.8" cy="580.2" r="4" fill="#0081e9"/>
<circle cx="360.3" cy="580.2" r="4" fill="#db0071"/>
<circle cx="361.1" cy="588.1" r="4" fill="#6051c9"/>
<circle cx="355.3" cy="576.3" r="4" fill="#ed004b"/>
<circle cx="421.1" cy="584.2" r="4" fill="#793fb9"/>
<circle cx="415.6" cy="588.1" r="4" fill="#006fe1"/>
<circle cx="359.0" cy="580.2" r="4" fill="#0767db"/>
<circle cx="349.7" cy="588.1" r="4" fill="#ed004b"/>
<circle cx="400.4" cy="576.3" r="4" fill="#a31099"/>
<circle cx="454.4" cy="584.2" r="4" fill="#ae0094"/>
<circle cx="380.8" cy="568.4" r="4" fill="#9e159b"/>
<circle cx="392.6" cy="568.4" r="4" fill="#006ee1"/>
<circle cx="385.8" cy="596.0" r="4" fill="#0081e9"/>
<circle cx="385.7" cy="584.2" r="4" fill="#da0072"/>
<circle cx="383.2" cy="572.3" r="4" fill="#af0094"/>
<circle cx="398.8" cy="580.2" r="4" fill="#ed004b"/>
<circle cx="458.8" cy="584.2" r="4" fill="#0081e9"/>
<circle cx="352.7" cy="588.1" r="4" fill="#0074e4"/>
<circle cx="389.2" cy="572.3" r="4" fill="#007fe8"/>
<circle cx="367.6" cy="576.3" r="4" fill="#0081e9"/>
<circle cx="383.5" cy="588.1" r="4" fill="#2e63d8"/>
<circle cx="388.0" cy="592.1" r="4" fill="#0081e9"/>
<circle cx="352.7" cy="584.2" r="4" fill="#ed004b"/>
<circle cx="373.6" cy="576.3" r="4" fill="#ba008d"/>
<circle cx="362.0" cy="576.3" r="4" fill="#0069dd"/>
<circle cx="377.2" cy="580.2" r="4" fill="#ed004b"/>
<circle cx="379.3" cy="596.0" r="4" fill="#0075e5"/>
<circle cx="430.8" cy="592.1" r="4" fill="#eb0059"/>
<circle cx="333.3" cy="580.2" r="4" fill="#684cc5"/>
<circle cx="355.9" cy="588.1" r="4" fill="#9e149b"/>
<circle cx="439.2" cy="584.2" r="4" fill="#1b65db"/>
<circle cx="463.1" cy="584.2" r="4" fill="#e70060"/>
<circle cx="378.0" cy="576.3" r="4" fill="#0081e9"/>
<circle cx="376.2" cy="576.3" r="4" fill="#ac0095"/>
<circle cx="411.6" cy="584.2" r="4" fill="#ed004b"/>
<circle cx="385.3" cy="580.2" r="4" fill="#0966db"/>
<circle cx="365.1" cy="580.2" r="4" fill="#8631ad"/>
<circle cx="383.2" cy="568.4" r="4" fill="#0070e2"/>
<circle cx="483.1" cy="580.2" r="4" fill="#e8005f"/>
<circle cx="321.3" cy="584.2" r="4" fill="#ed004b"/>
<circle cx="402.4" cy="588.1" r="4" fill="#007ee8"/>
<circle cx="432.2" cy="584.2" r="4" fill="#8c2aa7"/>
<circle cx="394.7" cy="588.1" r="4" fill="#b00093"/>
<circle cx="334.1" cy="584.2" r="4" fill="#ed0051"/>
<circle cx="370.4" cy="576.3" r="4" fill="#3162d8"/>
<circle cx="387.7" cy="588.1" r="4" fill="#0081e9"/>
<circle cx="392.7" cy="576.3" r="4" fill="#d60076"/>
<circle cx="391.2" cy="584.2" r="4" fill="#ed004f"/>
<circle cx="412.6" cy="580.2" r="4" fill="#445dd3"/>
<circle cx="385.9" cy="588.1" r="4" fill="#7048c1"/>
<circle cx="373.8" cy="584.2" r="4" fill="#0d66db"/>
<circle cx="398.2" cy="584.2" r="4" fill="#d60077"/>
<circle cx="389.4" cy="584.2" r="4" fill="#9e159b"/>
<circle cx="389.4" cy="588.1" r="4" fill="#ed004b"/>
<circle cx="376.6" cy="592.1" r="4" fill="#bd008c"/>
<circle cx="412.8" cy="580.2" r="4" fill="#cf007d"/>
<circle cx="438.1" cy="584.2" r="4" fill="#8533ae"/>
<circle cx="347.9" cy="580.2" r="4" fill="#007de8"/>
<circle cx="357.7" cy="584.2" r="4" fill="#bd008c"/>
<circle cx="417.8" cy="580.2" r="4" fill="#0081e9"/>
<circle cx="425.4" cy="584.2" r="4" fill="#3561d7"/>
<circle cx="447.3" cy="588.1" r="4" fill="#ed004c"/>
<circle cx="401.2" cy="650.9" r="4" fill="#0081e9"/>
<circle cx="384.9" cy="646.9" r="4" fill="#0071e2"/>
<circle cx="363.6" cy="631.1" r="4" fill="#0070e2"/>
<circle cx="345.2" cy="639.0" r="4" fill="#007fe8"/>
<circle cx="387.5" cy="643.0" r="4" fill="#3761d7"/>
<circle cx="382.9" cy="643.0" r="4" fill="#3761d7"/>
<circle cx="405.5" cy="627.2" r="4" fill="#007be8"/>
<circle cx="444.4" cy="639.0" r="4" fill="#b9008d"/>
<circle cx="438.2" cy="639.0" r="4" fill="#0073e4"/>
<circle cx="395.1" cy="639.0" r="4" fill="#7f3ab3"/>
<circle cx="400.7" cy="635.1" r="4" fill="#7543bc"/>
<circle cx="426.2" cy="639.0" r="4" fill="#0081e9"/>
<circle cx="436.5" cy="643.0" r="4" fill="#0079e7"/>
<circle cx="408.0" cy="639.0" r="4" fill="#3262d8"/>
<circle cx="395.7" cy="646.9" r="4" fill="#0070e2"/>
<circle cx="370.5" cy="627.2" r="4" fill="#0075e5"/>
<circle cx="401.2" cy="646.9" r="4" fill="#0081e9"/>
<circle cx="421.4" cy="635.1" r="4" fill="#7f3ab4"/>
<circle cx="399.2" cy="635.1" r="4" fill="#7e3bb4"/>
<circle cx="387.6" cy="627.2" r="4" fill="#0081e9"/>
<circle cx="382.8" cy="646.9" r="4" fill="#0072e3"/>
<circle cx="341.6" cy="639.0" r="4" fill="#425dd4"/>
<circle cx="311.0" cy="639.0" r="4" fill="#0081e9"/>
<circle cx="396.6" cy="627.2" r="4" fill="#0081e9"/>
<circle cx="377.0" cy="631.1" r="4" fill="#ed0052"/>
<circle cx="368.7" cy="639.0" r="4" fill="#3d5fd5"/>
<circle cx="448.1" cy="635.1" r="4" fill="#8e24a4"/>
<circle cx="436.9" cy="635.1" r="4" fill="#0081e9"/>
<circle cx="419.1" cy="646.9" r="4" fill="#8237b2"/>
<circle cx="407.9" cy="627.2" r="4" fill="#0069dd"/>
<circle cx="455.5" cy="635.1" r="4" fill="#8038b3"/>
<circle cx="446.9" cy="639.0" r="4" fill="#0081e9"/>
<circle cx="365.1" cy="631.1" r="4" fill="#0081e9"/>
<circle cx="481.6" cy="639.0" r="4" fill="#0081e9"/>
<circle cx="355.0" cy="639.0" r="4" fill="#0081e9"/>
<circle cx="509.3" cy="639.0" r="4" fill="#ed004b"/>
<circle cx="399.8" cy="654.8" r="4" fill="#6150c9"/>
<circle cx="457.9" cy="635.1" r="4" fill="#8335b0"/>
<circle cx="411.9" cy="635.1" r="4" fill="#0074e5"/>
<circle cx="388.8" cy="631.1" r="4" fill="#0081e9"/>
<circle cx="362.6" cy="643.0" r="4" fill="#9220a0"/>
<circle cx="429.4" cy="635.1" r="4" fill="#ed004b"/>
<circle cx="475.8" cy="639.0" r="4" fill="#8731ad"/>
<circle cx="443.6" cy="643.0" r="4" fill="#0081e9"/>
<circle cx="417.0" cy="635.1" r="4" fill="#0081e9"/>
<circle cx="393.6" cy="643.0" r="4" fill="#0081e9"/>
<circle cx="377.2" cy="639.0" r="4" fill="#b6008f"/>
<circle cx="384.8" cy="650.9" r="4" fill="#007fe8"/>
<circle cx="415.7" cy="639.0" r="4" fill="#ed004b"/>
<circle cx="450.0" cy="639.0" r="4" fill="#0071e2"/>
<circle cx="453.3" cy="639.0" r="4" fill="#0081e9"/>
<circle cx="413.4" cy="627.2" r="4" fill="#0071e3"/>
<circle cx="457.6" cy="643.0" r="4" fill="#006cdf"/>
<circle cx="443.7" cy="635.1" r="4" fill="#0081e9"/>
<circle cx="356.5" cy="643.0" r="4" fill="#3b60d6"/>
<circle cx="438.8" cy="635.1" r="4" fill="#db0071"/>
<circle cx="390.9" cy="639.0" r="4" fill="#0081e9"/>
<circle cx="410.8" cy="639.0" r="4" fill="#007be8"/>
<circle cx="440.9" cy="639.0" r="4" fill="#0081e9"/>
<circle cx="386.4" cy="650.9" r="4" fill="#0081e9"/>
<circle cx="357.5" cy="643.0" r="4" fill="#0070e2"/>
<circle cx="494.8" cy="639.0" r="4" fill="#ed004b"/>
<circle cx="385.2" cy="631.1" r="4" fill="#0081e9"/>
<circle cx="403.8" cy="639.0" r="4" fill="#007fe8"/>
<circle cx="381.5" cy="623.2" r="4" fill="#0867db"/>
<circle cx="382.4" cy="635.1" r="4" fill="#ab0296"/>
<circle cx="465.9" cy="639.0" r="4" fill="#3960d6"/>
<circle cx="335.7" cy="639.0" r="4" fill="#5855cd"/>
<circle cx="455.1" cy="635.1" r="4" fill="#8038b3"/>
<circle cx="416.9" cy="646.9" r="4" fill="#0075e5"/>
<circle cx="417.9" cy="643.0" r="4" fill="#3b60d6"/>
<circle cx="382.9" cy="631.1" r="4" fill="#0067dc"/>
<circle cx="398.8" cy="631.1" r="4" fill="#0073e4"/>
<circle cx="418.2" cy="627.2" r="4" fill="#0a66db"/>
<circle cx="374.2" cy="635.1" r="4" fill="#006de0"/>
<circle cx="402.5" cy="654.8" r="4" fill="#007be8"/>
<circle cx="370.4" cy="631.1" r="4" fill="#0081e9"/>
<circle cx="368.4" cy="631.1" r="4" fill="#8a2da9"/>
<circle cx="433.5" cy="639.0" r="4" fill="#0081e9"/>
<circle cx="424.5" cy="643.0" r="4" fill="#006cdf"/>
<circle cx="333.5" cy="639.0" r="4" fill="#3960d6"/>
<circle cx="360.7" cy="643.0" r="4" fill="#6d49c1"/>
<circle cx="367.5" cy="635.1" r="4" fill="#8a2da9"/>
<circle cx="382.5" cy="627.2" r="4" fill="#0081e9"/>
<circle cx="391.3" cy="627.2" r="4" fill="#007fe8"/>
<circle cx="382.5" cy="639.0" r="4" fill="#0074e4"/>
<circle cx="372.6" cy="635.1" r="4" fill="#ba008d"/>
<circle cx="345.0" cy="635.1" r="4" fill="#0081e9"/>
<circle cx="384.4" cy="627.2" r="4" fill="#8533ae"/>
<circle cx="420.1" cy="631.1" r="4" fill="#ed0053"/>
<circle cx="380.7" cy="646.9" r="4" fill="#007ee8"/>
<circle cx="356.3" cy="631.1" r="4" fill="#0081e9"/>
<circle cx="403.2" cy="654.8" r="4" fill="#007de8"/>
<circle cx="380.8" cy="635.1" r="4" fill="#7444bd"/>
<circle cx="404.5" cy="627.2" r="4" fill="#0073e4"/>
<circle cx="404.9" cy="650.9" r="4" fill="#0074e4"/>
<circle cx="412.4" cy="639.0" r="4" fill="#3c5fd6"/>
<circle cx="378.2" cy="643.0" r="4" fill="#0078e6"/>
<circle cx="348.3" cy="639.0" r="4" fill="#0081e9"/>
<circle cx="397.9" cy="623.2" r="4" fill="#0074e4"/>
<circle cx="441.4" cy="639.0" r="4" fill="#0077e6"/>
<circle cx="405.8" cy="623.2" r="4" fill="#2964d9"/>
<circle cx="379.9" cy="639.0" r="4" fill="#0081e9"/>
<circle cx="362.3" cy="639.0" r="4" fill="#0068dc"/>
<circle cx="401.7" cy="631.1" r="4" fill="#2664da"/>
<circle cx="365.2" cy="643.0" r="4" fill="#0081e9"/>
<circle cx="408.6" cy="643.0" r="4" fill="#9a199d"/>
<circle cx="328.4" cy="639.0" r="4" fill="#007ee8"/>
<circle cx="370.3" cy="646.9" r="4" fill="#0081e9"/>
<circle cx="407.1" cy="646.9" r="4" fill="#0071e3"/>
<circle cx="400.0" cy="643.0" r="4" fill="#ed004e"/>
<circle cx="406.3" cy="631.1" r="4" fill="#b30091"/>
<circle cx="388.2" cy="639.0" r="4" fill="#0081e9"/>
<circle cx="373.0" cy="650.9" r="4" fill="#0081e9"/>
<circle cx="408.0" cy="623.2" r="4" fill="#0071e2"/>
<circle cx="414.5" cy="631.1" r="4" fill="#0081e9"/>
<circle cx="322.7" cy="639.0" r="4" fill="#0081e9"/>
<circle cx="394.9" cy="650.9" r="4" fill="#0081e9"/>
<circle cx="383.6" cy="643.0" r="4" fill="#7146c0"/>
<circle cx="390.0" cy="627.2" r="4" fill="#2a64d9"/>
<circle cx="332.6" cy="639.0" r="4" fill="#007fe8"/>
<circle cx="407.9" cy="635.1" r="4" fill="#bf008b"/>
<circle cx="369.6" cy="643.0" r="4" fill="#ed004b"/>
<circle cx="370.5" cy="635.1" r="4" fill="#0078e7"/>
<circle cx="375.4" cy="646.9" r="4" fill="#006ddf"/>
<circle cx="389.5" cy="643.0" r="4" fill="#3761d7"/>
<circle cx="400.2" cy="650.9" r="4" fill="#0b66db"/>
<circle cx="375.9" cy="631.1" r="4" fill="#007ee8"/>
<circle cx="404.2" cy="631.1" r="4" fill="#0071e2"/>
<circle cx="392.5" cy="623.2" r="4" fill="#0081e9"/>
<circle cx="352.8" cy="635.1" r="4" fill="#9121a1"/>
<circle cx="428.1" cy="639.0" r="4" fill="#007fe8"/>
<circle cx="392.4" cy="650.9" r="4" fill="#0081e9"/>
<circle cx="397.1" cy="650.9" r="4" fill="#0081e9"/>
<circle cx="388.4" cy="635.1" r="4" fill="#0081e9"/>
<circle cx="384.0" cy="623.2" r="4" fill="#0081e9"/>
<circle cx="393.6" cy="627.2" r="4" fill="#6d49c2"/>
<circle cx="419.5" cy="643.0" r="4" fill="#b40090"/>
<circle cx="395.6" cy="639.0" r="4" fill="#006ee0"/>
<circle cx="356.2" cy="635.1" r="4" fill="#0081e9"/>
<circle cx="373.8" cy="627.2" r="4" fill="#0081e9"/>
<circle cx="413.0" cy="650.9" r="4" fill="#0081e9"/>
<circle cx="372.3" cy="631.1" r="4" fill="#5c53cb"/>
<circle cx="368.2" cy="646.9" r="4" fill="#0070e2"/>
<circle cx="433.9" cy="635.1" r="4" fill="#007be8"/>
<circle cx="460.7" cy="639.0" r="4" fill="#0079e7"/>
<circle cx="419.7" cy="646.9" r="4" fill="#006fe1"/>
<circle cx="372.0" cy="639.0" r="4" fill="#3f5ed5"/>
<circle cx="353.2" cy="639.0" r="4" fill="#7a3fb9"/>
<circle cx="459.2" cy="639.0" r="4" fill="#8b2ba7"/>
<circle cx="379.3" cy="631.1" r="4" fill="#0067dc"/>
<circle cx="386.5" cy="631.1" r="4" fill="#0071e2"/>
<circle cx="420.5" cy="639.0" r="4" fill="#3c5fd6"/>
<circle cx="411.4" cy="646.9" r="4" fill="#0081e9"/>
<circle cx="389.6" cy="650.9" r="4" fill="#7e3ab4"/>
<circle cx="397.8" cy="643.0" r="4" fill="#007fe8"/>
<circle cx="425.1" cy="635.1" r="4" fill="#e80060"/>
<circle cx="418.4" cy="623.2" r="4" fill="#0073e4"/>
<circle cx="387.7" cy="639.0" r="4" fill="#0081e9"/>
<circle cx="406.9" cy="643.0" r="4" fill="#0077e6"/>
<circle cx="394.5" cy="631.1" r="4" fill="#006fe1"/>
<circle cx="387.8" cy="635.1" r="4" fill="#0076e6"/>
<circle cx="358.5" cy="635.1" r="4" fill="#0071e3"/>
<circle cx="419.5" cy="627.2" r="4" fill="#007ce8"/>
<circle cx="409.4" cy="631.1" r="4" fill="#0073e4"/>
<circle cx="372.4" cy="623.2" r="4" fill="#0081e9"/>
<circle cx="396.6" cy="635.1" r="4" fill="#a70798"/>
<circle cx="360.0" cy="639.0" r="4" fill="#0076e5"/>
<circle cx="399.2" cy="639.0" r="4" fill="#bb008c"/>
<circle cx="371.9" cy="627.2" r="4" fill="#0081e9"/>
<circle cx="422.8" cy="639.0" r="4" fill="#2764d9"/>
<circle cx="413.0" cy="646.9" r="4" fill="#0081e9"/>
<circle cx="398.7" cy="646.9" r="4" fill="#0075e5"/>
<circle cx="339.6" cy="639.0" r="4" fill="#0081e9"/>
<circle cx="457.4" cy="639.0" r="4" fill="#8a2da9"/>
<circle cx="375.7" cy="643.0" r="4" fill="#664dc6"/>
<circle cx="455.1" cy="643.0" r="4" fill="#5656ce"/>
<circle cx="348.8" cy="635.1" r="4" fill="#0081e9"/>
<circle cx="365.7" cy="635.1" r="4" fill="#0067dc"/>
<circle cx="380.2" cy="623.2" r="4" fill="#0073e4"/>
<circle cx="402.4" cy="627.2" r="4" fill="#0077e6"/>
<circle cx="291.1" cy="639.0" r="4" fill="#0081e9"/>
<circle cx="373.8" cy="639.0" r="4" fill="#0081e9"/>
<circle cx="393.9" cy="646.9" r="4" fill="#006fe1"/>
<circle cx="362.1" cy="635.1" r="4" fill="#007ce8"/>
<circle cx="409.8" cy="650.9" r="4" fill="#0075e5"/>
<circle cx="435.6" cy="639.0" r="4" fill="#3d5fd5"/>
<circle cx="452.5" cy="639.0" r="4" fill="#006de0"/>
<circle cx="388.8" cy="646.9" r="4" fill="#a70998"/>
<circle cx="404.6" cy="646.9" r="4" fill="#0081e9"/>
<circle cx="429.9" cy="643.0" r="4" fill="#0081e9"/>
<circle cx="459.8" cy="643.0" r="4" fill="#8e24a4"/>
<circle cx="524.6" cy="639.0" r="4" fill="#0081e9"/>
<circle cx="373.5" cy="646.9" r="4" fill="#ed004b"/>
<circle cx="419.3" cy="650.9" r="4" fill="#0081e9"/>
<circle cx="410.9" cy="627.2" r="4" fill="#0069dd"/>
<circle cx="415.3" cy="631.1" r="4" fill="#405ed4"/>
<circle cx="383.7" cy="635.1" r="4" fill="#b30091"/>
<circle cx="410.2" cy="643.0" r="4" fill="#9f149b"/>
<circle cx="382.2" cy="650.9" r="4" fill="#0074e5"/>
<circle cx="422.1" cy="635.1" r="4" fill="#0081e9"/>
<circle cx="413.3" cy="635.1" r="4" fill="#0068dc"/>
<circle cx="387.9" cy="646.9" r="4" fill="#006de0"/>
<circle cx="342.7" cy="639.0" r="4" fill="#ed004b"/>
<circle cx="403.5" cy="635.1" r="4" fill="#006cdf"/>
<circle cx="385.6" cy="654.8" r="4" fill="#664dc6"/>
<circle cx="407.4" cy="639.0" r="4" fill="#0081e9"/>
<circle cx="357.4" cy="639.0" r="4" fill="#7a3eb8"/>
<circle cx="411.9" cy="631.1" r="4" fill="#0081e9"/>
<circle cx="400.5" cy="639.0" r="4" fill="#0074e5"/>
<circle cx="414.1" cy="623.2" r="4" fill="#bb008c"/>
<circle cx="371.3" cy="639.0" r="4" fill="#007ee8"/>
<circle cx="518.8" cy="639.0" r="4" fill="#ed004b"/>
<circle cx="438.0" cy="631.1" r="4" fill="#0081e9"/>
<circle cx="417.5" cy="635.1" r="4" fill="#0081e9"/>
<circle cx="419.0" cy="631.1" r="4" fill="#0081e9"/>
<circle cx="374.3" cy="650.9" r="4" fill="#0078e7"/>
<circle cx="379.2" cy="643.0" r="4" fill="#007ae7"/>
<circle cx="372.9" cy="643.0" r="4" fill="#0d66db"/>
<circle cx="393.2" cy="635.1" r="4" fill="#006de0"/>
<circle cx="360.0" cy="635.1" r="4" fill="#0081e9"/>
<circle cx="460.3" cy="635.1" r="4" fill="#3960d6"/>
<circle cx="396.6" cy="623.2" r="4" fill="#e10069"/>
<circle cx="404.2" cy="623.2" r="4" fill="#006fe1"/>
<circle cx="402.9" cy="643.0" r="4" fill="#0081e9"/>
<circle cx="383.6" cy="639.0" r="4" fill="#0081e9"/>
<circle cx="418.9" cy="639.0" r="4" fill="#007ee8"/>
<circle cx="380.6" cy="650.9" r="4" fill="#0071e2"/>
<circle cx="366.1" cy="639.0" r="4" fill="#0081e9"/>
<circle cx="392.4" cy="635.1" r="4" fill="#3761d7"/>
<circle cx="405.5" cy="650.9" r="4" fill="#1066db"/>
<circle cx="416.3" cy="627.2" r="4" fill="#0081e9"/>
<circle cx="389.5" cy="623.2" r="4" fill="#0081e9"/>
<circle cx="369.7" cy="650.9" r="4" fill="#0081e9"/>
<circle cx="401.3" cy="643.0" r="4" fill="#0067dc"/>
<circle cx="392.9" cy="646.9" r="4" fill="#2a64d9"/>
<circle cx="412.6" cy="643.0" r="4" fill="#0081e9"/>
<circle cx="277.6" cy="639.0" r="4" fill="#0081e9"/>
<circle cx="412.2" cy="650.9" r="4" fill="#0081e9"/>
<circle cx="268.0" cy="639.0" r="4" fill="#0081e9"/>
<circle cx="392.1" cy="654.8" r="4" fill="#0078e6"/>
<circle cx="399.4" cy="627.2" r="4" fill="#0071e3"/>
<circle cx="429.2" cy="639.0" r="4" fill="#0081e9"/>
<circle cx="392.4" cy="631.1" r="4" fill="#0071e2"/>
<circle cx="390.9" cy="643.0" r="4" fill="#2b63d9"/>
<circle cx="401.2" cy="623.2" r="4" fill="#0073e4"/>
<circle cx="409.0" cy="646.9" r="4" fill="#3e5ed5"/>
<circle cx="415.1" cy="643.0" r="4" fill="#445dd3"/>
<circle cx="351.8" cy="639.0" r="4" fill="#445dd3"/>
<circle cx="405.8" cy="635.1" r="4" fill="#007ee8"/>
<circle cx="379.0" cy="627.2" r="4" fill="#006cdf"/>
<circle cx="462.7" cy="639.0" r="4" fill="#ed004b"/>
<circle cx="397.5" cy="631.1" r="4" fill="#a70898"/>
<circle cx="378.5" cy="635.1" r="4" fill="#0079e7"/>
<circle cx="367.0" cy="643.0" r="4" fill="#5d53cb"/>
<circle cx="449.0" cy="635.1" r="4" fill="#ed004b"/>
<circle cx="443.1" cy="697.8" r="4" fill="#ed004b"/>
<circle cx="396.9" cy="682.0" r="4" fill="#7841ba"/>
<circle cx="383.8" cy="682.0" r="4" fill="#ed004b"/>
<circle cx="436.7" cy="689.9" r="4" fill="#d60076"/>
<circle cx="404.9" cy="697.8" r="4" fill="#9021a1"/>
<circle cx="443.5" cy="693.8" r="4" fill="#ec0056"/>
<circle cx="405.8" cy="682.0" r="4" fill="#d60077"/>
<circle cx="359.4" cy="697.8" r="4" fill="#0081e9"/>
<circle cx="407.0" cy="685.9" r="4" fill="#c40086"/>
<circle cx="403.8" cy="689.9" r="4" fill="#a60b99"/>
<circle cx="456.3" cy="693.8" r="4" fill="#0079e7"/>
<circle cx="415.3" cy="689.9" r="4" fill="#e40064"/>
<circle cx="357.3" cy="685.9" r="4" fill="#ac0195"/>
<circle cx="333.8" cy="693.8" r="4" fill="#006ddf"/>
<circle cx="400.7" cy="678.0" r="4" fill="#0081e9"/>
<circle cx="505.0" cy="693.8" r="4" fill="#ed004b"/>
<circle cx="418.5" cy="701.7" r="4" fill="#634fc8"/>
<circle cx="392.7" cy="682.0" r="4" fill="#ad0095"/>
<circle cx="421.2" cy="682.0" r="4" fill="#bb008c"/>
<circle cx="399.4" cy="705.7" r="4" fill="#ed004b"/>
<circle cx="446.8" cy="693.8" r="4" fill="#3162d8"/>
<circle cx="399.5" cy="682.0" r="4" fill="#ed004b"/>
<circle cx="434.8" cy="689.9" r="4" fill="#e30066"/>
<circle cx="354.0" cy="685.9" r="4" fill="#2564da"/>
<circle cx="382.5" cy="689.9" r="4" fill="#e50064"/>
<circle cx="444.8" cy="685.9" r="4" fill="#a31199"/>
<circle cx="424.4" cy="689.9" r="4" fill="#ed004b"/>
<circle cx="396.4" cy="705.7" r="4" fill="#1c65db"/>
<circle cx="407.9" cy="689.9" r="4" fill="#3262d8"/>
<circle cx="393.5" cy="678.0" r="4" fill="#3c5fd5"/>
<circle cx="377.0" cy="697.8" r="4" fill="#ec0057"/>
<circle cx="381.5" cy="697.8" r="4" fill="#e8005e"/>
<circle cx="394.3" cy="685.9" r="4" fill="#991b9e"/>
<circle cx="395.2" cy="705.7" r="4" fill="#e60063"/>
<circle cx="365.6" cy="697.8" r="4" fill="#ed004b"/>
<circle cx="447.9" cy="697.8" r="4" fill="#0081e9"/>
<circle cx="375.8" cy="689.9" r="4" fill="#e8005e"/>
<circle cx="420.1" cy="693.8" r="4" fill="#ed004b"/>
<circle cx="342.0" cy="693.8" r="4" fill="#8138b3"/>
<circle cx="469.4" cy="693.8" r="4" fill="#ed004b"/>
<circle cx="462.4" cy="689.9" r="4" fill="#0071e2"/>
<circle cx="427.7" cy="693.8" r="4" fill="#d90074"/>
<circle cx="423.8" cy="697.8" r="4" fill="#0072e3"/>
<circle cx="421.9" cy="689.9" r="4" fill="#007ee8"/>
<circle cx="380.3" cy="685.9" r="4" fill="#2e63d8"/>
<circle cx="458.1" cy="693.8" r="4" fill="#9f149b"/>
<circle cx="347.5" cy="693.8" r="4" fill="#2464da"/>
<circle cx="411.1" cy="689.9" r="4" fill="#ed004b"/>
<circle cx="407.5" cy="689.9" r="4" fill="#8335b0"/>
<circle cx="388.1" cy="682.0" r="4" fill="#0467db"/>
<circle cx="399.2" cy="697.8" r="4" fill="#006cdf"/>
<circle cx="408.4" cy="685.9" r="4" fill="#1765db"/>
<circle cx="344.0" cy="693.8" r="4" fill="#0081e9"/>
<circle cx="444.5" cy="689.9" r="4" fill="#d60076"/>
<circle cx="368.4" cy="701.7" r="4" fill="#ea005a"/>
<circle cx="423.1" cy="689.9" r="4" fill="#9d169c"/>
<circle cx="386.3" cy="685.9" r="4" fill="#0071e3"/>
<circle cx="382.8" cy="693.8" r="4" fill="#0081e9"/>
<circle cx="398.4" cy="693.8" r="4" fill="#e70061"/>
<circle cx="399.7" cy="701.7" r="4" fill="#6f48c1"/>
<circle cx="408.4" cy="697.8" r="4" fill="#ce007e"/>
<circle cx="390.1" cy="697.8" r="4" fill="#d1007c"/>
<circle cx="417.9" cy="685.9" r="4" fill="#0081e9"/>
<circle cx="365.2" cy="685.9" r="4" fill="#e8005f"/>
<circle cx="372.7" cy="693.8" r="4" fill="#8533ae"/>
<circle cx="390.6" cy="685.9" r="4" fill="#ed004b"/>
<circle cx="343.5" cy="689.9" r="4" fill="#654ec6"/>
<circle cx="404.4" cy="685.9" r="4" fill="#bc008c"/>
<circle cx="390.9" cy="685.9" r="4" fill="#ea0059"/>
<circle cx="394.9" cy="697.8" r="4" fill="#0075e5"/>
<circle cx="401.6" cy="685.9" r="4" fill="#ed004b"/>
<circle cx="336.7" cy="693.8" r="4" fill="#ed004b"/>
<circle cx="428.7" cy="697.8" r="4" fill="#6c49c2"/>
<circle cx="411.5" cy="701.7" r="4" fill="#8434af"/>
<circle cx="404.7" cy="701.7" r="4" fill="#e60063"/>
<circle cx="396.0" cy="697.8" r="4" fill="#7f3ab4"/>
<circle cx="392.6" cy="697.8" r="4" fill="#0081e9"/>
<circle cx="417.9" cy="697.8" r="4" fill="#0074e4"/>
<circle cx="436.8" cy="697.8" r="4" fill="#ed0050"/>
<circle cx="363.3" cy="697.8" r="4" fill="#db0071"/>
<circle cx="386.2" cy="701.7" r="4" fill="#0081e9"/>
<circle cx="396.2" cy="685.9" r="4" fill="#0074e5"/>
<circle cx="347.9" cy="693.8" r="4" fill="#0081e9"/>
<circle cx="400.6" cy="709.6" r="4" fill="#ed004b"/>
<circle cx="389.9" cy="689.9" r="4" fill="#0081e9"/>
<circle cx="390.5" cy="701.7" r="4" fill="#6f48c1"/>
<circle cx="388.7" cy="678.0" r="4" fill="#ec0056"/>
<circle cx="466.9" cy="689.9" r="4" fill="#ed004b"/>
<circle cx="474.4" cy="693.8" r="4" fill="#ed004b"/>
<circle cx="468.5" cy="689.9" r="4" fill="#ed004b"/>
<circle cx="434.3" cy="685.9" r="4" fill="#d2007b"/>
<circle cx="384.9" cy="697.8" r="4" fill="#0081e9"/>
<circle cx="416.6" cy="701.7" r="4" fill="#0081e9"/>
<circle cx="416.3" cy="685.9" r="4" fill="#0081e9"/>
<circle cx="361.8" cy="693.8" r="4" fill="#0077e6"/>
<circle cx="406.6" cy="693.8" r="4" fill="#8a2da9"/>
<circle cx="381.1" cy="697.8" r="4" fill="#eb0059"/>
<circle cx="430.0" cy="697.8" r="4" fill="#ed004b"/>
<circle cx="457.3" cy="697.8" r="4" fill="#0081e9"/>
<circle cx="370.4" cy="689.9" r="4" fill="#d90073"/>
<circle cx="328.3" cy="693.8" r="4" fill="#0081e9"/>
<circle cx="429.5" cy="689.9" r="4" fill="#0077e6"/>
<circle cx="402.0" cy="689.9" r="4" fill="#0072e4"/>
<circle cx="372.1" cy="689.9" r="4" fill="#ec0056"/>
<circle cx="359.9" cy="689.9" r="4" fill="#e80060"/>
<circle cx="390.8" cy="701.7" r="4" fill="#7246bf"/>
<circle cx="391.3" cy="689.9" r="4" fill="#006ee0"/>
<circle cx="440.8" cy="693.8" r="4" fill="#435dd4"/>
<circle cx="399.6" cy="689.9" r="4" fill="#de006d"/>
<circle cx="370.0" cy="685.9" r="4" fill="#7e3cb5"/>
<circle cx="454.4" cy="689.9" r="4" fill="#0081e9"/>
<circle cx="365.4" cy="693.8" r="4" fill="#df006b"/>
<circle cx="470.5" cy="693.8" r="4" fill="#e20067"/>
<circle cx="358.7" cy="693.8" r="4" fill="#007fe8"/>
<circle cx="402.9" cy="693.8" r="4" fill="#e20068"/>
<circle cx="367.8" cy="689.9" r="4" fill="#ed004b"/>
<circle cx="393.1" cy="705.7" r="4" fill="#e9005c"/>
<circle cx="363.3" cy="693.8" r="4" fill="#e40065"/>
<circle cx="422.4" cy="685.9" r="4" fill="#ed004b"/>
<circle cx="358.9" cy="689.9" r="4" fill="#9121a1"/>
<circle cx="413.4" cy="693.8" r="4" fill="#ed004b"/>
<circle cx="393.5" cy="693.8" r="4" fill="#ed0054"/>
<circle cx="381.4" cy="701.7" r="4" fill="#ea005a"/>
<circle cx="351.3" cy="693.8" r="4" fill="#ed0050"/>
<circle cx="419.6" cy="682.0" r="4" fill="#ed0052"/>
<circle cx="353.4" cy="693.8" r="4" fill="#db0071"/>
<circle cx="417.2" cy="697.8" r="4" fill="#ed004b"/>
<circle cx="420.3" cy="685.9" r="4" fill="#e70062"/>
<circle cx="368.6" cy="693.8" r="4" fill="#654ec6"/>
<circle cx="307.7" cy="693.8" r="4" fill="#0081e9"/>
<circle cx="401.7" cy="693.8" r="4" fill="#ed004b"/>
<circle cx="410.0" cy="697.8" r="4" fill="#ce007e"/>
<circle cx="426.0" cy="701.7" r="4" fill="#e40065"/>
<circle cx="413.0" cy="685.9" r="4" fill="#db0071"/>
<circle cx="389.7" cy="705.7" r="4" fill="#e80060"/>
<circle cx="397.8" cy="689.9" r="4" fill="#8d27a5"/>
<circle cx="474.8" cy="693.8" r="4" fill="#a31099"/>
<circle cx="375.6" cy="682.0" r="4" fill="#e30066"/>
<circle cx="435.4" cy="693.8" r="4" fill="#ed004b"/>
<circle cx="387.1" cy="689.9" r="4" fill="#0081e9"/>
<circle cx="387.6" cy="693.8" r="4" fill="#ed004c"/>
<circle cx="395.5" cy="689.9" r="4" fill="#d90074"/>
<circle cx="421.5" cy="701.7" r="4" fill="#e10069"/>
<circle cx="363.7" cy="689.9" r="4" fill="#007ee8"/>
<circle cx="448.9" cy="697.8" r="4" fill="#ed004b"/>
<circle cx="352.6" cy="689.9" r="4" fill="#eb0057"/>
<circle cx="376.0" cy="697.8" r="4" fill="#ed0051"/>
<circle cx="352.4" cy="697.8" r="4" fill="#b30091"/>
<circle cx="430.0" cy="693.8" r="4" fill="#ed0052"/>
<circle cx="318.4" cy="693.8" r="4" fill="#e1006a"/>
<circle cx="371.0" cy="693.8" r="4" fill="#cf007d"/>
<circle cx="443.3" cy="685.9" r="4" fill="#981b9e"/>
<circle cx="354.8" cy="689.9" r="4" fill="#cb0081"/>
<circle cx="417.5" cy="689.9" r="4" fill="#dd006f"/>
<circle cx="438.8" cy="685.9" r="4" fill="#ec0056"/>
<circle cx="396.9" cy="701.7" r="4" fill="#5656ce"/>
<circle cx="452.8" cy="693.8" r="4" fill="#006ee0"/>
<circle cx="490.9" cy="693.8" r="4" fill="#ed004b"/>
<circle cx="376.9" cy="689.9" r="4" fill="#d0007d"/>
<circle cx="400.4" cy="701.7" r="4" fill="#ea005a"/>
<circle cx="384.4" cy="701.7" r="4" fill="#b9008d"/>
<circle cx="414.3" cy="701.7" r="4" fill="#8c29a6"/>
<circle cx="390.8" cy="693.8" r="4" fill="#9f149b"/>
<circle cx="439.3" cy="689.9" r="4" fill="#cc007f"/>
<circle cx="431.6" cy="689.9" r="4" fill="#eb0057"/>
<circle cx="428.5" cy="689.9" r="4" fill="#ed004b"/>
<circle cx="442.2" cy="689.9" r="4" fill="#006ee1"/>
<circle cx="356.0" cy="693.8" r="4" fill="#0070e2"/>
<circle cx="445.8" cy="697.8" r="4" fill="#ed004b"/>
<circle cx="364.6" cy="689.9" r="4" fill="#9b189c"/>
<circle cx="378.9" cy="693.8" r="4" fill="#ed004b"/>
<circle cx="408.7" cy="693.8" r="4" fill="#c10089"/>
<circle cx="418.7" cy="693.8" r="4" fill="#7345be"/>
<circle cx="403.9" cy="682.0" r="4" fill="#e70062"/>
<circle cx="339.1" cy="693.8" r="4" fill="#0079e7"/>
<circle cx="372.4" cy="697.8" r="4" fill="#006fe1"/>
<circle cx="362.6" cy="685.9" r="4" fill="#9021a1"/>
<circle cx="406.0" cy="701.7" r="4" fill="#006ee1"/>
<circle cx="398.1" cy="685.9" r="4" fill="#e60063"/>
<circle cx="385.1" cy="689.9" r="4" fill="#e50064"/>
<circle cx="379.1" cy="689.9" r="4" fill="#ce007e"/>
<circle cx="374.6" cy="685.9" r="4" fill="#0077e6"/>
<circle cx="379.2" cy="701.7" r="4" fill="#ce007e"/>
<circle cx="396.1" cy="693.8" r="4" fill="#0078e6"/>
<circle cx="368.7" cy="682.0" r="4" fill="#007ee8"/>
<circle cx="420.9" cy="697.8" r="4" fill="#ba008d"/>
<circle cx="440.0" cy="697.8" r="4" fill="#2164da"/>
<circle cx="436.3" cy="697.8" r="4" fill="#3b60d6"/>
<circle cx="360.0" cy="697.8" r="4" fill="#654ec6"/>
<circle cx="411.3" cy="693.8" r="4" fill="#e30067"/>
<circle cx="424.5" cy="697.8" r="4" fill="#ed004b"/>
<circle cx="401.7" cy="697.8" r="4" fill="#ed004b"/>
<circle cx="388.5" cy="682.0" r="4" fill="#ed004f"/>
<circle cx="392.3" cy="678.0" r="4" fill="#8d25a4"/>
<circle cx="448.5" cy="689.9" r="4" fill="#ed004b"/>
<circle cx="376.4" cy="693.8" r="4" fill="#0076e5"/>
<circle cx="387.5" cy="697.8" r="4" fill="#ed004b"/>
<circle cx="364.6" cy="701.7" r="4" fill="#e10069"/>
<circle cx="367.3" cy="685.9" r="4" fill="#8c29a6"/>
<circle cx="411.5" cy="685.9" r="4" fill="#0081e9"/>
<circle cx="413.3" cy="689.9" r="4" fill="#a60b99"/>
<circle cx="394.6" cy="682.0" r="4" fill="#e0006b"/>
<circle cx="383.6" cy="685.9" r="4" fill="#7e3cb5"/>
<circle cx="396.0" cy="709.6" r="4" fill="#8f22a2"/>
<circle cx="384.9" cy="693.8" r="4" fill="#007fe8"/>
<circle cx="425.5" cy="685.9" r="4" fill="#7443bd"/>
<circle cx="392.7" cy="693.8" r="4" fill="#e9005c"/>
<circle cx="413.4" cy="697.8" r="4" fill="#0081e9"/>
<circle cx="437.8" cy="693.8" r="4" fill="#0071e3"/>
<circle cx="455.3" cy="693.8" r="4" fill="#d30079"/>
<circle cx="370.1" cy="701.7" r="4" fill="#664dc6"/>
<circle cx="403.3" cy="705.7" r="4" fill="#ed004b"/>
<circle cx="460.8" cy="693.8" r="4" fill="#d40078"/>
<circle cx="368.7" cy="697.8" r="4" fill="#99199d"/>
<circle cx="432.7" cy="693.8" r="4" fill="#e1006a"/>
<circle cx="394.6" cy="701.7" r="4" fill="#dc0070"/>
<circle cx="423.1" cy="693.8" r="4" fill="#ec0056"/>
<circle cx="467.2" cy="693.8" r="4" fill="#ed004b"/>
<circle cx="371.0" cy="682.0" r="4" fill="#664dc6"/>
<circle cx="445.8" cy="693.8" r="4" fill="#ed004b"/>
<circle cx="406.4" cy="697.8" r="4" fill="#ed004b"/>
<circle cx="425.6" cy="693.8" r="4" fill="#eb0058"/>
<circle cx="423.5" cy="701.7" r="4" fill="#a0139a"/>
<circle cx="451.2" cy="689.9" r="4" fill="#8e23a3"/>
<circle cx="360.3" cy="685.9" r="4" fill="#e9005d"/>
<circle cx="401.1" cy="705.7" r="4" fill="#ed004b"/>
<circle cx="355.8" cy="697.8" r="4" fill="#da0073"/>
<circle cx="369.2" cy="697.8" r="4" fill="#ed004b"/>
<circle cx="446.8" cy="689.9" r="4" fill="#e50064"/>
<circle cx="385.3" cy="685.9" r="4" fill="#ed004b"/>
<circle cx="450.3" cy="693.8" r="4" fill="#b20092"/>
<circle cx="416.0" cy="693.8" r="4" fill="#0080e9"/>
<circle cx="457.0" cy="689.9" r="4" fill="#9f149b"/>
<circle cx="397.2" cy="678.0" r="4" fill="#ed004b"/>
<circle cx="375.0" cy="701.7" r="4" fill="#0081e9"/>
<circle cx="375.5" cy="693.8" r="4" fill="#007ee8"/>
<circle cx="401.1" cy="682.0" r="4" fill="#5656ce"/>
<circle cx="463.2" cy="693.8" r="4" fill="#db0071"/>
<circle cx="398.1" cy="740.8" r="4" fill="#ec0056"/>
<circle cx="371.7" cy="748.7" r="4" fill="#ed004b"/>
<circle cx="382.5" cy="760.5" r="4" fill="#ed004d"/>
<circle cx="460.6" cy="748.7" r="4" fill="#d3007a"/>
<circle cx="430.5" cy="744.7" r="4" fill="#3a60d6"/>
<circle cx="412.2" cy="752.6" r="4" fill="#ed0050"/>
<circle cx="367.6" cy="740.8" r="4" fill="#ed004b"/>
<circle cx="294.7" cy="748.7" r="4" fill="#0081e9"/>
<circle cx="415.9" cy="740.8" r="4" fill="#0079e7"/>
<circle cx="402.5" cy="752.6" r="4" fill="#ed004b"/>
<circle cx="397.1" cy="732.9" r="4" fill="#ed004b"/>
<circle cx="416.8" cy="740.8" r="4" fill="#ed0053"/>
<circle cx="359.5" cy="748.7" r="4" fill="#b30092"/>
<circle cx="368.8" cy="756.6" r="4" fill="#0081e9"/>
<circle cx="368.0" cy="748.7" r="4" fill="#0078e7"/>
<circle cx="350.8" cy="748.7" r="4" fill="#d90073"/>
<circle cx="438.3" cy="744.7" r="4" fill="#e8005f"/>
<circle cx="342.5" cy="744.7" r="4" fill="#8335b0"/>
<circle cx="422.4" cy="748.7" r="4" fill="#a60b99"/>
<circle cx="390.5" cy="748.7" r="4" fill="#d30079"/>
<circle cx="379.9" cy="756.6" r="4" fill="#db0070"/>
<circle cx="370.4" cy="748.7" r="4" fill="#0081e9"/>
<circle cx="360.4" cy="740.8" r="4" fill="#7d3cb6"/>
<circle cx="441.7" cy="748.7" r="4" fill="#8731ad"/>
<circle cx="404.7" cy="744.7" r="4" fill="#be008b"/>
<circle cx="457.8" cy="748.7" r="4" fill="#e8005e"/>
<circle cx="426.9" cy="740.8" r="4" fill="#ed004b"/>
<circle cx="442.5" cy="752.6" r="4" fill="#b9008e"/>
<circle cx="437.3" cy="748.7" r="4" fill="#961d9f"/>
<circle cx="425.2" cy="752.6" r="4" fill="#006ee0"/>
<circle cx="410.8" cy="740.8" r="4" fill="#ed004b"/>
<circle cx="367.8" cy="756.6" r="4" fill="#3162d8"/>
<circle cx="380.1" cy="752.6" r="4" fill="#e8005d"/>
<circle cx="379.8" cy="760.5" r="4" fill="#0075e5"/>
<circle cx="392.8" cy="744.7" r="4" fill="#ed004b"/>
<circle cx="378.5" cy="736.8" r="4" fill="#6e49c1"/>
<circle cx="330.0" cy="748.7" r="4" fill="#ed004b"/>
<circle cx="410.2" cy="752.6" r="4" fill="#ed004b"/>
<circle cx="362.1" cy="748.7" r="4" fill="#006ddf"/>
<circle cx="409.5" cy="748.7" r="4" fill="#6b4ac3"/>
<circle cx="322.0" cy="748.7" r="4" fill="#ed004b"/>
<circle cx="434.7" cy="748.7" r="4" fill="#cd007f"/>
<circle cx="415.0" cy="736.8" r="4" fill="#ed004e"/>
<circle cx="358.0" cy="752.6" r="4" fill="#ce007e"/>
<circle cx="431.8" cy="748.7" r="4" fill="#ed004b"/>
<circle cx="361.9" cy="736.8" r="4" fill="#007ee8"/>
<circle cx="380.1" cy="740.8" r="4" fill="#6e49c1"/>
<circle cx="390.9" cy="736.8" r="4" fill="#df006c"/>
<circle cx="412.3" cy="740.8" r="4" fill="#ad0095"/>
<circle cx="385.8" cy="736.8" r="4" fill="#d60077"/>
<circle cx="422.2" cy="752.6" r="4" fill="#5c53cb"/>
<circle cx="385.2" cy="740.8" r="4" fill="#7841ba"/>
<circle cx="363.3" cy="752.6" r="4" fill="#e70061"/>
<circle cx="353.1" cy="756.6" r="4" fill="#b9008d"/>
<circle cx="348.1" cy="744.7" r="4" fill="#cd007f"/>
<circle cx="375.2" cy="748.7" r="4" fill="#bc008c"/>
<circle cx="397.4" cy="736.8" r="4" fill="#e40065"/>
<circle cx="386.0" cy="744.7" r="4" fill="#0081e9"/>
<circle cx="418.7" cy="744.7" r="4" fill="#007ee8"/>
<circle cx="379.1" cy="744.7" r="4" fill="#0073e4"/>
<circle cx="384.9" cy="752.6" r="4" fill="#ed004b"/>
<circle cx="342.8" cy="752.6" r="4" fill="#c30087"/>
<circle cx="408.2" cy="744.7" r="4" fill="#ed004b"/>
<circle cx="419.2" cy="748.7" r="4" fill="#006cdf"/>
<circle cx="430.9" cy="752.6" r="4" fill="#de006d"/>
<circle cx="388.8" cy="756.6" r="4" fill="#7c3db7"/>
<circle cx="390.6" cy="744.7" r="4" fill="#0079e7"/>
<circle cx="266.7" cy="748.7" r="4" fill="#0081e9"/>
<circle cx="373.7" cy="740.8" r="4" fill="#e20068"/>
<circle cx="437.9" cy="752.6" r="4" fill="#ed004b"/>
<circle cx="337.4" cy="744.7" r="4" fill="#6b4ac3"/>
<circle cx="355.0" cy="752.6" r="4" fill="#0081e9"/>
<circle cx="395.9" cy="756.6" r="4" fill="#c10089"/>
<circle cx="381.3" cy="744.7" r="4" fill="#df006c"/>
<circle cx="402.9" cy="744.7" r="4" fill="#bd008c"/>
<circle cx="355.4" cy="740.8" r="4" fill="#c40086"/>
<circle cx="338.9" cy="748.7" r="4" fill="#a1139a"/>
<circle cx="428.3" cy="752.6" r="4" fill="#ed004b"/>
<circle cx="356.5" cy="744.7" r="4" fill="#9c179c"/>
<circle cx="347.3" cy="748.7" r="4" fill="#d70075"/>
<circle cx="421.8" cy="740.8" r="4" fill="#8237b2"/>
<circle cx="367.9" cy="744.7" r="4" fill="#ed004b"/>
<circle cx="405.9" cy="740.8" r="4" fill="#0081e9"/>
<circle cx="428.0" cy="736.8" r="4" fill="#ed004b"/>
<circle cx="399.7" cy="732.9" r="4" fill="#0081e9"/>
<circle cx="344.3" cy="748.7" r="4" fill="#0081e9"/>
<circle cx="346.3" cy="744.7" r="4" fill="#ed004b"/>
<circle cx="395.3" cy="736.8" r="4" fill="#d90073"/>
<circle cx="353.9" cy="752.6" r="4" fill="#ec0056"/>
<circle cx="431.2" cy="744.7" r="4" fill="#e0006a"/>
<circle cx="444.3" cy="740.8" r="4" fill="#0081e9"/>
<circle cx="464.7" cy="748.7" r="4" fill="#d0007c"/>
<circle cx="361.7" cy="744.7" r="4" fill="#007be8"/>
<circle cx="412.9" cy="748.7" r="4" fill="#dc0070"/>
<circle cx="393.5" cy="740.8" r="4" fill="#ce007e"/>
<circle cx="454.0" cy="752.6" r="4" fill="#ed0055"/>
<circle cx="354.2" cy="748.7" r="4" fill="#674cc5"/>
<circle cx="365.8" cy="748.7" r="4" fill="#0074e4"/>
<circle cx="350.8" cy="752.6" r="4" fill="#0069dd"/>
<circle cx="450.9" cy="748.7" r="4" fill="#1765db"/>
<circle cx="389.7" cy="744.7" r="4" fill="#7f3ab3"/>
<circle cx="384.7" cy="740.8" r="4" fill="#ed004b"/>
<circle cx="402.2" cy="748.7" r="4" fill="#0081e9"/>
<circle cx="447.5" cy="748.7" r="4" fill="#d40078"/>
<circle cx="407.7" cy="752.6" r="4" fill="#ed004b"/>
<circle cx="340.4" cy="748.7" r="4" fill="#0075e5"/>
<circle cx="367.7" cy="736.8" r="4" fill="#ed004b"/>
<circle cx="359.6" cy="744.7" r="4" fill="#e8005f"/>
<circle cx="423.2" cy="744.7" r="4" fill="#d90074"/>
<circle cx="398.3" cy="748.7" r="4" fill="#0069dd"/>
<circle cx="396.5" cy="764.5" r="4" fill="#db0071"/>
<circle cx="419.6" cy="752.6" r="4" fill="#7e3cb5"/>
<circle cx="372.5" cy="744.7" r="4" fill="#0081e9"/>
<circle cx="373.4" cy="744.7" r="4" fill="#e30067"/>
<circle cx="380.6" cy="736.8" r="4" fill="#ed004b"/>
<circle cx="365.5" cy="744.7" r="4" fill="#007ae7"/>
<circle cx="383.0" cy="744.7" r="4" fill="#8a2ca8"/>
<circle cx="404.3" cy="740.8" r="4" fill="#8b2ba8"/>
<circle cx="464.2" cy="748.7" r="4" fill="#e8005d"/>
<circle cx="454.8" cy="748.7" r="4" fill="#ed0051"/>
<circle cx="383.9" cy="736.8" r="4" fill="#8434af"/>
<circle cx="426.3" cy="744.7" r="4" fill="#0081e9"/>
<circle cx="426.8" cy="756.6" r="4" fill="#0081e9"/>
<circle cx="419.2" cy="744.7" r="4" fill="#ed004b"/>
<circle cx="390.6" cy="756.6" r="4" fill="#007ee8"/>
<circle cx="364.2" cy="740.8" r="4" fill="#ed004b"/>
<circle cx="399.9" cy="760.5" r="4" fill="#8c28a6"/>
<circle cx="351.7" cy="744.7" r="4" fill="#ed004b"/>
<circle cx="369.0" cy="736.8" r="4" fill="#8c29a6"/>
<circle cx="401.6" cy="748.7" r="4" fill="#d60077"/>
<circle cx="452.8" cy="748.7" r="4" fill="#ed004b"/>
<circle cx="365.2" cy="756.6" r="4" fill="#a60a98"/>
<circle cx="357.7" cy="748.7" r="4" fill="#a70798"/>
<circle cx="352.5" cy="740.8" r="4" fill="#ed004b"/>
<circle cx="377.6" cy="736.8" r="4" fill="#ed004b"/>
<circle cx="387.8" cy="740.8" r="4" fill="#e8005e"/>
<circle cx="425.4" cy="744.7" r="4" fill="#ed004b"/>
<circle cx="408.2" cy="756.6" r="4" fill="#5955cd"/>
<circle cx="458.9" cy="744.7" r="4" fill="#d50077"/>
<circle cx="388.0" cy="736.8" r="4" fill="#9021a1"/>
<circle cx="382.1" cy="756.6" r="4" fill="#3f5ed5"/>
<circle cx="419.8" cy="756.6" r="4" fill="#006fe1"/>
<circle cx="391.8" cy="740.8" r="4" fill="#7741bb"/>
<circle cx="424.3" cy="740.8" r="4" fill="#b7008f"/>
<circle cx="387.7" cy="752.6" r="4" fill="#c50085"/>
<circle cx="387.6" cy="760.5" r="4" fill="#ed0053"/>
<circle cx="409.7" cy="744.7" r="4" fill="#8c29a6"/>
<circle cx="382.7" cy="748.7" r="4" fill="#ed0053"/>
<circle cx="371.1" cy="752.6" r="4" fill="#3c5fd6"/>
<circle cx="392.5" cy="752.6" r="4" fill="#0a66db"/>
<circle cx="400.9" cy="736.8" r="4" fill="#0081e9"/>
<circle cx="442.8" cy="744.7" r="4" fill="#d1007b"/>
<circle cx="403.0" cy="756.6" r="4" fill="#ed004b"/>
<circle cx="392.4" cy="736.8" r="4" fill="#3860d7"/>
<circle cx="380.5" cy="740.8" r="4" fill="#e40065"/>
<circle cx="353.9" cy="748.7" r="4" fill="#006cdf"/>
<circle cx="417.0" cy="736.8" r="4" fill="#cf007d"/>
<circle cx="395.6" cy="760.5" r="4" fill="#b40090"/>
<circle cx="396.6" cy="752.6" r="4" fill="#415dd4"/>
<circle cx="385.0" cy="748.7" r="4" fill="#ed004b"/>
<circle cx="346.1" cy="752.6" r="4" fill="#b8008e"/>
<circle cx="404.8" cy="748.7" r="4" fill="#ed004b"/>
<circle cx="376.0" cy="748.7" r="4" fill="#ed004b"/>
<circle cx="394.7" cy="732.9" r="4" fill="#8b2ba8"/>
<circle cx="443.1" cy="752.6" r="4" fill="#ed004b"/>
<circle cx="388.0" cy="732.9" r="4" fill="#0081e9"/>
<circle cx="386.5" cy="752.6" r="4" fill="#ed004b"/>
<circle cx="350.6" cy="744.7" r="4" fill="#ed004b"/>
<circle cx="369.0" cy="744.7" r="4" fill="#ed004b"/>
<circle cx="415.8" cy="748.7" r="4" fill="#ed004b"/>
<circle cx="405.5" cy="752.6" r="4" fill="#9d169c"/>
<circle cx="399.2" cy="752.6" r="4" fill="#0081e9"/>
<circle cx="367.9" cy="752.6" r="4" fill="#0081e9"/>
<circle cx="414.9" cy="756.6" r="4" fill="#a0139a"/>
<circle cx="393.6" cy="748.7" r="4" fill="#eb0058"/>
<circle cx="424.0" cy="748.7" r="4" fill="#eb0057"/>
<circle cx="386.0" cy="748.7" r="4" fill="#971c9e"/>
<circle cx="395.1" cy="740.8" r="4" fill="#ed004b"/>
<circle cx="469.0" cy="748.7" r="4" fill="#3f5ed5"/>
<circle cx="415.7" cy="744.7" r="4" fill="#8237b2"/>
<circle cx="346.6" cy="748.7" r="4" fill="#ed004b"/>
<circle cx="393.5" cy="756.6" r="4" fill="#e40065"/>
<circle cx="401.4" cy="756.6" r="4" fill="#dc0070"/>
<circle cx="386.1" cy="732.9" r="4" fill="#8236b1"/>
<circle cx="438.3" cy="748.7" r="4" fill="#e70061"/>
<circle cx="450.0" cy="744.7" r="4" fill="#eb0058"/>
<circle cx="360.4" cy="752.6" r="4" fill="#007be8"/>
<circle cx="400.3" cy="752.6" r="4" fill="#8b2ba7"/>
<circle cx="395.7" cy="748.7" r="4" fill="#ed004d"/>
<circle cx="443.5" cy="744.7" r="4" fill="#3661d7"/>
<circle cx="373.9" cy="752.6" r="4" fill="#ec0056"/>
<circle cx="433.3" cy="744.7" r="4" fill="#e9005c"/>
<circle cx="370.6" cy="752.6" r="4" fill="#3d5fd5"/>
<circle cx="401.8" cy="740.8" r="4" fill="#e8005d"/>
<circle cx="383.6" cy="756.6" r="4" fill="#0069dd"/>
<circle cx="386.8" cy="756.6" r="4" fill="#ed0051"/>
<circle cx="389.5" cy="748.7" r="4" fill="#cc007f"/>
<circle cx="408.7" cy="748.7" r="4" fill="#ed004b"/>
<circle cx="447.7" cy="748.7" r="4" fill="#8138b3"/>
<circle cx="375.7" cy="756.6" r="4" fill="#ed0050"/>
<circle cx="426.9" cy="748.7" r="4" fill="#bb008c"/>
<circle cx="404.1" cy="736.8" r="4" fill="#df006c"/>
<circle cx="390.2" cy="732.9" r="4" fill="#0081e9"/>
<circle cx="360.6" cy="756.6" r="4" fill="#ed004b"/>
<circle cx="396.6" cy="744.7" r="4" fill="#ed004b"/>
<circle cx="363.4" cy="756.6" r="4" fill="#ed0051"/>
<circle cx="354.5" cy="744.7" r="4" fill="#7e3cb5"/>
<circle cx="392.1" cy="760.5" r="4" fill="#007ee8"/>
<circle cx="362.7" cy="740.8" r="4" fill="#ec0056"/>
<circle cx="410.1" cy="756.6" r="4" fill="#ed004f"/>
<circle cx="392.4" cy="752.6" r="4" fill="#6c4ac3"/>
<circle cx="377.9" cy="752.6" r="4" fill="#0081e9"/>
<circle cx="418.7" cy="752.6" r="4" fill="#ed004b"/>
<circle cx="430.8" cy="748.7" r="4" fill="#006ee0"/>
<circle cx="394.6" cy="760.5" r="4" fill="#d40078"/>
<circle cx="409.6" cy="736.8" r="4" fill="#5a54cc"/>
<circle cx="420.4" cy="740.8" r="4" fill="#006de0"/>
<circle cx="397.7" cy="744.7" r="4" fill="#d50077"/>
<circle cx="432.7" cy="740.8" r="4" fill="#ed004b"/>
<circle cx="407.9" cy="740.8" r="4" fill="#8b2ca8"/>
<circle cx="402.8" cy="760.5" r="4" fill="#ed004b"/>
<circle cx="454.0" cy="744.7" r="4" fill="#ed004e"/>
<circle cx="443.4" cy="748.7" r="4" fill="#e10069"/>
<circle cx="436.0" cy="744.7" r="4" fill="#df006c"/>
<circle cx="380.5" cy="752.6" r="4" fill="#8a2ca8"/>
<circle cx="369.5" cy="740.8" r="4" fill="#e9005c"/>
<circle cx="398.7" cy="756.6" r="4" fill="#0081e9"/>
<circle cx="416.8" cy="756.6" r="4" fill="#ed004b"/>
<circle cx="379.8" cy="748.7" r="4" fill="#d1007c"/>
<circle cx="400.2" cy="744.7" r="4" fill="#d40078"/>
<circle cx="385.7" cy="760.5" r="4" fill="#7147c0"/>
<circle cx="376.6" cy="740.8" r="4" fill="#e40065"/>
<circle cx="326.0" cy="748.7" r="4" fill="#ed004b"/>
<circle cx="413.1" cy="744.7" r="4" fill="#e0006b"/>
<circle cx="390.3" cy="764.5" r="4" fill="#e9005c"/>
<circle cx="376.2" cy="744.7" r="4" fill="#006ade"/>
<circle cx="414.6" cy="752.6" r="4" fill="#c20087"/>
<circle cx="417.6" cy="748.7" r="4" fill="#634fc8"/>
<circle cx="365.4" cy="752.6" r="4" fill="#0080e9"/>
<circle cx="460.3" cy="744.7" r="4" fill="#8c29a6"/>
<circle cx="422.5" cy="756.6" r="4" fill="#ce007e"/>
<circle cx="423.4" cy="799.6" r="4" fill="#0072e3"/>
<circle cx="393.0" cy="811.4" r="4" fill="#0070e2"/>
<circle cx="351.4" cy="803.5" r="4" fill="#941ea0"/>
<circle cx="407.9" cy="811.4" r="4" fill="#0081e9"/>
<circle cx="466.6" cy="803.5" r="4" fill="#3860d6"/>
<circle cx="454.9" cy="803.5" r="4" fill="#ae0095"/>
<circle cx="461.6" cy="807.5" r="4" fill="#5556ce"/>
<circle cx="388.9" cy="799.6" r="4" fill="#e8005f"/>
<circle cx="395.5" cy="791.7" r="4" fill="#793fb9"/>
<circle cx="408.1" cy="819.3" r="4" fill="#5556ce"/>
<circle cx="429.1" cy="811.4" r="4" fill="#0070e2"/>
<circle cx="401.2" cy="811.4" r="4" fill="#8533ae"/>
<circle cx="397.1" cy="803.5" r="4" fill="#ed004b"/>
<circle cx="355.5" cy="803.5" r="4" fill="#de006d"/>
<circle cx="379.3" cy="799.6" r="4" fill="#3c5fd6"/>
<circle cx="426.6" cy="807.5" r="4" fill="#8f22a2"/>
<circle cx="403.7" cy="815.4" r="4" fill="#0080e8"/>
<circle cx="415.2" cy="811.4" r="4" fill="#0081e9"/>
<circle cx="426.7" cy="799.6" r="4" fill="#8a2ca8"/>
<circle cx="382.6" cy="807.5" r="4" fill="#674cc5"/>
<circle cx="381.8" cy="807.5" r="4" fill="#ed004b"/>
<circle cx="444.4" cy="803.5" r="4" fill="#0081e9"/>
<circle cx="388.2" cy="807.5" r="4" fill="#e50064"/>
<circle cx="411.5" cy="803.5" r="4" fill="#8b2ca8"/>
<circle cx="412.8" cy="807.5" r="4" fill="#9e159b"/>
<circle cx="403.4" cy="803.5" r="4" fill="#0081e9"/>
<circle cx="382.1" cy="799.6" r="4" fill="#0081e9"/>
<circle cx="400.3" cy="799.6" r="4" fill="#a40e99"/>
<circle cx="405.2" cy="787.7" r="4" fill="#5b54cc"/>
<circle cx="341.4" cy="807.5" r="4" fill="#ed0051"/>
<circle cx="396.8" cy="799.6" r="4" fill="#8f22a2"/>
<circle cx="384.5" cy="807.5" r="4" fill="#7146c0"/>
<circle cx="421.0" cy="803.5" r="4" fill="#e8005e"/>
<circle cx="462.7" cy="799.6" r="4" fill="#d0007d"/>
<circle cx="409.6" cy="815.4" r="4" fill="#0081e9"/>
<circle cx="462.6" cy="803.5" r="4" fill="#b10093"/>
<circle cx="432.9" cy="799.6" r="4" fill="#e0006b"/>
<circle cx="409.3" cy="791.7" r="4" fill="#0077e6"/>
<circle cx="343.3" cy="799.6" r="4" fill="#ed004b"/>
<circle cx="316.3" cy="800.5" r="4" fill="#ed004b"/>
<circle cx="406.9" cy="795.6" r="4" fill="#db0071"/>
<circle cx="401.0" cy="795.6" r="4" fill="#0081e9"/>
<circle cx="327.9" cy="799.6" r="4" fill="#cb0081"/>
<circle cx="437.6" cy="803.5" r="4" fill="#7840ba"/>
<circle cx="408.0" cy="791.7" r="4" fill="#ed004b"/>
<circle cx="413.5" cy="807.5" r="4" fill="#ed004b"/>
<circle cx="324.4" cy="803.5" r="4" fill="#006fe1"/>
<circle cx="423.7" cy="803.5" r="4" fill="#cd007f"/>
<circle cx="427.9" cy="803.5" r="4" fill="#0081e9"/>
<circle cx="426.6" cy="803.5" r="4" fill="#e50064"/>
<circle cx="380.1" cy="803.5" r="4" fill="#0081e9"/>
<circle cx="411.8" cy="791.7" r="4" fill="#eb0058"/>
<circle cx="393.7" cy="795.6" r="4" fill="#e80060"/>
<circle cx="412.9" cy="795.6" r="4" fill="#5955cd"/>
<circle cx="374.6" cy="791.7" r="4" fill="#ed004b"/>
<circle cx="404.7" cy="807.5" r="4" fill="#e60063"/>
<circle cx="408.7" cy="811.4" r="4" fill="#3c5fd5"/>
<circle cx="341.2" cy="803.5" r="4" fill="#ed004b"/>
<circle cx="412.3" cy="815.4" r="4" fill="#ac0095"/>
<circle cx="415.8" cy="803.5" r="4" fill="#e20068"/>
<circle cx="394.7" cy="799.6" r="4" fill="#435dd4"/>
<circle cx="395.5" cy="787.7" r="4" fill="#ae0095"/>
<circle cx="459.5" cy="803.5" r="4" fill="#ed004b"/>
<circle cx="417.2" cy="807.5" r="4" fill="#a80797"/>
<circle cx="452.9" cy="803.5" r="4" fill="#ce007e"/>
<circle cx="346.0" cy="803.5" r="4" fill="#8c29a6"/>
<circle cx="354.1" cy="803.5" r="4" fill="#e8005f"/>
<circle cx="327.4" cy="803.5" r="4" fill="#a50e99"/>
<circle cx="340.4" cy="799.6" r="4" fill="#7642bc"/>
<circle cx="357.6" cy="799.6" r="4" fill="#ed004b"/>
<circle cx="367.8" cy="799.6" r="4" fill="#a2129a"/>
<circle cx="406.4" cy="815.4" r="4" fill="#ad0095"/>
<circle cx="421.1" cy="799.6" r="4" fill="#ed004b"/>
<circle cx="413.9" cy="803.5" r="4" fill="#ed004b"/>
<circle cx="442.2" cy="799.6" r="4" fill="#df006c"/>
<circle cx="395.7" cy="811.4" r="4" fill="#ed0053"/>
<circle cx="373.1" cy="807.5" r="4" fill="#7642bc"/>
<circle cx="433.5" cy="803.5" r="4" fill="#c30087"/>
<circle cx="426.2" cy="795.6" r="4" fill="#ed004b"/>
<circle cx="384.3" cy="811.4" r="4" fill="#0071e2"/>
<circle cx="458.7" cy="807.5" r="4" fill="#9b189d"/>
<circle cx="407.0" cy="807.5" r="4" fill="#cd007f"/>
<circle cx="400.5" cy="791.7" r="4" fill="#d80074"/>
<circle cx="374.4" cy="799.6" r="4" fill="#0767db"/>
<circle cx="396.8" cy="791.7" r="4" fill="#0081e9"/>
<circle cx="417.8" cy="799.6" r="4" fill="#b9008d"/>
<circle cx="406.8" cy="799.6" r="4" fill="#1f64db"/>
<circle cx="316.3" cy="805.0" r="4" fill="#ed004b"/>
<circle cx="371.6" cy="799.6" r="4" fill="#0081e9"/>
<circle cx="391.7" cy="799.6" r="4" fill="#5c53cb"/>
<circle cx="375.7" cy="799.6" r="4" fill="#8c28a6"/>
<circle cx="375.0" cy="811.4" r="4" fill="#0078e6"/>
<circle cx="383.4" cy="811.4" r="4" fill="#a80697"/>
<circle cx="380.9" cy="799.6" r="4" fill="#0081e9"/>
<circle cx="384.7" cy="803.5" r="4" fill="#006cdf"/>
<circle cx="430.2" cy="807.5" r="4" fill="#a1139a"/>
<circle cx="394.6" cy="807.5" r="4" fill="#006fe1"/>
<circle cx="389.4" cy="799.6" r="4" fill="#0081e9"/>
<circle cx="377.5" cy="803.5" r="4" fill="#db0071"/>
<circle cx="428.6" cy="795.6" r="4" fill="#0081e9"/>
<circle cx="457.9" cy="799.6" r="4" fill="#7245be"/>
<circle cx="387.3" cy="795.6" r="4" fill="#6d49c2"/>
<circle cx="350.0" cy="799.6" r="4" fill="#0081e9"/>
<circle cx="431.4" cy="795.6" r="4" fill="#8039b3"/>
<circle cx="428.3" cy="799.6" r="4" fill="#684cc5"/>
<circle cx="381.9" cy="803.5" r="4" fill="#e70061"/>
<circle cx="422.3" cy="807.5" r="4" fill="#ed004b"/>
<circle cx="438.0" cy="799.6" r="4" fill="#b8008e"/>
<circle cx="398.5" cy="795.6" r="4" fill="#2e63d8"/>
<circle cx="374.3" cy="795.6" r="4" fill="#9220a0"/>
<circle cx="417.4" cy="799.6" r="4" fill="#3262d8"/>
<circle cx="367.1" cy="799.6" r="4" fill="#9a199d"/>
<circle cx="403.6" cy="795.6" r="4" fill="#ed004b"/>
<circle cx="404.8" cy="803.5" r="4" fill="#dc0070"/>
<circle cx="337.7" cy="803.5" r="4" fill="#e30067"/>
<circle cx="393.8" cy="803.5" r="4" fill="#0081e9"/>
<circle cx="398.2" cy="811.4" r="4" fill="#eb0057"/>
<circle cx="405.4" cy="819.3" r="4" fill="#af0094"/>
<circle cx="413.3" cy="795.6" r="4" fill="#d1007b"/>
<circle cx="400.1" cy="787.7" r="4" fill="#8237b2"/>
<circle cx="418.3" cy="795.6" r="4" fill="#0081e9"/>
<circle cx="494.3" cy="803.5" r="4" fill="#ae0095"/>
<circle cx="419.4" cy="811.4" r="4" fill="#0068dd"/>
<circle cx="406.3" cy="787.7" r="4" fill="#007ee8"/>
<circle cx="390.8" cy="811.4" r="4" fill="#ca0081"/>
<circle cx="373.4" cy="803.5" r="4" fill="#c10089"/>
<circle cx="400.5" cy="815.4" r="4" fill="#5e52ca"/>
<circle cx="346.0" cy="799.6" r="4" fill="#8e25a4"/>
<circle cx="414.1" cy="799.6" r="4" fill="#0081e9"/>
<circle cx="464.2" cy="803.5" r="4" fill="#ed004b"/>
<circle cx="408.3" cy="803.5" r="4" fill="#a60c99"/>
<circle cx="409.0" cy="807.5" r="4" fill="#ec0056"/>
<circle cx="439.8" cy="803.5" r="4" fill="#0071e3"/>
<circle cx="419.8" cy="803.5" r="4" fill="#8f22a2"/>
<circle cx="399.2" cy="803.5" r="4" fill="#5e52ca"/>
<circle cx="401.8" cy="799.6" r="4" fill="#b50090"/>
<circle cx="435.8" cy="803.5" r="4" fill="#0081e9"/>
<circle cx="367.0" cy="807.5" r="4" fill="#e30066"/>
<circle cx="418.1" cy="807.5" r="4" fill="#7e3bb5"/>
<circle cx="405.2" cy="791.7" r="4" fill="#8434af"/>
<circle cx="431.7" cy="799.6" r="4" fill="#bd008c"/>
<circle cx="442.7" cy="803.5" r="4" fill="#d30079"/>
<circle cx="426.9" cy="811.4" r="4" fill="#0081e9"/>
<circle cx="369.4" cy="807.5" r="4" fill="#0074e5"/>
<circle cx="374.9" cy="803.5" r="4" fill="#d2007b"/>
<circle cx="408.7" cy="795.6" r="4" fill="#ea005a"/>
<circle cx="374.7" cy="795.6" r="4" fill="#0081e9"/>
<circle cx="400.0" cy="807.5" r="4" fill="#cb0081"/>
<circle cx="391.6" cy="815.4" r="4" fill="#0081e9"/>
<circle cx="367.5" cy="803.5" r="4" fill="#8237b2"/>
<circle cx="413.0" cy="811.4" r="4" fill="#a90497"/>
<circle cx="383.5" cy="795.6" r="4" fill="#0081e9"/>
<circle cx="438.1" cy="807.5" r="4" fill="#c20088"/>
<circle cx="389.9" cy="807.5" r="4" fill="#0081e9"/>
<circle cx="404.0" cy="811.4" r="4" fill="#b9008e"/>
<circle cx="407.8" cy="803.5" r="4" fill="#6a4ac3"/>
<circle cx="458.0" cy="803.5" r="4" fill="#971c9e"/>
<circle cx="329.0" cy="803.5" r="4" fill="#cf007d"/>
<circle cx="397.5" cy="807.5" r="4" fill="#0081e9"/>
<circle cx="336.2" cy="799.6" r="4" fill="#ed004b"/>
<circle cx="379.3" cy="795.6" r="4" fill="#a1129a"/>
<circle cx="444.2" cy="795.6" r="4" fill="#0078e6"/>
<circle cx="339.5" cy="803.5" r="4" fill="#ce007e"/>
<circle cx="473.0" cy="803.5" r="4" fill="#7b3eb8"/>
<circle cx="410.3" cy="799.6" r="4" fill="#931fa0"/>
<circle cx="430.4" cy="803.5" r="4" fill="#3362d7"/>
<circle cx="399.5" cy="795.6" r="4" fill="#961d9f"/>
<circle cx="393.5" cy="807.5" r="4" fill="#ed004b"/>
<circle cx="359.4" cy="803.5" r="4" fill="#0081e9"/>
<circle cx="370.3" cy="803.5" r="4" fill="#0081e9"/>
<circle cx="393.8" cy="803.5" r="4" fill="#3b5fd6"/>
<circle cx="447.6" cy="803.5" r="4" fill="#7245bf"/>
<circle cx="388.2" cy="803.5" r="4" fill="#6d49c2"/>
<circle cx="345.4" cy="803.5" r="4" fill="#7543bc"/>
<circle cx="348.5" cy="803.5" r="4" fill="#ec0056"/>
<circle cx="401.5" cy="807.5" r="4" fill="#7146c0"/>
<circle cx="385.0" cy="799.6" r="4" fill="#e8005e"/>
<circle cx="385.9" cy="795.6" r="4" fill="#0081e9"/>
<circle cx="449.3" cy="803.5" r="4" fill="#e9005c"/>
<circle cx="361.3" cy="799.6" r="4" fill="#a31099"/>
<circle cx="348.2" cy="807.5" r="4" fill="#e8005f"/>
<circle cx="443.0" cy="807.5" r="4" fill="#007de8"/>
<circle cx="393.1" cy="791.7" r="4" fill="#7940b9"/>
<circle cx="333.8" cy="803.5" r="4" fill="#c20088"/>
<circle cx="439.4" cy="795.6" r="4" fill="#ed004b"/>
<circle cx="360.5" cy="803.5" r="4" fill="#0071e2"/>
<circle cx="390.1" cy="803.5" r="4" fill="#ed004b"/>
<circle cx="404.9" cy="799.6" r="4" fill="#c10088"/>
<circle cx="365.5" cy="803.5" r="4" fill="#e8005f"/>
<circle cx="394.6" cy="815.4" r="4" fill="#db0071"/>
<circle cx="370.4" cy="807.5" r="4" fill="#ed004b"/>
<circle cx="378.6" cy="807.5" r="4" fill="#c10089"/>
<circle cx="347.8" cy="807.5" r="4" fill="#e9005d"/>
<circle cx="400.7" cy="819.3" r="4" fill="#007ae7"/>
<circle cx="479.5" cy="803.5" r="4" fill="#7b3eb8"/>
<circle cx="429.4" cy="807.5" r="4" fill="#0077e6"/>
<circle cx="412.6" cy="787.7" r="4" fill="#3f5ed5"/>
<circle cx="400.1" cy="811.4" r="4" fill="#cf007d"/>
<circle cx="364.8" cy="803.5" r="4" fill="#ac0095"/>
<circle cx="395.2" cy="795.6" r="4" fill="#7642bc"/>
<circle cx="389.7" cy="795.6" r="4" fill="#ed004b"/>
<circle cx="377.0" cy="807.5" r="4" fill="#0e66db"/>
<circle cx="334.1" cy="803.5" r="4" fill="#ed004b"/>
<circle cx="411.9" cy="799.6" r="4" fill="#006add"/>
<circle cx="459.3" cy="799.6" r="4" fill="#0069dd"/>
<circle cx="411.0" cy="862.3" r="4" fill="#b8008e"/>
<circle cx="375.7" cy="850.5" r="4" fill="#b10093"/>
<circle cx="435.2" cy="858.4" r="4" fill="#d90073"/>
<circle cx="389.0" cy="866.3" r="4" fill="#0075e5"/>
<circle cx="351.2" cy="862.3" r="4" fill="#a60a98"/>
<circle cx="396.5" cy="850.5" r="4" fill="#ab0296"/>
<circle cx="458.2" cy="858.4" r="4" fill="#5a54cc"/>
<circle cx="367.6" cy="866.3" r="4" fill="#634fc8"/>
<circle cx="392.7" cy="858.4" r="4" fill="#ed004b"/>
<circle cx="401.4" cy="842.6" r="4" fill="#eb0058"/>
<circle cx="394.3" cy="846.5" r="4" fill="#7444bd"/>
<circle cx="446.1" cy="858.4" r="4" fill="#ed004b"/>
<circle cx="386.7" cy="858.4" r="4" fill="#2264da"/>
<circle cx="348.9" cy="858.4" r="4" fill="#5e52ca"/>
<circle cx="363.6" cy="862.3" r="4" fill="#8038b3"/>
<circle cx="404.0" cy="858.4" r="4" fill="#0078e6"/>
<circle cx="411.4" cy="866.3" r="4" fill="#5a54cc"/>
<circle cx="376.0" cy="858.4" r="4" fill="#0081e9"/>
<circle cx="336.5" cy="858.4" r="4" fill="#d90073"/>
<circle cx="385.1" cy="862.3" r="4" fill="#882eaa"/>
<circle cx="407.3" cy="850.5" r="4" fill="#006ade"/>
<circle cx="377.4" cy="866.3" r="4" fill="#1665db"/>
<circle cx="361.5" cy="854.4" r="4" fill="#664dc5"/>
<circle cx="346.7" cy="854.4" r="4" fill="#d3007a"/>
<circle cx="419.9" cy="866.3" r="4" fill="#3f5ed5"/>
<circle cx="365.9" cy="850.5" r="4" fill="#991a9e"/>
<circle cx="383.8" cy="850.5" r="4" fill="#ed004b"/>
<circle cx="445.8" cy="858.4" r="4" fill="#a50c99"/>
<circle cx="367.7" cy="862.3" r="4" fill="#991a9e"/>
<circle cx="414.5" cy="866.3" r="4" fill="#c30087"/>
<circle cx="398.0" cy="870.2" r="4" fill="#da0072"/>
<circle cx="388.6" cy="854.4" r="4" fill="#ae0094"/>
<circle cx="427.8" cy="862.3" r="4" fill="#7147c0"/>
<circle cx="384.9" cy="854.4" r="4" fill="#ed0050"/>
<circle cx="353.0" cy="858.4" r="4" fill="#2164da"/>
<circle cx="381.4" cy="858.4" r="4" fill="#0081e9"/>
<circle cx="414.0" cy="870.2" r="4" fill="#eb0057"/>
<circle cx="422.6" cy="862.3" r="4" fill="#882fab"/>
<circle cx="386.7" cy="854.4" r="4" fill="#6c49c2"/>
<circle cx="418.4" cy="854.4" r="4" fill="#6e49c1"/>
<circle cx="464.4" cy="858.4" r="4" fill="#0081e9"/>
<circle cx="352.7" cy="854.4" r="4" fill="#c50085"/>
<circle cx="376.9" cy="858.4" r="4" fill="#b30091"/>
<circle cx="372.6" cy="866.3" r="4" fill="#006ade"/>
<circle cx="409.9" cy="854.4" r="4" fill="#0081e9"/>
<circle cx="371.0" cy="862.3" r="4" fill="#654ec6"/>
<circle cx="371.9" cy="862.3" r="4" fill="#0081e9"/>
<circle cx="448.5" cy="858.4" r="4" fill="#0076e5"/>
<circle cx="391.4" cy="846.5" r="4" fill="#ce007e"/>
<circle cx="391.8" cy="842.6" r="4" fill="#d90073"/>
<circle cx="413.5" cy="846.5" r="4" fill="#8b2ba8"/>
<circle cx="391.5" cy="870.2" r="4" fill="#7940ba"/>
<circle cx="431.3" cy="854.4" r="4" fill="#2664da"/>
<circle cx="433.8" cy="854.4" r="4" fill="#ed004b"/>
<circle cx="453.6" cy="858.4" r="4" fill="#ed004b"/>
<circle cx="419.5" cy="858.4" r="4" fill="#6051ca"/>
<circle cx="386.9" cy="846.5" r="4" fill="#bd008c"/>
<circle cx="400.1" cy="858.4" r="4" fill="#3b60d6"/>
<circle cx="424.0" cy="858.4" r="4" fill="#ec0056"/>
<circle cx="376.4" cy="870.2" r="4" fill="#0070e2"/>
<circle cx="368.2" cy="858.4" r="4" fill="#bf008a"/>
<circle cx="392.1" cy="862.3" r="4" fill="#0081e9"/>
<circle cx="359.5" cy="858.4" r="4" fill="#0070e2"/>
<circle cx="366.0" cy="854.4" r="4" fill="#0077e6"/>
<circle cx="377.2" cy="854.4" r="4" fill="#6c49c2"/>
<circle cx="382.9" cy="862.3" r="4" fill="#5e52ca"/>
<circle cx="387.6" cy="850.5" r="4" fill="#e20068"/>
<circle cx="365.6" cy="858.4" r="4" fill="#ba008d"/>
<circle cx="421.9" cy="862.3" r="4" fill="#0076e5"/>
<circle cx="380.7" cy="846.5" r="4" fill="#6250c9"/>
<circle cx="399.0" cy="854.4" r="4" fill="#0081e9"/>
<circle cx="472.5" cy="858.4" r="4" fill="#0081e9"/>
<circle cx="382.2" cy="854.4" r="4" fill="#6b4ac3"/>
<circle cx="438.0" cy="858.4" r="4" fill="#ed004b"/>
<circle cx="383.9" cy="870.2" r="4" fill="#007be8"/>
<circle cx="405.0" cy="846.5" r="4" fill="#ed004b"/>
<circle cx="419.5" cy="846.5" r="4" fill="#007fe8"/>
<circle cx="404.5" cy="870.2" r="4" fill="#0077e6"/>
<circle cx="377.6" cy="846.5" r="4" fill="#ac0095"/>
<circle cx="390.3" cy="870.2" r="4" fill="#3b60d6"/>
<circle cx="369.7" cy="854.4" r="4" fill="#b20092"/>
<circle cx="421.8" cy="854.4" r="4" fill="#0081e9"/>
<circle cx="401.1" cy="866.3" r="4" fill="#694bc4"/>
<circle cx="404.3" cy="850.5" r="4" fill="#8a2ca8"/>
<circle cx="365.6" cy="862.3" r="4" fill="#0079e7"/>
<circle cx="429.1" cy="858.4" r="4" fill="#0068dc"/>
<circle cx="402.8" cy="858.4" r="4" fill="#ec0056"/>
<circle cx="391.6" cy="854.4" r="4" fill="#8632ae"/>
<circle cx="460.0" cy="854.4" r="4" fill="#0075e5"/>
<circle cx="352.0" cy="854.4" r="4" fill="#ac0195"/>
<circle cx="376.2" cy="866.3" r="4" fill="#0075e5"/>
<circle cx="403.3" cy="854.4" r="4" fill="#e40066"/>
<circle cx="385.5" cy="858.4" r="4" fill="#ab0296"/>
<circle cx="429.3" cy="858.4" r="4" fill="#0081e9"/>
<circle cx="419.0" cy="870.2" r="4" fill="#0075e5"/>
<circle cx="435.0" cy="862.3" r="4" fill="#1166db"/>
<circle cx="404.4" cy="862.3" r="4" fill="#007ee8"/>
<circle cx="411.0" cy="850.5" r="4" fill="#b8008e"/>
<circle cx="373.4" cy="854.4" r="4" fill="#7741bb"/>
<circle cx="400.2" cy="846.5" r="4" fill="#0081e9"/>
<circle cx="383.0" cy="846.5" r="4" fill="#3f5ed5"/>
<circle cx="410.4" cy="870.2" r="4" fill="#0081e9"/>
<circle cx="399.0" cy="842.6" r="4" fill="#0070e1"/>
<circle cx="425.2" cy="858.4" r="4" fill="#0070e2"/>
<circle cx="398.0" cy="862.3" r="4" fill="#ed004b"/>
<circle cx="401.6" cy="862.3" r="4" fill="#8533af"/>
<circle cx="420.8" cy="846.5" r="4" fill="#007fe8"/>
<circle cx="515.8" cy="858.4" r="4" fill="#ed004b"/>
<circle cx="480.6" cy="858.4" r="4" fill="#ed004b"/>
<circle cx="383.6" cy="870.2" r="4" fill="#d2007a"/>
<circle cx="409.1" cy="846.5" r="4" fill="#991a9d"/>
<circle cx="494.2" cy="858.4" r="4" fill="#ed004b"/>
<circle cx="414.0" cy="858.4" r="4" fill="#bf008a"/>
<circle cx="405.9" cy="854.4" r="4" fill="#b40091"/>
<circle cx="441.5" cy="858.4" r="4" fill="#ed004b"/>
<circle cx="406.9" cy="866.3" r="4" fill="#d80074"/>
<circle cx="379.2" cy="862.3" r="4" fill="#0081e9"/>
<circle cx="393.7" cy="866.3" r="4" fill="#0267dc"/>
<circle cx="380.2" cy="870.2" r="4" fill="#e50064"/>
<circle cx="376.5" cy="862.3" r="4" fill="#e20068"/>
<circle cx="432.9" cy="862.3" r="4" fill="#2664da"/>
<circle cx="453.9" cy="854.4" r="4" fill="#0081e9"/>
<circle cx="412.2" cy="858.4" r="4" fill="#bc008c"/>
<circle cx="432.6" cy="850.5" r="4" fill="#cd007f"/>
<circle cx="367.8" cy="850.5" r="4" fill="#e20068"/>
<circle cx="394.2" cy="858.4" r="4" fill="#7f3ab3"/>
<circle cx="373.4" cy="858.4" r="4" fill="#9c169c"/>
<circle cx="392.9" cy="850.5" r="4" fill="#007be8"/>
<circle cx="366.1" cy="866.3" r="4" fill="#0078e6"/>
<circle cx="409.1" cy="858.4" r="4" fill="#a21199"/>
<circle cx="426.1" cy="854.4" r="4" fill="#7a3eb8"/>
<circle cx="428.4" cy="850.5" r="4" fill="#c30087"/>
<circle cx="461.4" cy="858.4" r="4" fill="#8236b1"/>
<circle cx="427.0" cy="854.4" r="4" fill="#ce007e"/>
<circle cx="418.2" cy="850.5" r="4" fill="#6d49c2"/>
<circle cx="418.2" cy="862.3" r="4" fill="#0081e9"/>
<circle cx="389.4" cy="846.5" r="4" fill="#0081e9"/>
<circle cx="431.5" cy="862.3" r="4" fill="#99199d"/>
<circle cx="355.6" cy="862.3" r="4" fill="#a31099"/>
<circle cx="415.2" cy="866.3" r="4" fill="#0071e3"/>
<circle cx="382.3" cy="850.5" r="4" fill="#006fe1"/>
<circle cx="347.9" cy="854.4" r="4" fill="#882fab"/>
<circle cx="397.1" cy="858.4" r="4" fill="#007ce8"/>
<circle cx="349.3" cy="862.3" r="4" fill="#006de0"/>
<circle cx="415.7" cy="850.5" r="4" fill="#0081e9"/>
<circle cx="402.7" cy="854.4" r="4" fill="#0081e9"/>
<circle cx="405.4" cy="846.5" r="4" fill="#007de8"/>
<circle cx="424.4" cy="850.5" r="4" fill="#007fe8"/>
<circle cx="408.6" cy="866.3" r="4" fill="#bd008c"/>
<circle cx="359.3" cy="854.4" r="4" fill="#7c3db7"/>
<circle cx="447.0" cy="854.4" r="4" fill="#c20088"/>
<circle cx="362.6" cy="854.4" r="4" fill="#df006c"/>
<circle cx="451.3" cy="858.4" r="4" fill="#d2007b"/>
<circle cx="406.7" cy="858.4" r="4" fill="#dd006e"/>
<circle cx="435.3" cy="850.5" r="4" fill="#6c49c2"/>
<circle cx="401.8" cy="846.5" r="4" fill="#ed004b"/>
<circle cx="389.6" cy="850.5" r="4" fill="#644ec7"/>
<circle cx="345.7" cy="858.4" r="4" fill="#b7008f"/>
<circle cx="406.0" cy="862.3" r="4" fill="#7245bf"/>
<circle cx="423.0" cy="854.4" r="4" fill="#cf007e"/>
<circle cx="456.4" cy="862.3" r="4" fill="#e70061"/>
<circle cx="419.4" cy="866.3" r="4" fill="#006de0"/>
<circle cx="352.3" cy="858.4" r="4" fill="#7444be"/>
<circle cx="376.2" cy="854.4" r="4" fill="#aa0396"/>
<circle cx="380.4" cy="854.4" r="4" fill="#8631ad"/>
<circle cx="412.1" cy="846.5" r="4" fill="#644ec7"/>
<circle cx="384.5" cy="846.5" r="4" fill="#694cc4"/>
<circle cx="374.9" cy="862.3" r="4" fill="#007be8"/>
<circle cx="397.0" cy="862.3" r="4" fill="#a60a98"/>
<circle cx="385.6" cy="866.3" r="4" fill="#b9008d"/>
<circle cx="357.1" cy="854.4" r="4" fill="#0068dc"/>
<circle cx="376.9" cy="850.5" r="4" fill="#6e49c1"/>
<circle cx="411.6" cy="854.4" r="4" fill="#b6008f"/>
<circle cx="395.3" cy="850.5" r="4" fill="#0067dc"/>
<circle cx="381.1" cy="866.3" r="4" fill="#0081e9"/>
<circle cx="395.2" cy="862.3" r="4" fill="#ed004c"/>
<circle cx="413.4" cy="862.3" r="4" fill="#0078e6"/>
<circle cx="380.1" cy="858.4" r="4" fill="#1b65db"/>
<circle cx="412.0" cy="842.6" r="4" fill="#0073e4"/>
<circle cx="397.4" cy="854.4" r="4" fill="#0081e9"/>
<circle cx="500.0" cy="858.4" r="4" fill="#ed004b"/>
<circle cx="413.4" cy="850.5" r="4" fill="#8d26a5"/>
<circle cx="401.7" cy="870.2" r="4" fill="#0081e9"/>
<circle cx="362.5" cy="858.4" r="4" fill="#6a4bc4"/>
<circle cx="420.9" cy="858.4" r="4" fill="#1c65db"/>
<circle cx="401.8" cy="850.5" r="4" fill="#0077e6"/>
<circle cx="373.4" cy="850.5" r="4" fill="#0077e6"/>
<circle cx="390.1" cy="862.3" r="4" fill="#b50090"/>
<circle cx="343.7" cy="858.4" r="4" fill="#0076e5"/>
<circle cx="400.1" cy="850.5" r="4" fill="#ed004b"/>
<circle cx="386.8" cy="870.2" r="4" fill="#eb0059"/>
<circle cx="416.6" cy="854.4" r="4" fill="#0079e7"/>
<circle cx="404.6" cy="866.3" r="4" fill="#006add"/>
<circle cx="389.3" cy="858.4" r="4" fill="#9121a1"/>
<circle cx="395.2" cy="854.4" r="4" fill="#0081e9"/>
<circle cx="399.7" cy="866.3" r="4" fill="#0069dd"/>
<circle cx="416.7" cy="862.3" r="4" fill="#ed004b"/>
<circle cx="413.9" cy="854.4" r="4" fill="#8137b2"/>
<circle cx="334.9" cy="858.4" r="4" fill="#0081e9"/>
<circle cx="361.1" cy="858.4" r="4" fill="#db0071"/>
<circle cx="355.2" cy="858.4" r="4" fill="#0081e9"/>
<circle cx="338.4" cy="858.4" r="4" fill="#a60c99"/>
<circle cx="455.9" cy="858.4" r="4" fill="#ed004b"/>
<circle cx="383.1" cy="866.3" r="4" fill="#0081e9"/>
<circle cx="391.7" cy="866.3" r="4" fill="#ed004b"/>
<circle cx="434.2" cy="854.4" r="4" fill="#eb0059"/>
<circle cx="368.4" cy="854.4" r="4" fill="#007ee8"/>
<circle cx="408.1" cy="862.3" r="4" fill="#882eab"/>
<circle cx="361.4" cy="862.3" r="4" fill="#a0139a"/>
<circle cx="408.7" cy="850.5" r="4" fill="#007be8"/>
<circle cx="457.8" cy="854.4" r="4" fill="#0081e9"/>
<circle cx="387.9" cy="862.3" r="4" fill="#ed004b"/>
<circle cx="386.6" cy="866.3" r="4" fill="#9220a0"/>
<circle cx="414.8" cy="858.4" r="4" fill="#7f3ab3"/>
<circle cx="439.1" cy="858.4" r="4" fill="#9d169c"/>
<circle cx="371.2" cy="858.4" r="4" fill="#be008c"/>
<circle cx="381.1" cy="850.5" r="4" fill="#cb0081"/>
<circle cx="529.4" cy="858.4" r="4" fill="#ed004b"/>
<circle cx="342.1" cy="858.4" r="4" fill="#d2007a"/>
<circle cx="420.8" cy="850.5" r="4" fill="#ed004e"/>
<circle cx="432.9" cy="858.4" r="4" fill="#ed004b"/>
<line x1="155.4" y1="913.2" x2="767.4" y2="913.2" stroke="#1e1e1e" stroke-width="2.8"/>
<line x1="166.0" y1="913" x2="166.0" y2="920" stroke="#222" stroke-width="1.7"/>
<text transform="translate(166.00,942.80) scale(1,1.041)" font-size="22.2" fill="#111" text-anchor="middle">-10</text>
<line x1="280.7" y1="913" x2="280.7" y2="920" stroke="#222" stroke-width="1.7"/>
<text transform="translate(280.70,942.80) scale(1,1.041)" font-size="22.2" fill="#111" text-anchor="middle">-5</text>
<line x1="395.4" y1="913" x2="395.4" y2="920" stroke="#222" stroke-width="1.7"/>
<text transform="translate(395.40,942.80) scale(1,1.041)" font-size="22.2" fill="#111" text-anchor="middle">0</text>
<line x1="510.1" y1="913" x2="510.1" y2="920" stroke="#222" stroke-width="1.7"/>
<text transform="translate(510.10,942.80) scale(1,1.041)" font-size="22.2" fill="#111" text-anchor="middle">5</text>
<line x1="624.8" y1="913" x2="624.8" y2="920" stroke="#222" stroke-width="1.7"/>
<text transform="translate(624.80,942.80) scale(1,1.041)" font-size="22.2" fill="#111" text-anchor="middle">10</text>
<line x1="739.5" y1="913" x2="739.5" y2="920" stroke="#222" stroke-width="1.7"/>
<text transform="translate(739.50,942.80) scale(1,1.041)" font-size="22.2" fill="#111" text-anchor="middle">15</text>
<text transform="translate(461.60,975.60) scale(1,1.041)" font-size="26.5" fill="#111" text-anchor="middle">SHAP value (impact on model output)</text>
<text transform="translate(108.60,100.00) scale(1,1.041)" font-size="26.3" fill="#111" text-anchor="end">DVI</text>
<text transform="translate(108.60,154.84) scale(1,1.041)" font-size="26.3" fill="#111" text-anchor="end">NDGI</text>
<text transform="translate(108.60,209.68) scale(1,1.041)" font-size="26.3" fill="#111" text-anchor="end">TVI</text>
<text transform="translate(108.60,264.52) scale(1,1.041)" font-size="26.3" fill="#111" text-anchor="end">SAVI</text>
<text transform="translate(108.60,319.36) scale(1,1.041)" font-size="26.3" fill="#111" text-anchor="end">GRVI</text>
<text transform="translate(108.60,374.20) scale(1,1.041)" font-size="26.3" fill="#111" text-anchor="end">Green</text>
<text transform="translate(108.60,429.04) scale(1,1.041)" font-size="26.3" fill="#111" text-anchor="end">RedEdge</text>
<text transform="translate(108.60,483.88) scale(1,1.041)" font-size="26.3" fill="#111" text-anchor="end">NIR</text>
<text transform="translate(108.60,538.72) scale(1,1.041)" font-size="26.3" fill="#111" text-anchor="end">RDVI</text>
<text transform="translate(108.60,593.56) scale(1,1.041)" font-size="26.3" fill="#111" text-anchor="end">GI</text>
<text transform="translate(108.60,648.40) scale(1,1.041)" font-size="26.3" fill="#111" text-anchor="end">Red</text>
<text transform="translate(108.60,703.24) scale(1,1.041)" font-size="26.3" fill="#111" text-anchor="end">OSAVI</text>
<text transform="translate(108.60,758.08) scale(1,1.041)" font-size="26.3" fill="#111" text-anchor="end">NLI</text>
<text transform="translate(108.60,812.92) scale(1,1.041)" font-size="26.3" fill="#111" text-anchor="end">CLgreen</text>
<text transform="translate(108.60,867.76) scale(1,1.041)" font-size="26.3" fill="#111" text-anchor="end">RVI</text>
<rect x="804.1" y="36" width="10.6" height="876.5" fill="url(#cb)"/>
<text transform="translate(822.40,43.60) scale(1,1.041)" font-size="22" fill="#111">High</text>
<text transform="translate(822.40,921.40) scale(1,1.041)" font-size="22" fill="#111">Low</text>
<text transform="translate(885.00,475.00) rotate(-90) scale(1,1.041)" font-size="24.4" fill="#111" text-anchor="middle">Feature value</text>
<text transform="translate(461.20,23.90) scale(1,1.041)" font-size="32.5" fill="#000" text-anchor="middle" font-weight="bold">Feature Importance for Sorghum Yield Prediction</text>
</svg></body></html>
